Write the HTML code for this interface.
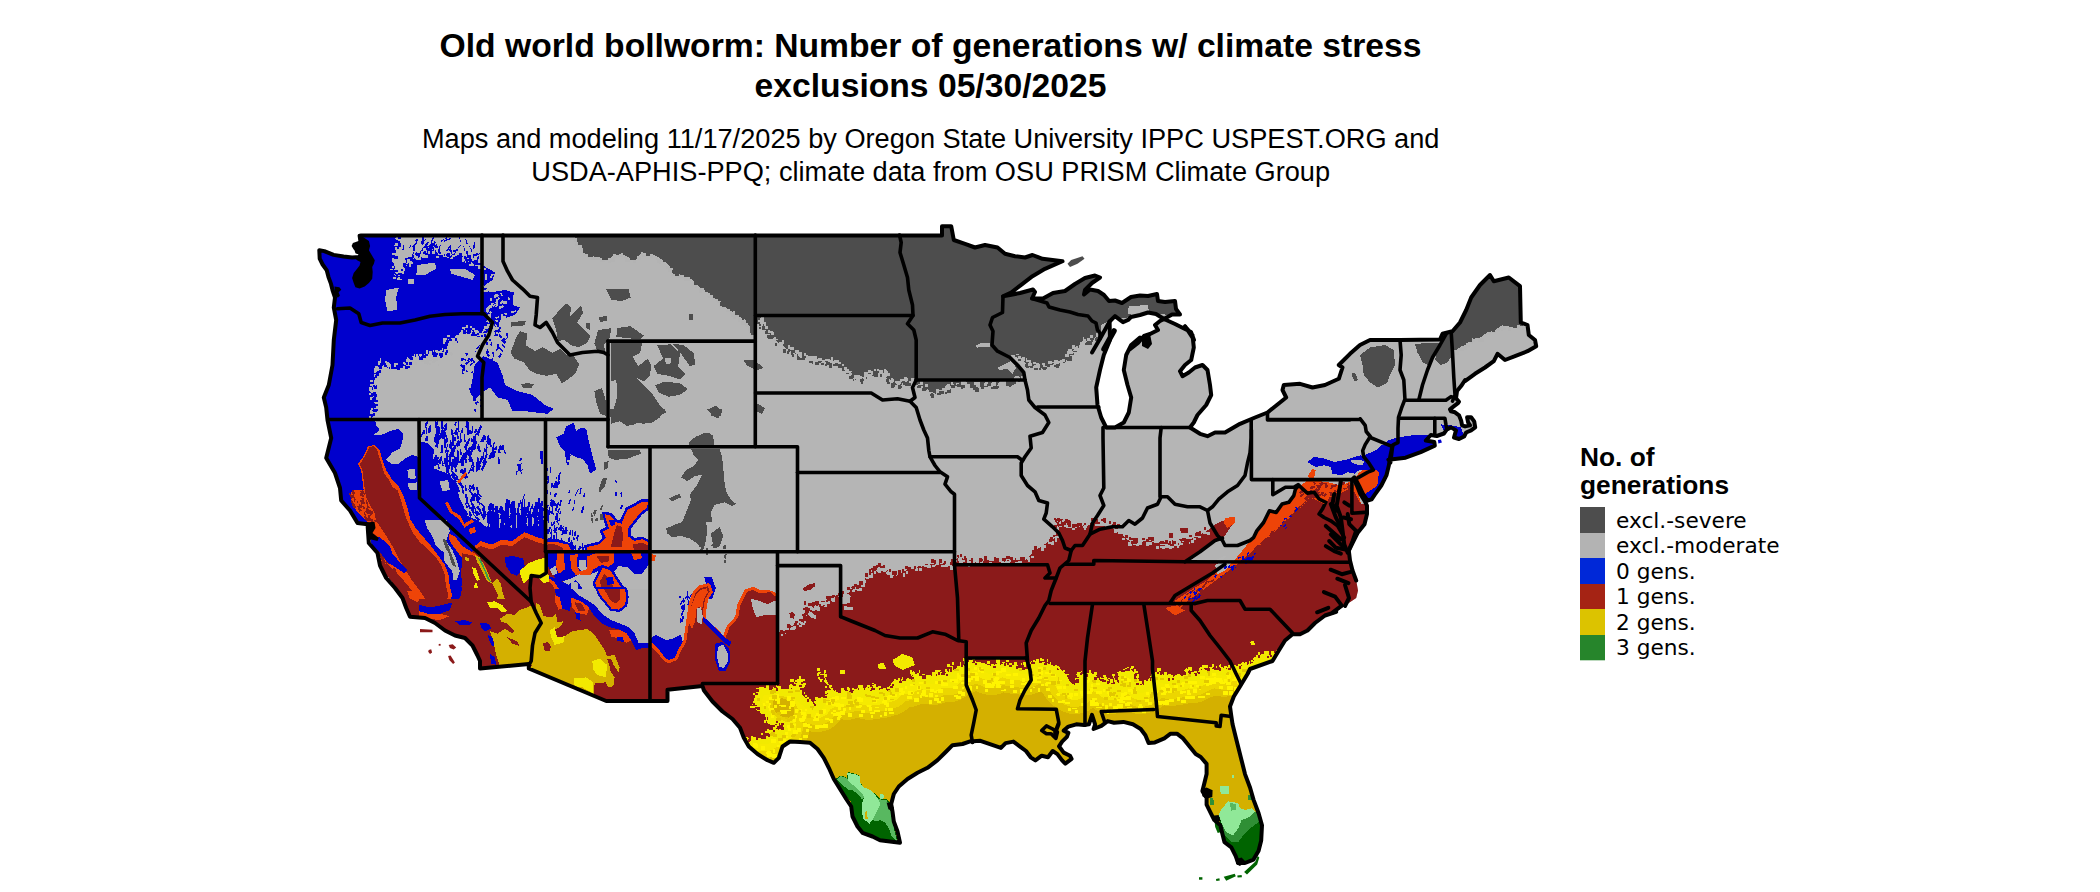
<!DOCTYPE html>
<html><head><meta charset="utf-8"><title>Old world bollworm</title>
<style>html,body{margin:0;padding:0;background:#fff;width:2100px;height:892px;overflow:hidden}</style>
</head><body>
<svg width="2100" height="892" viewBox="0 0 2100 892" style="position:absolute;left:0;top:0">
<defs><clipPath id="us"><path d="M361.2 235.5 L359.6 235.7 L360.5 241.8 L355.4 246.0 L357.1 251.9 L360.5 252.8 L359.6 257.0 L352.1 257.4 L343.6 256.5 L333.6 254.9 L324.3 251.1 L319.3 250.2 L319.7 258.6 L322.6 264.5 L326.8 270.4 L328.5 277.1 L331.0 283.9 L332.5 290.0 L335.0 297.5 L333.8 307.5 L336.2 320.0 L333.8 340.0 L332.5 365.0 L328.8 385.0 L323.8 397.5 L326.2 407.5 L327.5 420.0 L331.2 438.0 L326.2 458.0 L335.0 473.0 L340.0 488.0 L341.2 500.5 L350.0 510.5 L357.5 523.0 L367.5 524.2 L368.8 543.0 L377.5 553.0 L380.0 565.5 L386.2 578.0 L395.0 588.0 L402.5 598.0 L406.2 608.0 L410.0 616.8 L425.0 618.0 L435.0 623.0 L445.0 630.5 L455.0 635.5 L465.0 638.0 L472.5 645.5 L477.5 655.5 L480.0 661.0 L480.0 668.5 L528.8 664.0 L528.8 668.5 L606.2 701.0 L667.5 701.0 L667.5 689.8 L702.5 686.0 L703.8 690.2 L712.5 701.5 L722.5 711.5 L732.5 719.0 L740.0 727.8 L743.8 737.8 L748.8 746.5 L757.5 754.0 L767.5 760.2 L773.8 762.8 L778.8 757.8 L782.5 746.5 L790.0 741.5 L800.0 742.0 L810.0 742.8 L817.5 749.0 L823.8 757.8 L828.8 767.8 L833.8 779.0 L840.0 789.0 L846.2 799.0 L851.2 806.5 L852.5 816.5 L857.5 826.5 L862.5 832.8 L872.5 836.5 L880.0 840.2 L890.0 841.5 L900.0 842.8 L897.5 831.5 L893.8 821.5 L892.5 811.5 L891.2 804.0 L893.8 794.0 L898.8 786.5 L907.5 779.0 L917.5 772.8 L927.5 767.8 L937.5 760.2 L946.2 751.5 L952.5 745.2 L962.5 744.0 L969.4 741.6 L980.4 740.8 L991.4 744.7 L1000.9 747.9 L1005.6 743.1 L1013.4 741.6 L1019.7 746.3 L1026.0 751.0 L1030.7 757.3 L1035.4 760.4 L1041.7 755.7 L1048.0 757.3 L1052.7 751.0 L1057.4 754.1 L1062.1 760.4 L1065.3 763.6 L1071.6 758.9 L1070.0 755.7 L1063.7 752.6 L1059.0 746.3 L1062.1 741.6 L1066.9 736.9 L1068.4 732.9 L1063.7 730.6 L1068.4 726.6 L1076.3 724.3 L1084.1 725.1 L1088.9 724.3 L1092.0 714.9 L1095.1 724.3 L1093.6 729.0 L1101.4 725.9 L1107.7 721.1 L1114.0 722.7 L1123.4 721.9 L1132.9 724.3 L1140.7 729.0 L1145.4 735.3 L1148.6 743.1 L1154.9 742.4 L1164.3 738.4 L1170.6 733.7 L1176.9 733.7 L1183.1 738.4 L1189.4 746.3 L1195.7 754.1 L1200.7 757.0 L1206.6 763.9 L1206.6 774.1 L1204.1 784.3 L1202.4 791.1 L1206.6 797.9 L1206.6 804.7 L1210.9 813.3 L1214.3 820.1 L1220.3 825.2 L1222.8 835.4 L1224.5 842.2 L1231.3 847.3 L1235.6 855.9 L1238.2 863.0 L1245.0 863.0 L1253.5 859.6 L1258.6 850.7 L1261.2 840.5 L1262.0 825.2 L1258.6 813.3 L1253.5 799.6 L1250.1 787.7 L1245.0 774.1 L1241.6 760.4 L1236.2 739.0 L1232.5 724.0 L1231.2 715.2 L1230.0 706.5 L1233.8 696.5 L1240.0 686.5 L1247.5 674.0 L1250.0 669.0 L1272.5 661.0 L1278.8 650.5 L1285.0 640.5 L1292.5 634.2 L1300.0 634.2 L1307.5 630.5 L1315.0 623.0 L1325.0 615.5 L1336.2 611.8 L1345.0 605.5 L1356.2 598.0 L1358.0 590.5 L1356.2 580.5 L1352.5 570.5 L1350.0 560.5 L1348.8 550.5 L1352.5 543.0 L1357.5 533.0 L1364.5 524.2 L1367.0 514.1 L1367.0 505.7 L1364.5 500.7 L1360.3 493.9 L1356.9 485.5 L1354.4 480.5 L1355.7 479.3 L1359.1 485.9 L1362.8 493.6 L1367.5 500.7 L1371.6 499.3 L1374.6 494.8 L1381.3 485.5 L1386.4 475.4 L1388.9 465.3 L1390.0 458.0 L1392.5 445.5 L1390.4 462.7 L1388.4 459.7 L1405.6 457.7 L1420.7 452.1 L1434.8 445.6 L1434.3 442.0 L1425.8 440.5 L1430.8 435.0 L1436.8 436.0 L1443.9 433.5 L1446.9 429.4 L1451.0 427.4 L1456.0 430.4 L1454.0 437.5 L1459.0 439.0 L1464.1 436.5 L1466.1 432.5 L1471.1 430.4 L1475.2 427.4 L1474.2 421.4 L1471.1 417.3 L1467.1 417.3 L1468.1 422.4 L1470.1 425.4 L1465.1 426.4 L1462.1 425.4 L1461.1 420.4 L1459.0 415.3 L1455.0 412.3 L1451.0 411.3 L1450.0 409.3 L1454.0 406.2 L1458.0 403.2 L1459.0 401.7 L1456.0 398.2 L1457.0 391.1 L1461.1 386.1 L1465.1 380.0 L1465.0 381.2 L1475.0 373.8 L1485.0 367.5 L1493.8 361.2 L1497.5 353.8 L1505.0 360.0 L1515.0 356.2 L1527.5 351.2 L1536.2 346.2 L1535.0 340.0 L1528.8 335.0 L1527.5 325.0 L1520.8 322.5 L1520.0 286.2 L1508.8 277.5 L1493.8 281.2 L1490.0 275.0 L1480.0 285.0 L1471.2 297.5 L1466.2 310.0 L1460.0 322.5 L1452.5 331.2 L1442.5 333.8 L1440.0 339.5 L1400.0 340.0 L1370.0 340.0 L1360.0 345.0 L1350.0 353.8 L1338.8 365.0 L1342.5 367.5 L1338.8 378.8 L1325.0 385.0 L1312.5 387.5 L1300.0 383.8 L1283.8 385.0 L1282.5 390.0 L1286.2 397.5 L1280.0 402.5 L1267.5 412.5 L1255.0 417.5 L1240.0 423.8 L1225.0 432.5 L1215.0 432.5 L1207.5 436.2 L1200.0 433.8 L1190.0 427.5 L1193.8 422.5 L1197.5 415.0 L1206.2 405.0 L1211.2 395.0 L1210.0 385.0 L1207.5 370.0 L1202.5 365.0 L1195.0 367.5 L1188.8 372.5 L1182.5 376.2 L1180.0 371.2 L1185.0 365.0 L1191.2 360.0 L1193.8 347.5 L1192.5 335.0 L1185.0 326.2 L1194.0 340.0 L1191.0 332.0 L1185.0 329.0 L1175.0 324.0 L1164.0 319.0 L1160.0 321.0 L1155.0 325.0 L1158.0 330.0 L1150.0 334.0 L1144.0 336.0 L1138.0 343.0 L1130.0 349.2 L1140.0 337.5 L1131.2 345.0 L1126.2 355.0 L1123.8 370.0 L1127.5 385.0 L1131.2 397.5 L1128.8 412.5 L1123.8 422.5 L1115.0 427.5 L1106.2 427.5 L1101.2 417.5 L1097.5 405.0 L1096.2 387.5 L1100.0 370.0 L1103.8 355.0 L1110.0 340.0 L1109.6 321.5 L1115.0 316.1 L1120.3 320.2 L1123.0 322.2 L1128.0 320.0 L1131.0 317.0 L1140.0 315.0 L1148.0 312.5 L1156.0 314.0 L1164.0 319.0 L1172.0 314.5 L1180.0 314.5 L1176.0 309.0 L1175.0 301.0 L1165.0 302.0 L1158.0 301.0 L1157.0 294.0 L1148.0 296.0 L1140.0 295.5 L1131.0 297.0 L1122.0 303.0 L1115.0 300.5 L1109.0 301.0 L1104.0 295.0 L1098.0 291.0 L1090.0 289.5 L1084.0 294.5 L1085.0 290.0 L1092.0 283.0 L1100.0 277.5 L1095.0 275.5 L1085.0 278.0 L1075.0 284.0 L1065.0 291.0 L1053.0 293.0 L1043.0 298.5 L1032.0 298.5 L1035.0 292.0 L1033.0 289.5 L1020.0 293.0 L1010.0 295.0 L1003.0 296.2 L1011.2 292.5 L1022.5 283.8 L1032.5 276.2 L1045.0 268.8 L1062.5 261.2 L1042.5 258.8 L1032.5 255.0 L1025.0 257.5 L1015.0 256.2 L1005.0 253.8 L997.5 247.5 L985.0 245.0 L975.0 247.5 L965.0 243.8 L953.8 240.0 L951.2 226.2 L942.0 226.2 L942.0 235.5Z"/></clipPath></defs>
<g clip-path="url(#us)" shape-rendering="crispEdges">
<rect x="300" y="215" width="1260" height="677" fill="#b5b5b5"/>
<path d="M572.5 233.8L582.5 247.5L590 256.2L607.5 258.8L620 252.5L632.5 260L642.5 252.5L655 255L667.5 263.8L675 273.8L690 277.5L700 287.5L712.5 295L725 307.5L737.5 315L747.5 322.5L753.8 337.5L758.8 318.8L762.5 327.5L775 340L790 351.2L810 360L827.5 362.5L827.5 233.8Z" fill="#4d4d4d"/>
<path d="M610.6 343.4L642 343.4L640.1 352.9L632.5 356.7L638.2 366.2L647.7 358.6L651.5 366.2L649.6 375.8L643.9 381.5L636.3 377.7L651.5 392.9L659.2 404.4L666.8 412L659.2 415.8L651.5 421.5L643.9 419.6L632.5 425.3L622.9 421.5L613.4 412L610.6 396.7Z" fill="#4d4d4d"/>
<path d="M611.1 381.5L616.3 379.6L617.2 396.7L613.4 410.1L611.1 404.4Z" fill="#b3b3b3"/>
<path d="M657.3 345.3L670.6 344.3L680.1 352.9L678.2 366.2L685.8 373.9L680.1 379.6L668.7 375.8L657.3 373.9L653.4 366.2L663 358.6Z" fill="#4d4d4d"/>
<path d="M672.5 343.4L683.9 345.3L693.5 352.9L695.4 364.3L689.7 366.2L682 354.8Z" fill="#4d4d4d"/>
<path d="M655.3 385.3L664.9 381.5L680.1 383.4L687.8 389.1L680.1 394.8L668.7 396.7L659.2 392.9Z" fill="#4d4d4d"/>
<path d="M664.9 358.6L670.6 357.7L670.6 363.4L665.8 364.3Z" fill="#b3b3b3"/>
<path d="M708.7 409.1L716.3 405.3L722.4 412L718.2 418.1L711.6 415.8Z" fill="#4d4d4d"/>
<path d="M743 359.6L754.5 360.5L764 368.1L756.4 370.1L746.8 365.3Z" fill="#4d4d4d"/>
<path d="M757.3 403.4L764.9 408.2L762.1 413.9L757.3 412Z" fill="#4d4d4d"/>
<path d="M687.8 443.4L697.3 436.8L704.9 432.9L712.5 434.9L714.4 444.4Z" fill="#4d4d4d"/>
<path d="M510.5 352.9L516.2 337.6L520 331L527.6 333.8L525.7 345.3L535.3 351L542.9 347.2L552.4 352.9L560.1 349.1L565.8 354.8L571.5 352.9L579.1 364.3L575.3 373.9L567.7 379.6L562 383.4L556.2 373.9L546.7 375.8L537.2 373.9L529.6 370.1L523.8 362.4L514.3 358.6Z" fill="#4d4d4d"/>
<path d="M521 384.3L527.6 383L534.3 384.3L531.5 387.6L522.9 387.6Z" fill="#4d4d4d"/>
<path d="M594.4 391L602 388.2L605.8 400.5L605.8 415.8L600.1 413.9L596.3 402.5Z" fill="#4d4d4d"/>
<path d="M552.4 318.6L560.1 309.1L565.8 303.3L571.5 307.2L569.6 316.7L575.3 311L581 305.2L582.9 312.9L577.2 322.4L582.9 328.1L590.5 335.7L586.7 343.4L579.1 347.2L571.5 345.3L563.9 339.6L558.1 341.5L556.2 330Z" fill="#4d4d4d"/>
<path d="M598.2 330L611.5 328.1L609.6 337.6L603.9 345.3L605.8 352.9L598.2 352.9L594.4 343.4Z" fill="#4d4d4d"/>
<path d="M617.2 328.1L630.6 326.2L643.9 335.7L640.1 339.2L624.9 338L616.3 336.7Z" fill="#4d4d4d"/>
<path d="M605.8 289L628.7 289L630.6 297.6L621 301.4L611.5 299.5Z" fill="#4d4d4d"/>
<path d="M599.1 316.7L606.7 316.3L607.3 321.4L599.7 321.6Z" fill="#4d4d4d"/>
<path d="M688.7 313.8L692.5 313.8L692.9 319.5L689.1 319.5Z" fill="#4d4d4d"/>
<path d="M585.8 322.4L590.5 323.4L589.6 330L585.8 328.1Z" fill="#4d4d4d"/>
<path d="M510.5 322.4L525.7 320.5L524.8 325.3L511.4 326.6Z" fill="#4d4d4d"/>
<path d="M315 233.8L398.8 233.8L397.5 247.5L393.8 257.5L395 267.5L392.5 275L402.5 277.5L405 268.8L410 261.2L417.5 256.2L425 255L430 247.5L431.2 238.8L433.8 247.5L440 257.5L450 256.2L458.8 250L460 257.5L470 262.5L482 265L495 272.5L492.5 280L485 285L490 292.5L505 290L513.8 292.5L512.5 305L520 307.5L515 315L500 320L497.5 330L492.5 322.5L485 332.5L475 335L470 327.5L460 332.5L455 340L450 337.5L445 342.5L443.8 355L435 352.5L425 355L417.5 357.5L410 355L407.5 365L400 367.5L395 365L387.5 367.5L382.5 360L377.5 370L373.8 382.5L372.5 395L375 405L372.5 417.5L372.5 440L315 440Z" fill="#0000cd"/>
<path d="M417.5 265L435 262.5L436.2 268.8L425 275L416.2 275Z" fill="#b3b3b3"/>
<path d="M450 268.8L465 268.8L475 275L472.5 280L460 276.2L451.2 273.8Z" fill="#b3b3b3"/>
<path d="M386.2 290L398.8 287.5L396.2 297.5L397.5 310L387.5 311.2L385 300Z" fill="#b3b3b3"/>
<path d="M407.5 278.8L413.8 278.8L413.8 283.8L407.5 283.8Z" fill="#b3b3b3"/>
<path d="M502.6 301.5L503.3 302.6L501.1 304.6L499.8 302.8ZM507.6 297.5L508.9 296.9L510.6 299.4L508.4 300.4ZM491.5 305.9L492.1 307.6L488.4 309.6L487.4 306.7ZM494.3 295.5L495.1 293.9L498 294.6L496.6 297.4ZM496 326.4L497.8 327.1L496.9 331.2L493.9 330.1ZM489 312.1L490 311.1L491.9 312.4L490.2 314.1ZM483.4 291.9L483.4 290.5L488.5 290.2L488.4 292.6ZM485.6 290.2L485.8 289L489.9 289.4L489.5 291.4ZM500.4 293.3L501.4 292.9L502.8 295.9L501.1 296.5ZM487.5 308.9L489 309.7L488.1 312.9L485.5 311.6ZM490.7 304.7L491.6 305.5L490.1 307.6L488.6 306.3ZM497.4 298.2L498.3 297.3L500.1 298.6L498.6 300ZM504.8 315.4L506 316.4L505.1 318.3L503.1 316.6ZM485.4 274.3L486.7 274.4L486.9 279.8L484.6 279.6ZM490.7 275.6L492.2 276.3L491.9 278.4L489.3 277.1ZM497.9 293.8L498.9 295.5L494.9 298.7L493.2 296ZM489.3 316.9L490.9 317.7L488.9 322.8L486.3 321.5ZM501.5 314.3L502.8 314.2L503.3 318.9L501.2 319ZM485.9 308.6L487.5 307.8L489.6 311L487 312.2ZM495 303.5L495.7 304.3L493.3 306.9L492.2 305.6ZM487.2 316.5L487.5 314.5L491.5 314.4L491 317.8ZM501.1 301.2L502.3 300.3L504.2 301.8L502.3 303.4ZM496.8 303.1L498 303.6L497.1 307.6L495 306.8ZM489.8 316.8L491.2 317.2L490.7 321.2L488.2 320.6ZM482.9 286.5L483.5 285.3L487.4 286.6L486.4 288.7ZM495.6 326.3L497.4 325.2L500.9 329.6L497.8 331.4ZM501.7 318.8L502.2 316.7L505.7 316.8L504.9 320.3ZM495.3 324.5L496.2 324.2L497.1 325.8L495.5 326.3ZM498.6 316.3L499 317.5L495.7 319L495.1 317.1ZM501.4 303.2L501.6 301.2L507 300.9L506.8 304.2ZM489.1 305.1L490.5 306.1L488.1 310.5L485.8 308.9ZM484 269.5L484.4 268.3L486.3 268.5L485.7 270.5ZM489.6 300.3L490.6 298.3L492.8 298.7L491.1 302ZM493.2 302.6L493.8 304.3L491.8 305.6L490.9 302.8ZM507 312.9L507.4 314.6L504.8 315.8L504.2 312.9ZM515.9 310.2L516.3 311.3L511.8 313.3L511.1 311.5ZM494.8 273.7L495.2 274.7L491.3 276.4L490.7 274.7ZM494.9 321L495.2 319.6L498.3 319.7L497.8 322.1ZM503.3 305.1L504 306.7L499.7 309.3L498.5 306.6ZM496.2 298.8L498.1 299L498.3 303.7L495.1 303.4Z" fill="#b3b3b3"/>
<path d="M505.9 333L507.4 332.9L508.2 336L505.7 336.2ZM496.4 330.1L497.3 331.4L495.6 333.2L494.1 331ZM486.1 342.3L487.5 342.4L487.8 345.5L485.5 345.4ZM496.4 330L497 329.6L499.4 332.7L498.4 333.3ZM498.1 348.4L498.6 349.1L496.4 351.2L495.4 350ZM493.7 361.5L494.5 361.1L496.2 364.1L494.7 364.7ZM498.4 335.1L499.4 334.2L502.3 337L500.5 338.4ZM496.4 324.4L497.1 324L498.9 326.6L497.8 327.2ZM503.3 338.2L504.8 338.4L504.9 341.5L502.4 341.1ZM492.2 352.3L493.3 351.9L494.6 354.8L492.9 355.3ZM501.5 344.6L502 344.1L505.3 346.7L504.5 347.6ZM485.2 350.8L486.2 350.2L488.2 352.5L486.6 353.6ZM498.4 329.1L499.7 328.8L500.6 331.5L498.5 331.9ZM501.1 340.2L502 339L506.5 341.8L504.9 343.9ZM488.7 339.4L489.8 338.6L491.5 340.4L489.6 341.6ZM492.9 355.4L493.7 355.3L494 357.2L492.7 357.2ZM498.7 327L499.8 326.4L501.5 328.9L499.7 329.8ZM498.5 348.1L499.3 347.2L503.6 350.6L502.3 352ZM497.1 333.6L497.7 334.4L494.9 337L493.9 335.7ZM487.8 357.6L488.9 358L487.9 361.5L486.1 360.8ZM491.6 341.1L492.2 341.1L492.4 345.6L491.2 345.6ZM485.9 351.5L486.7 351.3L488.3 355.4L487.1 355.8ZM497.5 344.3L498.7 344.5L498.5 349.7L496.5 349.5ZM500.7 353.2L501.8 353.9L500 357.9L498 356.8ZM487 349L487.9 348.9L488.9 353L487.4 353.3ZM487.3 354.2L488.8 353.6L490.3 356.2L487.9 357.1ZM507.4 336.4L508 336.8L506.2 340L505.1 339.3ZM492.2 358.2L493.3 358.7L492.7 360.9L490.9 360ZM494.3 333.8L495.2 332.8L498.4 335L496.9 336.7ZM491.3 342L492.2 342.4L491.1 345.5L489.8 345Z" fill="#0000cd"/>
<path d="M436.7 244.4L437.2 245.3L434.7 247L433.9 245.6ZM459.2 236.7L459.8 236.6L461 242.4L460 242.6ZM466.3 250.8L467.6 250.6L469 257.8L466.8 258.1ZM428 241.6L429.1 242.5L424.9 248.7L423 247.3ZM469.3 254.8L470.4 254.7L471.4 259.5L469.5 259.7ZM450.2 249.7L451.5 249.5L452.4 252L450.2 252.4ZM429.8 245.1L430.1 245.8L424.9 248.2L424.5 247.2ZM477.4 252.8L477.8 253.6L473.6 256.1L472.9 254.8ZM429.6 243.7L430.3 243.7L429.8 251.6L428.8 251.5ZM459.1 254.3L459.8 254.6L458.5 258.1L457.4 257.6ZM477.8 256.3L479 256.6L477.3 264.2L475.4 263.6ZM403.4 244.8L404.3 244.9L403.6 250.4L402.2 250.1ZM426.2 238.6L426.7 239.3L421.1 243.4L420.3 242.1ZM411 243.6L411.5 243.8L410.2 248.4L409.2 248ZM413.7 245.7L414.9 245.7L415.4 251L413.3 251ZM420.8 250.4L421.5 250.6L419.7 257.1L418.5 256.7ZM446.7 236.3L447.5 236.7L446.6 239.5L445.2 238.9ZM479.8 253.2L480.1 254.2L475.7 256.2L475.1 254.7ZM413.3 252.3L414 252.5L412 259.3L410.9 258.9ZM450.6 238L450.9 238.9L444 242L443.4 240.6ZM433.9 235.7L434.7 236L432.1 242.3L430.7 241.7ZM439.8 244.4L440.7 244.6L439.8 251L438.2 250.7ZM463.1 245.7L463.6 245.5L465.4 251.1L464.5 251.3ZM405 258.3L405.8 258.1L407.5 262.5L406.3 262.9ZM422.4 248.4L423.5 248.8L422.9 251.4L421.2 250.7ZM450.3 244.8L451 245.2L447.5 251.3L446.4 250.6ZM418 238.2L418.8 238.9L416.7 241.8L415.3 240.5ZM426.3 246.6L427.4 246.4L428.5 251.1L426.8 251.4ZM416.3 241.9L417.1 242.6L413.6 248L412.1 246.9ZM420.7 241.9L421.5 241.5L423.4 244.9L422.1 245.5ZM460.6 245.3L461 245.8L458.1 248.7L457.4 247.8ZM434.3 241.3L435.7 241.7L434.6 246.6L432.3 245.9ZM416.1 252.2L417.3 252.7L416.5 255.6L414.5 254.8ZM458.2 252.5L459.1 252.5L459.4 255.5L457.9 255.5ZM474.2 242.3L475.3 242.6L474.3 249.1L472.5 248.7ZM449.3 246.7L450.1 247.3L448 251L446.6 250ZM465.4 239.1L466.3 238.9L467.8 243.9L466.2 244.3ZM411.2 256.3L411.7 257.2L406.7 259.9L405.9 258.3ZM422.5 237.1L423.7 237.2L423.6 244.4L421.6 244.3ZM429.2 244.9L430.2 244.9L430.3 248.9L428.6 248.8ZM412.7 253.5L413.4 253.5L413.8 258.3L412.6 258.4ZM450.2 246.3L451.3 246.5L450.8 251.7L448.9 251.4ZM472.5 253.7L473.5 253.5L474.8 257.4L473.3 257.8ZM444.2 239.1L444.6 239.9L441.1 241.8L440.6 240.7ZM469.2 246.5L469.8 246.2L472.6 251.4L471.6 251.9Z" fill="#0000cd"/>
<path d="M469.5 388.3L471 387.9L471.9 389.9L469.4 390.4ZM482 392.7L483.2 393.6L481.8 396.2L479.9 394.7ZM476.2 389.8L477.3 388.8L480.3 391.3L478.4 393ZM476 349.7L476.6 349.9L476 352.1L474.9 351.7ZM470.8 358.6L471.9 357.8L475.5 361.8L473.6 363.2ZM469.1 358.1L470.1 358.7L468.7 362L467 361ZM466.3 369.5L467.1 369.5L467.5 371.5L466.1 371.5ZM468 358.8L468.5 358.1L472.7 360.8L471.8 362ZM479.6 344.5L480.4 345L477.1 349.8L475.9 348.9ZM479.4 364.3L480.5 364.6L480 367.7L478.1 367.1ZM482.2 389.7L482.7 390.3L480.3 392.4L479.5 391.3ZM479.1 363.4L480 363.2L481.7 368.6L480.3 369ZM465.2 353.7L466.3 352.6L468.3 353.7L466.5 355.6ZM463.4 365.1L464.8 365.3L464.5 371.6L462.1 371.3ZM469.5 391.4L470.5 390.9L471.7 392.8L469.9 393.5ZM476.7 379.6L478.1 380.1L476.6 385.5L474.3 384.7ZM479.5 394.8L480.2 394L483.9 397.1L482.8 398.2ZM462 370.6L462.7 370.4L463.9 374.1L462.6 374.4ZM474.8 408.6L476 409L475.5 411.7L473.5 411ZM482 396.4L483 396.8L481.6 401.1L479.9 400.4ZM459.9 365.5L460.8 364.1L464.1 365.6L462.6 367.9ZM473.3 394.6L474.9 394.5L475.8 400.8L473.2 401ZM474.9 380.2L475.6 379.1L479.8 381.2L478.6 383.1ZM480.9 385.6L481.6 385.5L482.4 388.1L481.1 388.3ZM475.2 402.1L476.3 401.8L477.6 404.4L475.7 405ZM460.9 357.9L462.4 357.7L463.4 360.8L460.9 361.2ZM472.4 362.5L473.2 363.4L470.5 366.4L469.1 364.9ZM477 367.1L477.7 366.6L479.7 369L478.6 369.8ZM476.3 401L476.9 400.6L478.8 402.6L478 403.3ZM479 363.2L479.5 363.9L474.3 367.7L473.5 366.4ZM480.4 405.5L481.8 405.3L483.3 411.2L480.9 411.6ZM469.2 360.2L470.1 361.2L466.5 365.2L465 363.5ZM471.6 371.2L472.7 371.1L473.2 373.2L471.4 373.4ZM463 359.2L463.5 358.3L466.3 359.7L465.4 361.1ZM478.7 381.8L479.9 380.8L484.3 384.9L482.5 386.6Z" fill="#0000cd"/>
<path d="M462.3 322L463 323.2L459.3 325.6L458.3 323.7ZM467.2 323.7L468.9 324.5L468.5 326.9L465.7 325.6ZM467.9 321.6L469.2 322.3L468.7 324.5L466.4 323.3ZM447.8 328.9L448.6 330.4L443.7 333.4L442.5 330.7ZM446.6 323.9L447.8 324.2L447.5 327.2L445.5 326.7ZM460.8 326.6L462.2 327.6L459.5 332.3L457.2 330.7ZM476.5 322.9L477.1 321.8L480.1 323L478.9 324.9ZM486 313.4L486.5 314.2L482 317.5L481.1 316.1ZM464.8 318.2L464.8 319.5L458.5 320.2L458.4 318ZM456 319.8L457 320L456.6 324.5L454.9 324.2ZM473.8 335L473.8 333.4L477 332.9L476.9 335.6ZM481.2 319.2L481.7 317.6L485.6 318.2L484.8 320.9ZM478.5 333.4L478.6 335.2L472.2 336L472.1 333ZM461.8 318.3L462.5 319.5L459.1 321.9L458 319.9ZM453.9 323.2L455.5 323.2L455.9 326.6L453.3 326.6ZM450.5 331.6L450.7 333L444.6 334.6L444.2 332.2ZM464.1 315.2L464.9 313.8L470 316.2L468.6 318.6ZM449.1 334L449.4 335L444.3 337.3L443.6 335.6ZM449.2 316.9L450.3 318.4L446.6 321.9L444.8 319.4ZM469.6 332.2L469.9 333.5L466.9 334.7L466.4 332.5Z" fill="#0000cd"/>
<path d="M426.3 357.4L427.9 357.7L427.6 362.3L424.8 361.8ZM417.2 357.3L417.4 356.1L419.5 356.1L419.1 358.1ZM434.9 358.2L436.2 359.1L433.7 363.2L431.6 361.6ZM436 361.2L436.2 362.3L431.7 363.1L431.5 361.4ZM427.9 360.2L429.2 360.6L429.3 362.2L427.1 361.7ZM427.3 359.2L428.9 358.4L430.7 360.5L428.1 361.9ZM467.1 330.9L468.5 330.1L470.1 332L467.8 333.3ZM433.6 357.9L434.5 358.3L433.9 360.4L432.3 359.7ZM426.7 362.4L427.6 361.3L431.3 363.8L429.7 365.6ZM454.9 342.8L455.8 344.1L453.3 346.4L451.8 344.1ZM470.4 330.7L471.5 330.4L473.1 334.2L471.3 334.8ZM451.7 343.6L452.1 342.3L456.4 343L455.8 345.2ZM470.1 332.2L470.3 330.7L472.9 330.5L472.5 333ZM421.2 361.9L421.3 360.8L424.7 360.6L424.6 362.5ZM424.2 358.8L425.4 360.2L423.2 362.8L421.2 360.4ZM448.6 352.9L450 351.5L453.3 353.7L451 356.1ZM427.8 356.7L428 357.8L425.4 358.6L425.1 356.8ZM429.3 360.9L429.4 360L432.2 359.9L432.1 361.5ZM435.1 360.8L435.1 358.9L437.6 358.4L437.5 361.6ZM428.7 355.4L430.3 354.3L431.9 355.6L429.3 357.4ZM415 362.2L416.7 361.9L417.7 364.3L414.9 364.8ZM434.4 357.8L435.8 358.1L436 359.7L433.6 359.2ZM437.5 363.6L438.2 363.2L439.6 365.1L438.4 365.8ZM423.7 363.5L423.9 361.6L428.6 361.5L428.2 364.8ZM458 340.5L458.4 342.2L455.8 343.3L455.1 340.5Z" fill="#b3b3b3"/>
<path d="M475 365L483.8 356.2L497.5 362.5L502.5 375L505 385L517.5 391.2L532.5 395L545 405L553.8 408.8L547.5 413.8L525 411.2L512.5 411.2L507.5 400L497.5 397.5L490 387.5L483.8 391.2L475 400L470 392.5Z" fill="#0000cd"/>
<path d="M822.5 222.5L822.5 357.5L837.5 362.5L850 375L857.5 381.2L867.5 373.8L882.5 372.5L895 385L910 381.2L916.2 382.5L925 387.5L935 393.8L950 387.5L955 382.5L965 385L980 387.5L1000 385L1012.5 381.2L1022.5 378.8L1025 375L1020 367.5L1012.5 360L1015 356.2L1025 362.5L1037.5 367.5L1050 365L1065 362.5L1072.5 351.2L1082.5 342.5L1092.5 338.8L1100 335L1101.2 325L1112.5 319.5L1125 318L1135 315.5L1127.5 313.8L1128.8 306.2L1147.5 305L1150 313.8L1160 314.2L1180 315.5L1182.5 297.5L1100 272.5L1065 252.5L950 222.5Z" fill="#4d4d4d"/>
<path d="M975 346.2L981.2 342.5L990 343L990 347L977.5 347.5Z" fill="#b3b3b3"/>
<path d="M997.5 368L1005 363.8L1011.2 361.2L1016.2 367.5L1012.5 373.8L1007.5 368.8L1000 370Z" fill="#b3b3b3"/>
<path d="M1452.5 355L1455 350L1465 345L1472.5 338.8L1480 337.5L1487.5 332.5L1495 330L1502.5 325L1507.5 326.2L1515 327.5L1522.5 325L1522.5 272.5L1487.5 272.5L1440 335L1446.2 333.8L1451.2 332.5Z" fill="#4d4d4d"/>
<path d="M1446.2 333.8L1451.2 332.5L1452.5 355L1447.5 362.5L1440 365L1435 360L1437.5 350Z" fill="#4d4d4d"/>
<path d="M1415 343.8L1440 342.5L1438.8 347.5L1432.5 357.5L1427.5 365L1422.5 362.5L1417.5 352.5Z" fill="#4d4d4d"/>
<path d="M1360 355L1370 347.5L1385 345L1393.8 350L1395 365L1390 375L1387.5 382.5L1377.5 387.5L1370 382.5L1363.8 375L1362.5 365Z" fill="#4d4d4d"/>
<path d="M1351.2 373.8L1355 372.5L1358 380L1354.5 381.2Z" fill="#4d4d4d"/>
<path d="M300 419.4L374.9 419.4L376.1 425L379.8 430L373.6 435L381.1 435L389.8 431.2L398.6 428.7L403.6 433.7L402.3 441.2L399.8 448.7L392.3 452.4L386.1 459.9L391.1 463.6L398.6 463.6L404.8 458.7L412.3 454.9L419.1 457.4L420.4 441.2L432.2 444.9L438.5 451.2L437.2 458.7L441 463.6L447.2 472.4L443.5 479.9L439.7 487.4L436 492.3L437.2 499.8L442.2 504.8L449.7 509.8L456 513.6L462.2 521.7L300 521.7Z" fill="#0000cd"/>
<path d="M407.3 469.9L412.3 468.6L414.2 477.4L408.5 478Z" fill="#b3b3b3"/>
<path d="M407.3 483.6L417.3 482.4L417.3 489.8L409.8 489.8Z" fill="#b3b3b3"/>
<path d="M349.9 519.8L546.4 519.8L546.4 544.7L537 542.2L524.6 537.2L512.1 546L502.1 544.7L492.1 549.7L480.9 546L474.7 549.7L465.9 555.9L462.2 562.2L460.9 573.4L462.2 583.4L459.7 593.4L454.7 600.8L444.7 609.6L439.7 618.3L424.8 615.8L419.8 608.3L412.3 595.9L399.8 577.1L387.3 558.4L374.9 539.7L362.4 521Z" fill="#0000cd"/>
<path d="M419.4 441L427.9 443.4L434.4 449.9L432.8 457.3L434.4 468.6L447.4 473.5L457.1 483.3L458.8 496.3L463.6 506L466.9 515.8L478.3 520.6L486.4 527.1L491.3 527.1L497.8 528.8L507.5 525.5L514 528.8L523.8 527.1L533.5 525.5L543.3 528.8L543.3 545L479.9 545L419.4 499.5Z" fill="#0000cd"/>
<path d="M419.4 421.5L543.3 421.5L543.3 528.8L533.5 525.5L523.8 527.1L514 528.8L507.5 525.5L497.8 528.8L491.3 527.1L486.4 527.1L478.3 520.6L466.9 515.8L463.6 506L458.8 496.3L457.1 483.3L447.4 473.5L434.4 468.6L432.8 457.3L434.4 449.9L427.9 443.4L419.4 441Z" fill="#b3b3b3"/>
<path d="M436 455.6L441.7 454L442.5 468.6L437.6 470.3Z" fill="#b3b3b3"/>
<path d="M439.3 481.6L448.2 480L449.8 489.8L442.5 491.4Z" fill="#b3b3b3"/>
<path d="M410 468.6L414.9 469.4L415.7 478.4L410 479.2Z" fill="#b3b3b3"/>
<path d="M441.3 445.1L442.8 445.2L442.9 453.5L440.4 453.4ZM427.5 420.3L428.5 420.7L426.9 425.8L425.2 425.1ZM493.9 441.7L494.9 442L493.2 450.2L491.6 449.8ZM496 446.1L497.5 446.6L496.8 450.6L494.3 449.8ZM486.3 446.5L487.1 446.5L487.4 456.7L486 456.7ZM463.4 452.8L464.9 453.4L461.3 463.4L458.8 462.3ZM455 456.8L456.9 457L456.5 467.3L453.3 467ZM428.6 425.7L430.6 425.6L431.6 432.4L428.4 432.6ZM475.2 434.1L476.4 434.3L475.9 440.4L473.9 440.1ZM473.2 446.1L474.7 446.7L470.8 456.7L468.4 455.6ZM480.3 425.2L482.1 425.9L478.7 435.8L475.7 434.6ZM469.3 453.8L471 453.7L472.1 461.6L469.2 461.7ZM445.8 423.1L447.6 423.9L446.7 428L443.6 426.8ZM489.3 438L490.4 437.9L491.8 447.2L489.9 447.4ZM483.8 434.9L485.6 435.7L483.3 442.8L480.3 441.5ZM423.5 429.7L425 429.8L425.2 434.5L422.7 434.3ZM449.3 466.4L450.4 466.9L447.9 473.5L446 472.7ZM466.3 450L467.7 450.3L466.5 458.5L464.1 458ZM501.8 444.7L503.5 444.9L503.5 450.2L500.8 450ZM464.8 445.7L466.1 445.5L468.1 453.2L466 453.6ZM476 441L477.2 441.3L475.2 450L473.3 449.5ZM460.1 448.7L461.3 448.8L461.7 454.7L459.6 454.6ZM452.6 447.1L453.8 447.1L454.2 456.6L452.1 456.6ZM483.7 435.1L485.4 435L486.3 440.3L483.4 440.4ZM437.9 440.9L438.8 441.1L437.4 447L436 446.6ZM449.5 461.2L451.3 461.3L451.4 466.2L448.4 465.9ZM450.8 451.9L452 452.4L450.4 457.4L448.3 456.5ZM438.4 459.5L439.3 459.9L437.6 465.3L436 464.6ZM491.1 451.8L492.2 452.2L491.1 456.6L489.2 455.9ZM445.9 458.3L447.1 458.3L447.6 465L445.6 465.1ZM457.8 440.8L458.7 441.2L457.5 444.6L456.1 443.9ZM441.2 455.5L442.6 456.1L440.4 463.2L437.9 462.3ZM445.6 435.2L446.5 435.2L447.2 443.2L445.8 443.3ZM444.4 458.3L446.2 458L448.4 466.6L445.4 467.1ZM497.6 448.7L499.2 448.4L500.7 453L498 453.6ZM447.4 449.8L448.7 450L447.4 460.6L445.3 460.3ZM473.1 435.7L474.9 435.6L475.7 442.8L472.7 442.9ZM487.7 434.9L489.1 434.8L490.3 444.5L487.9 444.7ZM437.4 456.7L439 457.5L435.4 466.6L432.8 465.4ZM444.7 432L446 432.2L445.3 439.3L443.1 439ZM425 423.2L425.9 423.1L427.5 434L426.1 434.1ZM464.1 433.7L465.3 433.7L465.6 442.2L463.6 442.2ZM471.1 438L472.3 437.9L473.1 442.3L471.1 442.5ZM468.9 455.4L469.8 455.4L469.8 460.3L468.4 460.2ZM454.6 447.5L455.7 447.9L452.9 457.2L451 456.5ZM474.6 439.2L475.9 439.3L476 448.2L473.7 448.1ZM457.5 452.9L458.6 453L458.1 460.6L456.3 460.4ZM458.4 440.1L460.1 440.9L458.2 447L455.3 445.7ZM498 459.3L499.3 459.3L499.9 463.7L497.6 463.8ZM492.3 450.8L493.9 451.5L491 459.7L488.4 458.5ZM483.6 448.6L485.1 448.4L486 451.8L483.6 452.2ZM432.9 458.7L433.8 458.5L434.9 462.7L433.4 462.9ZM480.8 459.1L482.2 459.8L478.4 468.7L476.2 467.6ZM463.9 452.6L465.5 452.4L467.5 462.9L464.8 463.3ZM426.3 435.6L428 435.9L427.6 441.3L424.7 440.7ZM436.8 431.3L438.4 431.7L437.5 438.2L434.8 437.6ZM452.5 439.9L453.8 439.9L454 444.1L451.9 444ZM463.8 468.1L465.5 468.3L465.7 473L462.9 472.8ZM481.1 456.1L482.5 456.5L481.1 463.6L478.8 463ZM475.8 462.3L476.7 462.2L478 471.3L476.5 471.5ZM499.7 445.4L501.4 445.6L501.4 450.5L498.7 450.3ZM444.4 429.5L445.5 429.7L444.8 435L442.9 434.6ZM446.3 453.2L448.1 453.4L448.1 461.4L445.1 461.2ZM443.1 430.1L444.5 429.8L446.1 436L443.9 436.5ZM435.4 437.9L437.1 437.9L437.6 442.5L434.8 442.5ZM473.6 441.6L475.2 442.2L472.9 449.7L470.2 448.6ZM464 453.6L465.2 454.1L462.1 462.7L460.1 461.9ZM442 428.5L443.5 429L440.9 439.5L438.3 438.8ZM436.5 430.2L438.1 430L439.5 440.1L436.8 440.3ZM456.7 453.6L457.6 453.5L459.3 463.3L457.8 463.5ZM446.1 438.1L447.6 438.4L447.5 442L444.9 441.5ZM450.2 439.9L451.3 440L450.6 448L448.8 447.8ZM467.4 426L469 426L469.6 430.4L467 430.4ZM454.4 456.3L455.5 456.7L453.2 465L451.4 464.4ZM476.7 456.9L478.4 456.8L479.3 467.7L476.4 467.8ZM478.2 445.9L479.6 445.7L480.9 451.8L478.6 452.1ZM483.5 451.7L484.5 451.9L483.3 460.3L481.6 460ZM475.9 428.8L477.3 429.5L476 433.7L473.6 432.7ZM450.1 453.7L451.5 454L450.3 462.4L447.9 461.9ZM460 433.3L460.9 433.3L461.9 442.2L460.5 442.3ZM486.6 446.4L487.8 446.8L486.5 452.2L484.6 451.6ZM453.2 463L454.6 462.8L456 468L453.8 468.4ZM487.1 436L488.3 436L488.6 443.7L486.5 443.7ZM488.5 437L489.3 437.4L487.5 442.7L486.1 442.1ZM430 425.3L431.6 425.8L430.5 430.7L427.9 429.8ZM438.3 438.3L439.9 438.8L437.7 447.8L434.9 446.9ZM472.1 425.8L473.1 425.8L473 433.4L471.3 433.3ZM469.4 430.5L471.1 430.4L471.8 434.1L469 434.2ZM469 446.7L470.9 447.2L469.5 455.9L466.4 455.1ZM447 460.3L448.5 460.5L447.8 469.6L445.4 469.3ZM478.1 444.1L479.4 444.3L479.1 449.3L476.9 449ZM466.7 420.6L468.2 420.8L467.8 427.7L465.2 427.4ZM471.6 465.3L472.5 465.7L468.9 474.6L467.5 473.9ZM450.9 428.7L452.3 428.5L454.4 439L452 439.3ZM450.1 460.5L451.1 460.7L448.6 470.6L447.1 470.1ZM473.2 465.1L474.8 465.6L473.6 471.6L470.9 470.8ZM485.9 444.4L486.7 444.3L487.5 448.3L486.1 448.5ZM438.4 426.4L440 426.6L439.5 434.2L436.8 433.9ZM457.1 449.8L458.4 449.8L458.8 459.2L456.6 459.2ZM456.5 428L458 428.7L455.9 434.7L453.4 433.6ZM453.2 446.7L454.2 446.9L453.8 450.5L452.1 450.1ZM438.5 458.7L439.8 458.6L440.8 463.5L438.6 463.8ZM439.1 428.9L440 429L440.1 432.7L438.5 432.6ZM430.7 428.8L431.5 428.9L431.3 432.6L429.9 432.4ZM460.5 439.2L461.3 439.5L459.7 445.9L458.4 445.5ZM456 421.5L457 422L455.4 425.9L453.8 425.1ZM462.2 428.2L463.3 428.4L462.7 432.9L460.8 432.4ZM444.5 458.4L446.4 458.6L446.3 464.4L443.2 464.1ZM443.3 432.3L444.7 432.9L443 438.8L440.6 437.9ZM504 449.7L504.8 449.5L506 453.6L504.6 453.9ZM434.4 419.1L435.9 418.8L438.2 429L435.7 429.5ZM462.4 460L464.1 460.8L463.1 464.5L460.2 463.2ZM448.5 449.6L449.3 450L447.1 455.3L445.7 454.7ZM454.7 436.3L456.5 436.8L455.9 441.6L452.8 440.8ZM486.4 453.5L487.7 454L484.3 464.1L482 463.2ZM451.6 439.3L453.3 439.2L454.2 446.4L451.4 446.5ZM445.2 426.2L446.6 426.6L444.5 435.4L442.1 434.6ZM453.7 444.7L455.3 444.5L456.2 448.2L453.5 448.4ZM461.9 457.2L462.7 457.5L461.6 462.7L460.2 462.3ZM494.6 450.6L496.2 451.3L494.1 458L491.3 456.8ZM498.1 456.6L499.3 456.6L499.6 460.7L497.5 460.7ZM454.8 467.6L456.2 467.4L457.3 471.7L454.9 472ZM440.9 420.8L442.5 420.7L443.8 428.6L441.2 428.8ZM423.7 430L424.6 430.4L421.4 437.6L419.9 436.8ZM457.5 457.1L459.2 457.5L458.1 465.1L455.3 464.5ZM436.4 429.1L438.1 428.8L439.4 433L436.5 433.5ZM437.5 464.1L438.8 463.9L440.1 469L437.8 469.4ZM493.2 447.7L494.8 448.1L493 458.1L490.2 457.5ZM451.2 447.2L452.2 447.3L451.5 457.2L449.9 457.1ZM471.6 459.2L473.1 459.1L474 466.2L471.6 466.3ZM449.8 441.9L451.2 441.7L453.1 450.7L450.7 451ZM458 451.3L459 451.5L458 457.7L456.3 457.3ZM457.7 421.2L458.7 421.1L459.6 431.8L458 431.8ZM485.7 460.6L487.1 461.3L482.6 471L480.4 469.8ZM469 437.8L470.7 438.6L466.6 448.6L463.8 447.3ZM462.5 455.3L464.5 455.5L464.3 466.1L461.1 465.8ZM445.7 464.2L446.6 464.1L447.7 473.1L446.2 473.2ZM447.4 443.5L448.2 443.7L446.3 452.7L445 452.4ZM444.5 439.1L446.1 439.2L446.4 448.4L443.6 448.3ZM445.5 425.4L446.8 425.4L447.2 429.5L445.1 429.5ZM435.2 454.6L437.1 455.1L434.6 465.9L431.5 465ZM435 433.9L436.4 434L436 441.7L433.7 441.5ZM451.6 459.4L453 459.4L453.5 469.7L451.3 469.8ZM441.1 458.7L442 458.5L443.8 465.9L442.3 466.2ZM466.2 426L467.2 425.8L469.2 435L467.5 435.3ZM461.2 468.8L463 469.4L462.4 473.2L459.3 472.1ZM436.9 421L438.1 421.1L438.1 425L436.2 424.8ZM467.9 422.1L469 422.1L469.3 431.8L467.5 431.8ZM456 431.2L457.3 431L459.2 439.1L457.1 439.5ZM479.8 465.2L480.8 465.6L479.6 470L477.9 469.4Z" fill="#0000cd"/>
<path d="M455.3 475.5L456.2 475L458.2 477.9L456.7 478.7ZM476.6 506.4L477.8 505.6L481 509.2L479.1 510.6ZM450.9 474.1L452.4 472.9L457.9 479.4L455.4 481.2ZM476.2 507.1L477.2 506.4L481.8 511.9L480.3 513ZM474.9 508.8L475.8 508.6L477.3 515.5L475.8 515.7ZM472 494.7L473 493.9L475.6 496.5L473.8 497.8ZM481.6 508.8L482.6 508.3L486.5 516.4L484.7 517.2ZM468.5 510.8L469.9 510.5L471.4 516L469.1 516.5ZM467.7 489.3L468.6 488.6L474.1 494.9L472.6 496.1ZM447.4 471.2L448.5 470.8L451.1 476.8L449.3 477.5ZM465 485.2L466 485.2L466.9 490.8L465.2 491ZM456.7 485.6L457.9 485.3L460 491.6L458.1 492.1ZM475.5 499.5L476.5 498.8L479.3 502L477.6 503.2ZM463 469.7L464.8 469.2L468.1 477.9L465.2 478.8ZM472.4 514.1L473.2 513.4L480 519.8L478.7 521.1ZM476.3 487.2L477.9 487L479.4 495.2L476.9 495.6ZM457.2 478.7L458 478.2L460.8 483L459.4 483.7ZM458.9 484L460.4 482.7L464.7 486.7L462.2 488.8ZM452.6 472.3L453.3 471.6L458.7 476.9L457.4 478ZM450.7 469.7L451.7 469.3L456.1 477.8L454.5 478.5ZM476.7 489L478 488.8L478.9 493.4L476.7 493.6ZM460.8 470L461.8 469.5L466.3 477.1L464.7 478ZM477.8 494.1L478.6 493.3L482.1 496.4L480.7 497.7ZM471.8 507.6L473.1 507.2L474.5 510.6L472.3 511.2ZM479.7 512.3L481 511.5L485.8 518.3L483.5 519.7ZM470.2 507.2L471.7 506.5L475.2 513.2L472.8 514.2ZM470.7 496.8L472.5 496.3L474.3 500.4L471.2 501.3ZM476.2 511.6L477.9 510.9L480.2 514.6L477.4 515.8ZM472.2 484.6L473.9 484.3L475.5 490.3L472.7 490.7ZM465.1 510.3L466 509.9L468.2 514.9L466.7 515.4ZM473.7 494.1L475 492.9L481.4 498.5L479.2 500.6ZM457.9 481.7L459.6 480.9L461.8 483.8L458.9 485.2ZM452.3 476.2L453.4 475.7L456.6 481.5L454.8 482.3ZM479.9 503.4L480.7 502.6L485.7 507L484.3 508.4ZM465 503.7L465.8 503.3L468 507.4L466.7 508ZM469.7 499.8L470.8 499.3L474.3 507.7L472.5 508.3ZM475.8 497.4L476.7 497L480.7 504L479.2 504.7ZM450.6 474.7L452 473.6L455 476.5L452.8 478.3ZM468.5 485.9L469.3 485.6L471.5 490.8L470.1 491.3ZM471.7 486.2L472.4 485.7L474.3 488.2L473.2 489ZM482.5 506.7L484.2 506.3L486.9 515.2L484 515.8ZM465.3 494.4L466.9 494.2L468.7 503.4L465.9 503.8ZM472 505L473.7 504.3L476 508.8L473.2 509.9ZM469.6 512.1L470.7 511.8L472.3 516L470.5 516.6ZM461.8 488.1L463 487.9L464.5 493.4L462.7 493.8ZM466.3 500.4L467.4 500L471 508.5L469.1 509.3ZM469.1 485.3L469.9 484.6L473.1 487.7L471.7 488.9ZM482.6 511.8L483.5 511.6L484.9 516L483.4 516.4ZM473 494.5L474.1 494.4L475.2 500.8L473.4 501ZM451.8 475.5L452.7 474.7L455.6 477.2L454.2 478.5Z" fill="#0000cd"/>
<path d="M522.7 516.1L524.7 516.5L522.9 528.2L519.5 527.5ZM538.4 498L540.4 498.2L540.3 509.1L536.9 508.9ZM537.6 500.8L538.8 500.9L538.4 510.7L536.5 510.6ZM499.9 506.9L501.7 507.4L500.7 513.4L497.7 512.6ZM531.9 504.1L532.9 504.2L532.6 508.8L530.9 508.5ZM534.9 501.7L537 501.6L538.2 514.8L534.6 514.9ZM503.5 524.5L505.2 524.6L505.1 531.2L502.2 530.9ZM540.1 516.9L542 517.5L540.6 524.8L537.4 523.9ZM507.3 503.4L508.2 503.4L509 510.8L507.4 510.9ZM524.6 506.9L526.5 507L527.1 516.2L523.9 516.2ZM506.2 508.3L507.1 508.4L505 522.4L503.5 522.1ZM490.2 516.2L491.1 516.4L488.6 528.4L487.1 528.1ZM507.4 514.8L508.3 514.7L509.4 520.9L507.9 521.1ZM541.1 500.9L543.2 501.3L541.2 515L537.8 514.4ZM506.4 509.2L508.2 509.3L508.3 514.9L505.2 514.6ZM530.6 516.7L531.5 516.9L528.5 530.4L527 530.1ZM492.5 507.6L494.6 507.9L494.2 515.8L490.8 515.3ZM538.5 513.8L539.8 513.9L540.1 520.1L538 520.1ZM491.8 503.5L493.9 503.8L493.6 510L490 509.4ZM490.3 525L491.7 525.1L491.5 532L489.2 531.7ZM520.3 521.7L521.7 521.8L521.8 526.9L519.5 526.7ZM537.9 500.7L539.9 500.8L540 506.7L536.8 506.4ZM527.9 524.6L529.8 524.9L529.6 530.5L526.5 530ZM512.5 502.2L513.7 502.5L512 511.3L510 510.8ZM543.9 520.3L545.3 520.7L543.1 529.8L540.8 529.1ZM527.6 512.3L529 512.3L529.5 518.2L527.2 518.2ZM509.3 523.7L511 524.2L508.9 533.4L506.2 532.7ZM505.7 498.6L507.6 498.6L508.3 511.6L505.2 511.7ZM508.2 517.6L510 518L508.3 529L505.4 528.4ZM530.2 507.6L531.4 507.8L530.2 517L528.2 516.7ZM529.5 515.3L531.6 515.3L532.3 526.2L528.8 526.2ZM518.5 503L520 503.2L518.5 515.7L516 515.3ZM523.1 517.6L524.8 517.7L525.1 529.5L522.2 529.4ZM534.1 506.2L536.1 506.6L534.1 517.8L530.9 517ZM541.5 524.5L543 524.7L543 530.9L540.4 530.6ZM533.8 521.3L535.6 521.4L535.3 533.1L532.4 532.9ZM528.7 501.7L530.3 502L528.6 513L525.9 512.4ZM511.6 513.2L513.3 513.5L511.5 525L508.7 524.4ZM488.9 503.6L490.6 503.7L490.7 510.4L487.9 510.2ZM524.8 515.9L526.3 515.8L527.5 522.4L525.1 522.7ZM490.5 503.1L491.6 503.1L491.9 509.5L490 509.5ZM489.3 509.7L491 509.8L491.2 520.1L488.4 520ZM500 522.8L501.4 522.6L502.7 529.7L500.4 530ZM510.6 503.3L511.9 503.6L511.2 508.4L509 507.9ZM521.8 500.1L523.1 500.2L522.5 510.5L520.3 510.2ZM540.3 518.6L542.2 518.7L542.3 529.6L539.1 529.4ZM508.5 499.5L510.1 499.7L508.9 513.6L506.2 513.3ZM540.6 516.3L542.6 516.4L543.2 520.9L539.8 520.8ZM494.2 512.1L495.2 512.3L494.1 522.9L492.4 522.7ZM536.9 508.9L538.1 508.9L538 516.3L536.1 516.2ZM542.2 507.4L544.2 508L542 518.1L538.7 517.2ZM502 524.4L503.4 524.5L503.2 532.2L500.9 532ZM541.7 512.7L543.2 512.7L543.7 518.4L541.2 518.4ZM521.4 508L523.3 508L523.9 520.7L520.8 520.7ZM487.6 510.5L489.7 510.5L490.5 522.8L487 522.8ZM500.3 506.1L502.4 506L503.6 513.4L500 513.6ZM521.7 509.2L523.3 509.4L522.1 521.2L519.4 520.8ZM493.8 518.7L495.3 518.7L495.8 526.5L493.2 526.5ZM504.2 510.6L505.5 510.7L505.1 522.6L502.9 522.4ZM502.3 509.6L504.2 510.1L502.3 519.9L499.1 519Z" fill="#0000cd"/>
<path d="M521.5 472L522.3 472.1L522.3 474.1L521 473.9ZM521 462.9L521.9 463.2L520.3 468.4L518.9 467.8ZM516.9 470.4L517.8 470.7L516.7 474.9L515.2 474.4ZM520.4 458L521.6 458.3L521.4 461.5L519.3 461ZM522 468.9L522.8 469.2L522 471.5L520.7 470.9ZM521.7 471.2L522.4 471.3L522.2 474.2L521.1 474Z" fill="#0000cd"/>
<path d="M506.2 516.3L507.3 516.2L508 519.7L506.1 519.9ZM506.4 506.5L507.4 506.7L506.8 512.9L505.2 512.7ZM505.4 513.1L506.2 513L506.8 516.1L505.5 516.2ZM523.6 498.1L524.4 498.1L525.6 507.5L524.2 507.7ZM510.4 507L511.6 507.1L511.6 513.4L509.6 513.3ZM524.8 492.9L525.5 493.1L523 500.2L522 499.9ZM522.5 502.9L523.2 502.8L523.6 509.3L522.5 509.4ZM524.8 503.9L525.6 504.1L524.4 508.6L523.2 508.2ZM511.7 512L512.3 512.3L510.1 517.5L509 517ZM506.9 506.5L507.6 506.9L503.9 514.1L502.8 513.5ZM520.3 499.7L521.2 499.6L521.8 504.1L520.2 504.2ZM511.4 502.1L512.5 502.2L512.3 507.1L510.5 506.9Z" fill="#0000cd"/>
<path d="M490.4 510.9L493.4 510.9L494.3 532L489.5 532Z" fill="#0000cd"/>
<path d="M495.3 506L498.2 506L499.2 532L494.3 532Z" fill="#0000cd"/>
<path d="M501 514.1L503.9 514.1L504.9 532L500 532Z" fill="#0000cd"/>
<path d="M505.9 504.4L508.8 504.4L509.8 532L504.9 532Z" fill="#0000cd"/>
<path d="M512.4 501.1L515.3 501.1L516.3 532L511.4 532Z" fill="#0000cd"/>
<path d="M517.3 512.5L520.2 512.5L521.2 532L516.3 532Z" fill="#0000cd"/>
<path d="M522.9 507.6L525.9 507.6L526.8 532L522 532Z" fill="#0000cd"/>
<path d="M528.6 514.1L531.6 514.1L532.5 532L527.7 532Z" fill="#0000cd"/>
<path d="M534.3 509.3L537.2 509.3L538.2 532L533.3 532Z" fill="#0000cd"/>
<path d="M539.2 512.5L542.1 512.5L543.1 532L538.2 532Z" fill="#0000cd"/>
<path d="M517.3 463.8L520.5 464.6L521.3 471.9L518.1 471.1Z" fill="#0000cd"/>
<path d="M540 450.8L542.9 450.8L542.9 463.8L540.8 463.8Z" fill="#0000cd"/>
<path d="M457.1 481.6L465.3 471.9L467.2 473.5L459.1 483.3Z" fill="#ee4408"/>
<path d="M444.9 502.8L448.2 501.9L452.3 510.9L460.4 515.8L464.4 523.9L471.8 519L474.2 521.4L464.4 527.9L458.8 519L449.8 512.5Z" fill="#ee4408"/>
<path d="M468.5 528.8L475 527.1L475.8 532L470.1 534.4Z" fill="#ee4408"/>
<path d="M368 446.2L374.9 444.9L379.8 449.9L382.3 459.9L386.1 469.9L392.3 479.9L398.6 486.1L403.6 496.1L407.3 507.3L411 521.7L367.4 521.7L364.9 519.8L358.6 513.6L352.4 504.8L349.9 494.8L352.4 489.8L363.6 489.8L362.4 479.9L361.1 469.9L358 463.6L363.6 456.2Z" fill="#ee4408"/>
<path d="M367.4 520.4L411 520.4L416 528.5L423.5 537.2L431 546L438.5 555.9L444.7 564.7L448.5 574.6L449.7 585.9L452.2 595.9L447.2 605.8L439.7 610.8L429.8 615.8L412.3 619.6L407.3 610.8L404.8 600.8L397.3 588.4L387.3 575.9L379.8 564.7L372.4 546L369.9 538.5Z" fill="#ee4408"/>
<path d="M369.2 447.4L373.6 446.2L377.4 450.5L379.2 457.4L381.7 464.9L384.2 473.6L389.2 479.9L392.9 487.4L397.9 490.5L399.8 497.3L402.3 504.8L404.8 513.6L407.3 521.7L376.1 521.7L374.9 513.6L369.9 504.8L366.1 497.3L364.9 489.8L363.6 479.9L362.4 469.9L359.9 464.3L364.9 456.2Z" fill="#8b1a1a"/>
<path d="M376.1 520.4L384.8 533.5L392.3 546L398.6 558.4L406 570.9L412.3 580.9L419.8 590.9L424.8 598.4L429.8 605.8L437.2 608.3L444.7 604.6L448.5 595.9L446 585.9L444.7 574.6L441 564.7L434.7 555.9L427.3 548.4L419.8 542.2L412.3 532.2L407.3 520.4Z" fill="#8b1a1a"/>
<path d="M393.1 572.5L394.1 571.8L397.6 576.4L395.8 577.5ZM385.8 561.3L386.4 560.6L389.9 563.1L388.9 564.2ZM404 604.6L404.9 603.8L409.1 607.9L407.6 609.2ZM373.4 541.4L374.3 540.7L376.5 543L375 544.1ZM409.3 612.3L409.9 611.7L412.2 613.4L411.1 614.5ZM377.8 537.4L379.3 536.7L382.1 541.2L379.5 542.4ZM408.3 614.7L409.7 613.3L414 616.9L411.7 619.1ZM384.1 554.1L385 553.6L386.3 555.5L384.9 556.3ZM391.7 571.3L392.3 570.5L397.4 574.1L396.4 575.3ZM377.5 549.8L378.5 549L381.4 551.7L379.7 553.1ZM391.8 582L393 581.2L394.7 582.9L392.8 584.2ZM382.7 562.3L383.6 561.4L385.5 562.5L384.1 564.1ZM382.1 558.7L382.7 558.1L385.4 560.4L384.4 561.4ZM403.6 595.3L404.8 594.6L407.9 599.5L406 600.6ZM409.7 615.8L410.7 615L413.2 617.3L411.5 618.7ZM384.4 570.6L385.3 569.9L388.7 573.9L387.2 575ZM407.5 604.4L408.2 603.9L411.1 607.1L410 608.1ZM408.5 611.8L410.1 611.2L412.6 615.6L410 616.7ZM375.2 547.7L376.4 546.7L380.8 551.1L378.8 552.8ZM395.3 575.3L396.1 574.7L399.2 578.5L397.8 579.5ZM403.8 590.1L405.1 589L407 590.4L404.8 592.2ZM398.7 580.7L399.4 580.3L401.5 583.5L400.3 584.1ZM393.2 570.1L395.1 569.4L397.8 575L394.7 576.1ZM385.7 561.6L386.7 561L388.1 562.6L386.5 563.6ZM383.6 560.9L384.4 560.7L386.1 566L384.7 566.3ZM382.4 556.7L383.5 555.7L385.4 557.1L383.5 558.7ZM399.4 588L401 587.5L403.2 592.7L400.7 593.5ZM414.8 603.5L415.9 602.8L419 606.7L417.2 607.9ZM375.8 538.4L376.3 537.7L380.6 540.9L379.7 542ZM385.4 561.6L386.5 561.1L387.9 563.3L386 564.1ZM383.2 566.2L384.5 565.5L387.2 569.2L385.1 570.4ZM388.4 574.8L390 573.8L392.5 576.8L389.9 578.3ZM376.3 542.7L377.5 541.9L380.3 545.1L378.2 546.5ZM375.6 543.6L377.5 542.8L379.6 546.3L376.5 547.5ZM406.7 608.9L407.7 607.7L412.3 610.7L410.6 612.8ZM405.1 593.2L406.3 592.2L409.1 594.9L407.1 596.5ZM380.1 561.1L380.9 560.1L384.7 562.8L383.3 564.4ZM377.5 542L378.9 540.7L380.9 541.9L378.6 544.1ZM378.7 557L379.9 556.5L381.6 559.8L379.7 560.5ZM406.3 607.5L407.5 606.3L410.4 608.5L408.3 610.5ZM403.4 589.5L404.7 588.6L406.9 591L404.8 592.5ZM405 588.7L406.3 588.1L407.7 590.2L405.5 591.1ZM383 553.7L384.7 553.1L387.3 558.5L384.4 559.5ZM388.3 575.1L389.9 574L392.7 576.9L390.1 578.7ZM378 553.5L379.4 552.2L384.1 556.5L381.7 558.6ZM392.9 568.8L393.7 567.9L396.1 569.7L394.7 571.1ZM397.8 590L398.6 589.1L401.1 591L399.7 592.4ZM379.7 551.7L381.1 550.5L384.1 552.8L381.8 554.9ZM376.7 548.4L378.1 547.8L380.6 552.3L378.3 553.3ZM413.2 602.5L414.3 601.4L417.5 603.8L415.6 605.7ZM373.9 539.1L375.6 538.1L379.2 542.7L376.5 544.4ZM373.5 545.4L374.7 544.8L377.8 550.2L375.9 551.2ZM384.6 572.7L385.8 571.3L389.2 573.5L387.2 575.8ZM410.3 593.9L411.8 593.4L414 597.8L411.5 598.7ZM396.4 577.3L397.9 576.2L400.8 579.1L398.3 580.9ZM397.2 585.8L398.5 585.3L399.9 587.6L397.7 588.4ZM370.9 539.8L371.9 538.7L376.3 541.6L374.7 543.5ZM400.5 584.2L401.4 583.9L402.9 586.9L401.3 587.5ZM402.2 596.5L403.5 595.6L407.2 600.5L405.1 601.9ZM375.9 545.9L377.3 545L379 546.5L376.6 548ZM384.9 567.5L385.8 566.5L389.8 569.6L388.3 571.2ZM406.9 597.9L408.2 596.7L410.9 598.8L408.7 600.8ZM391.8 573.7L392.7 572.9L396.5 576.8L395 578.1ZM394.6 572.4L395.4 572L396.6 573.7L395.3 574.4ZM400.6 579.9L401.6 579.1L404 581.4L402.4 582.7ZM412 601.9L412.7 601.1L417.2 604.7L416 606.1ZM406.9 610.4L407.8 609.9L409.7 612.6L408.3 613.4ZM386.6 575.5L388.3 574.5L390.1 576L387.3 577.8ZM391.6 573.9L392.6 572.7L397.4 576.5L395.6 578.4ZM377.1 543.5L378.4 542.8L381.7 547.5L379.4 548.7ZM385.7 569.7L387.4 569L390.1 573.8L387.2 575ZM379.4 539.1L381.1 538.5L383.5 543.4L380.6 544.4ZM412.4 608.9L414.2 608L415.9 610L413 611.5ZM396.1 581.1L397.4 580.6L398.6 582.4L396.4 583.2ZM400.9 588.3L402.5 587.5L405 591.3L402.3 592.6ZM394.6 578.1L395.8 577.7L397.9 582.6L395.9 583.3ZM382.9 555.5L383.4 554.8L388.4 558.3L387.5 559.4ZM400.8 578.9L401.6 578.6L403.3 582.4L402 582.9ZM407.2 597.4L408.1 596.2L412.9 599.4L411.3 601.4ZM394.3 581.2L395.1 580.7L397.6 584.5L396.2 585.3ZM399.8 589.9L400.7 588.8L404.8 591.7L403.2 593.6ZM401.1 595.1L402.5 594.5L404.5 597.9L402.3 598.9ZM399.7 592.9L400.9 592.6L401.8 594.7L400 595.2ZM385.4 562.5L386.3 562.1L389 567.1L387.4 567.8ZM412.6 609.1L414.1 608.1L417.9 612.7L415.4 614.4ZM411.3 611L412.7 610.2L415.9 614.9L413.4 616.2ZM379.7 555L380.9 554.4L382.6 556.6L380.7 557.7ZM393.9 579.9L394.9 578.9L398.8 582.2L397.1 583.9ZM380.8 557.9L382.2 557.3L384.6 561.9L382.2 562.9ZM377.7 546.3L378.7 545.1L382.7 547.8L381.1 549.7Z" fill="#8b1a1a"/>
<path d="M351.5 503.5L353.2 502.5L356.5 507L353.7 508.7ZM368.6 510.7L369.9 509.4L373.1 511.8L370.8 514ZM351.4 491.2L352.4 490.5L355.2 493.6L353.6 494.8ZM360.9 495L361.7 494.1L364.5 495.9L363.2 497.4ZM362.7 506.2L364 505.7L365.7 509L363.7 509.8ZM365.8 517.4L366.6 517L368.1 520L366.9 520.5ZM374.1 520.1L374.9 519.4L376.5 520.8L375.1 521.9ZM351.9 490.6L353.8 490.2L355 493.5L351.9 494.1ZM363.7 517L365.2 515.9L369.1 519.9L366.7 521.7ZM365.7 508.5L367 508L369.7 513.6L367.6 514.5ZM350.3 500.9L351.4 500.1L355.1 504.5L353.2 505.8ZM359.8 500L361.3 499.3L363.8 503.4L361.4 504.6ZM361.8 499.2L363.6 498.9L365 503.6L362.1 504.2ZM350.9 500.6L351.8 500.2L353.6 503.7L352 504.3ZM359.9 493L361.7 492.4L363.2 495.4L360.3 496.2ZM352.7 495.7L353.7 495.4L355.9 500.1L354.3 500.8ZM366.7 510.9L368.1 510.3L369.9 513L367.6 514.1ZM361.2 498.7L362.5 497.5L364.5 498.9L362.2 500.8ZM357.3 506.3L358.7 505.6L361.7 510.6L359.2 511.7ZM356.6 501.4L357.6 501.1L358.6 503.1L356.9 503.6ZM352 495.3L352.9 495.1L353.9 497.5L352.3 497.9ZM367.7 515.3L369.5 515L371.3 520.8L368.3 521.4ZM370.3 519.6L371.8 518.7L373.6 520.3L370.9 521.9ZM360.1 505.1L361.2 504.6L362.5 506.5L360.5 507.3ZM359.8 491.4L360.8 490.5L363.6 493.1L361.9 494.5ZM364.3 511L364.9 510.4L367.2 512.3L366.2 513.3ZM367.6 511L369.1 509.9L372.9 514.1L370.4 516ZM370 518.4L370.7 518L374 523.1L372.7 523.8ZM348.7 493.6L349.7 492.9L352.7 496.2L351 497.4ZM350.4 495.7L351.4 495.3L353 498.2L351.4 498.9ZM367 506.6L368.8 506L370 507.8L366.9 508.7ZM358.5 505.4L359.7 504L363.3 506.4L361.2 508.7ZM363.5 511.8L364.3 511.5L366.6 516.9L365.3 517.4ZM370.1 511.4L372 510.9L373.5 514L370.4 514.9ZM365.9 511.6L366.8 510.9L369.1 512.9L367.7 514.1ZM353.4 498.9L354.5 498.5L355.8 501.3L354 501.9ZM366 509L367.5 507.9L371.2 511.7L368.7 513.6ZM361.9 490.8L362.8 490.3L365.4 494.3L363.9 495.1ZM370 518L371.1 517.8L371.8 519.7L370.1 520ZM365.8 500.6L366.8 500.4L368.5 505.3L366.9 505.8Z" fill="#8b1a1a"/>
<path d="M369.9 538.5L379.8 537.2L389.8 546L392.3 553.4L399.8 562.2L407.3 569.7L404.8 573.4L397.3 568.4L387.3 562.2L379.8 552.2L372.4 546Z" fill="#0000cd"/>
<path d="M382.3 562.2L389.8 565.9L399.8 575.9L412.3 590.9L419.8 600.8L424.8 608.3L429.8 615.8L412.3 619.6L407.3 610.8L404.8 600.8L397.3 588.4L387.3 575.9L379.8 564.7Z" fill="#8b1a1a"/>
<path d="M407.3 590.9L414.8 590.9L421 598.4L417.3 602.1L409.8 598.4Z" fill="#ee4408"/>
<path d="M474.7 546L480.9 541L492.1 544.7L502.1 539.7L512.1 541L524.6 532.2L537 537.2L546.4 539.7L563.2 539.7L563.2 555.9L474.7 555.9Z" fill="#ee4408"/>
<path d="M407.3 608.3L424.8 608.3L429.8 605.8L437.2 608.3L444.7 604.6L454.7 600.8L459.7 593.4L462.2 583.4L460.9 573.4L462.2 562.2L465.9 555.9L474.7 549.7L480.9 546L492.1 549.7L502.1 544.7L512.1 546L524.6 537.2L537 542.2L546.4 544.7L563.2 544.7L563.2 632.7L409.8 632.7Z" fill="#8b1a1a"/>
<path d="M448.5 533.5L454.7 536L462.2 546L474.7 553.4L484.6 564.7L489.6 577.1L484.6 580.9L474.7 573.4L467.2 568.4L462.2 558.4L454.7 548.4L449.7 541Z" fill="#ee4408"/>
<path d="M462.2 553.4L474.7 555.9L484.6 567.2L490.9 577.1L494.6 583.4L462.2 583.4L460.9 573.4L462.2 562.2Z" fill="#8b1a1a"/>
<path d="M422.3 608.3L432.2 607.1L442.2 608.3L447.2 605.8L453.5 600.8L457.2 590.9L462.2 585.9L460.9 595.9L456 603.3L447.2 610.8L442.2 617.1L432.2 618.3L424.8 614.6Z" fill="#0000cd"/>
<path d="M454.7 620.8L464.7 619.6L474.7 622.1L487.1 624.6L489.6 628.3L479.7 627L467.2 625.8L457.2 624.6Z" fill="#0000cd"/>
<path d="M504.6 557.2L512.1 555.9L523.3 558.4L524.6 565.9L517.1 575.9L510.8 573.4L505.9 565.9Z" fill="#0000cd"/>
<path d="M424.8 520.4L447.2 520.4L449.7 531L446 541L452.2 549.7L456 558.4L459.7 570.9L457.2 579.6L453.5 579.6L452.2 570.9L444.7 562.2L443.5 552.2L436 546L432.2 536L427.3 528.5Z" fill="#b3b3b3"/>
<path d="M442.2 538.5L446 539.7L449.7 549.7L454.7 562.2L456 567.2L452.2 564.7L448.5 553.4L444.7 546Z" fill="#4d4d4d"/>
<path d="M474.7 554.7L479.7 557.2L487.1 570.9L492.1 583.4L487.1 580.9L480.9 568.4L477.2 562.2Z" fill="#d4b000"/>
<path d="M478.4 558.4L480.9 559.7L487.1 573.4L490.9 582.1L487.1 578.4L483.4 568.4Z" fill="#3c9a4a"/>
<path d="M472.2 567.2L475.9 568.4L479.7 579.6L477.2 580.9L473.4 573.4Z" fill="#f2ea00"/>
<path d="M474.7 583.4L477.2 583.4L477.8 588.4L474 588.4Z" fill="#f2ea00"/>
<path d="M464.7 557.2L468.4 557.8L469.1 560.9L464.7 560.3Z" fill="#d4b000"/>
<path d="M519.6 570.9L528.3 563.4L537 559.7L542.7 558.4L542.7 573.4L537 575.9L532.1 573.4L527.1 580.9L523.3 583.4L520.8 575.9Z" fill="#f2ea00"/>
<path d="M492.1 583.4L497.1 578.4L500.9 583.4L502.1 590.9L504.6 598.4L502.1 605.8L507.1 610.8L512.1 615.8L519.6 610.8L524.6 608.3L528.3 603.3L530.8 600.8L537 608.3L543.3 620.8L544.5 632.7L499.6 632.7L502.1 624.6L498.4 615.8L499.6 608.3L494.6 602.1L498.4 595.9L494.6 588.4Z" fill="#d4b000"/>
<path d="M487.1 602.1L494.6 600.8L498.4 607.1L492.1 608.3L488.4 607.1Z" fill="#f2ea00"/>
<path d="M609.9 409.4L664.8 409.4L659.8 417.5L652.3 422.5L643.6 423.7L634.8 422.5L627.3 426.2L619.8 421.2L611.1 423.7Z" fill="#4d4d4d"/>
<path d="M707.2 409.4L722.2 409.4L720.9 416.2L714.7 417.5Z" fill="#4d4d4d"/>
<path d="M688.5 442.4L694.7 437.4L702.2 433.7L709.7 432.5L713.4 438.7L714.7 445.6L688.5 445.6Z" fill="#4d4d4d"/>
<path d="M608 449.9L639.8 449.9L641.1 453.7L627.3 458.7L614.9 459.9L608.6 457.4Z" fill="#4d4d4d"/>
<path d="M556.2 437.4L563.7 433.7L566.2 426.2L573.7 422.5L576.2 431.2L581.2 427.5L586.2 428.7L588.7 441.2L591.2 451.2L594.9 464.9L596.1 469.9L589.9 473.6L587.4 464.9L582.4 458.7L576.2 457.4L569.9 453.7L566.2 463.6L565 451.2L560 446.2Z" fill="#0000cd"/>
<path d="M603.6 462.4L608.6 461.2L607.4 468.6L604.3 469.9Z" fill="#4d4d4d"/>
<path d="M602.4 478.6L607.4 477.4L604.9 486.1L599.9 492.3L598.6 489.8Z" fill="#4d4d4d"/>
<path d="M691 448.7L719.7 448.7L722.2 457.4L723.4 469.9L724.6 482.4L725.9 491.1L730.9 499.8L735.9 503.6L732.1 506.1L724.6 502.3L714.7 504.8L710.9 512.3L712.2 521.7L682.2 521.7L687.2 509.8L691 499.8L689.7 494.8L697.2 484.9L702.2 474.9L694.7 476.1L687.2 481.1L681 477.4L686 469.9L693.5 466.1L698.4 459.9L693.5 454.9Z" fill="#4d4d4d"/>
<path d="M668.5 498.6L679.7 493.6L681 497.3L672.2 501.1Z" fill="#4d4d4d"/>
<path d="M551.5 500.2L552.9 499.9L554.8 505.2L552.5 505.8ZM550.1 467.5L550.7 467.4L551.5 472.4L550.5 472.5ZM553.6 512.7L554.5 512.9L554 515.6L552.6 515.2ZM557.8 476L559.1 475.8L560.2 479.6L558 479.9ZM558.2 478.8L559 478.6L560.1 483.8L558.8 484ZM555.4 482.4L556.3 482.2L557.5 485.7L556.1 486.1ZM547.8 479.2L548.7 479.2L549.2 483.3L547.7 483.4ZM556.9 514.4L557.5 514.4L557.9 517.7L556.8 517.8ZM550.6 499L551.5 499L551.6 501.4L550.2 501.3ZM560.5 500.1L561.7 500.3L561.1 506L559.2 505.7ZM547.3 475.6L548.5 475.7L548.6 479.9L546.6 479.8ZM555.2 481.5L556.6 481.4L557.6 487.7L555.4 487.9ZM555.3 492.6L556.4 492.4L557.2 495.2L555.4 495.5ZM557.8 481.2L559.1 481.3L559.4 484.7L557.2 484.6ZM556.2 483.2L557.5 483.3L557.7 487.4L555.5 487.3ZM554.8 502.5L556 502.6L556.1 505.9L554.2 505.8ZM546.5 489.1L547.2 489L548.5 493.4L547.2 493.7ZM559.4 517.7L560.4 518L560 521.5L558.3 521.1ZM554.7 481.3L555.7 481.1L557 485.7L555.3 486ZM552.5 506.8L553.4 506.9L553 512.6L551.6 512.5ZM546.9 480.9L548 480.8L548.5 483.9L546.6 484ZM555.2 492.6L555.9 492.8L555.5 495.5L554.2 495.2ZM560.1 510.5L561.4 510.7L561.4 514.5L559.1 514.1ZM554.4 494.7L555.6 494.5L556.4 496.7L554.3 497ZM548.3 516.6L549 516.7L548.9 522.6L547.7 522.5ZM549.7 491.2L550.3 491L551.6 494.9L550.5 495.2ZM559.8 471.8L560.9 472.1L560 476.9L558.1 476.4ZM547.4 468.4L548 468.7L547.2 471.8L546.1 471.4ZM558.8 507.8L559.8 508L559.3 511.4L557.6 511ZM550.8 521.8L552.1 521.7L553.1 526.2L551 526.5ZM557.9 502.4L559.2 502.4L559.5 504.7L557.3 504.6ZM552.3 509L553.4 509.2L552.5 514.2L550.7 513.7ZM552 500.1L553.2 500.3L553.2 503.3L551.1 503ZM551.4 483.4L552.6 483.3L553.4 487.4L551.4 487.6ZM548 515.9L549.2 516L549.1 521.3L547 521.1ZM553.9 482.6L555.3 482.7L555.1 488.3L552.8 488ZM556.7 481.5L557.8 481.6L557.5 487L555.7 486.8ZM550.8 502.1L551.6 502L552.8 506.5L551.5 506.7ZM547 514.9L547.7 515L547.5 518.9L546.3 518.7ZM556.4 476.8L557.2 476.9L557 479.2L555.8 479Z" fill="#0000cd"/>
<path d="M550.5 537L551.4 537.4L549.9 541.6L548.4 540.9ZM562.1 539.6L563.4 539.8L562.4 546.1L560.4 545.6ZM574.6 530.6L575.9 530.6L576.3 535.7L574.2 535.6ZM555.3 543.2L556.7 543.3L557.1 545.7L554.8 545.6ZM563.3 528.1L564.2 528.1L564.6 533.8L563.1 533.9ZM572.4 530.2L573.2 530.3L572.9 536.4L571.6 536.3ZM552.7 546.1L553.4 546L554 549.8L552.9 549.9ZM561.5 543.6L562.2 543.5L563.1 547.3L561.9 547.5ZM548.2 537.8L549.7 537.9L549.8 544.1L547.3 543.9ZM555.8 542.7L557.4 542.8L557.7 545.2L555.1 545ZM564.5 547.1L565.4 546.9L566.5 550.1L565 550.4ZM560.7 547.4L562.1 547.3L563 550.3L560.6 550.6ZM550.1 547.5L551.4 547.2L552.5 549.9L550.5 550.4ZM570.1 529.8L571.3 530L570.9 535.3L568.7 534.9ZM551.1 542.2L552.3 542.1L553.2 547.6L551.2 547.8ZM577.8 534.7L578.6 534.8L578.4 540.7L577.1 540.6ZM570.9 541.8L572.2 542.3L571.2 545.5L569.2 544.6ZM565.4 526.6L566.9 526.5L567.7 531.4L565.3 531.5ZM553.1 534.6L554.6 534.7L554.9 540.3L552.5 540.3ZM560.4 525.1L561.6 525L562.4 528.5L560.5 528.7ZM548.2 541.8L549.2 541.9L549.1 544.1L547.5 543.8ZM560.7 538.1L561.4 537.9L562.1 540L560.9 540.2ZM548.1 537.9L549.4 538.2L549 541.6L546.9 541.1ZM554 525.1L555 525L555.7 530.1L554 530.2ZM549.4 541.4L550.2 541.3L550.9 546L549.6 546.1ZM552.8 546.5L554.1 546.8L553.7 551.2L551.5 550.7ZM582.1 543L582.9 543.1L582.6 548.1L581.3 547.9ZM569.1 536.6L570.4 536.7L570.4 541.5L568.2 541.2ZM557.8 544.1L559.1 543.9L560.3 547.6L558 548ZM551 529.1L551.7 529.2L551.6 533.9L550.3 533.8ZM568.7 536.6L570.1 536.8L570.2 541.9L567.9 541.7ZM567.4 541.6L568.1 541.7L567.8 544.4L566.6 544.1ZM562.6 529.9L563.7 530.1L563 535.1L561.2 534.7ZM575.6 544.7L576.5 544.8L576.1 551.2L574.6 551ZM559.7 540.7L560.7 540.6L561.5 545.3L559.8 545.5ZM584.3 545.1L585.3 545.6L583.6 550.5L581.8 549.8ZM577 535.2L578 535.4L577.3 539.4L575.7 538.9ZM560.1 526L561.2 526.4L559.9 530.5L558.1 529.7ZM550.6 538L551.4 537.9L552 542.1L550.6 542.2ZM562.1 544.6L563.7 544.7L563.7 550.1L561.2 549.9ZM572.6 537.5L574.1 537.3L575 539.8L572.5 540.2ZM579.9 545.6L581.3 546.1L579.9 551.4L577.5 550.5ZM566.5 541.5L567.7 541.8L567.2 545.9L565.1 545.4ZM570.8 540.6L572.1 540.3L573.6 546.2L571.5 546.6ZM551 546.7L552 547.1L550.8 551.5L549.1 550.8ZM563 529.5L564.6 529.5L565.2 531.8L562.6 531.9ZM565.3 529L566.9 529.3L566.5 534.1L564 533.6ZM555.1 545.6L556.5 545.6L556.9 551.5L554.5 551.5ZM559.3 527.1L560.7 527.6L560 530.6L557.7 529.6ZM581.6 542.4L582.3 542.3L583.1 546.8L581.9 547Z" fill="#0000cd"/>
<path d="M570.1 498.5L571 498.8L569.6 504.3L568 503.8ZM574 499.7L574.7 499.8L574.7 503.7L573.6 503.6ZM580.6 488L581.6 488.2L581 493.7L579.4 493.5ZM573.6 507.3L574.5 507.9L572.8 511.1L571.3 510.2ZM583 505.4L584.2 505.7L582.9 513L580.9 512.5ZM583.9 493.3L585.2 493.4L585.3 497.4L583.2 497.3ZM569.9 489.7L570.6 490L569.4 493.2L568.2 492.6ZM578.4 488.5L579 488.8L575.7 495.9L574.8 495.4Z" fill="#0000cd"/>
<path d="M621.1 494.2L621.8 494.1L622.3 496.6L621.1 496.7ZM615.5 491.8L617 492L617.1 495L614.5 494.6ZM614.9 494.2L616 494L616.7 495.9L614.8 496.2ZM621.3 492L622.2 492.5L621.4 494.7L619.8 493.9ZM621.3 505L622.7 505.3L622.3 509.1L620 508.6ZM615.4 480.4L616.9 480.8L616.8 482.8L614.3 482Z" fill="#0000cd"/>
<path d="M567 454.9L568.2 454.7L569.3 459.6L567.3 459.9ZM569.4 455.2L570.7 455.5L569.7 460.5L567.5 459.9ZM567 462.2L567.7 462.2L567.7 465.3L566.7 465.3ZM567.8 461.6L568.9 461.7L569.1 464.9L567.2 464.8ZM569.2 454.7L569.9 454.9L568.4 460.6L567.3 460.3Z" fill="#0000cd"/>
<path d="M584.5 547.1L584.5 551L584.5 551.3L584.5 551.5L584.6 551.8L584.7 552L584.8 552.2L584.9 552.4L585.1 552.6L585.3 552.8L585.5 553L585.7 553.2L585.9 553.3L586.1 553.4L586.3 553.5L586.6 553.6L586.8 553.6L587.1 553.6L648.3 553.6L648.6 553.6L648.8 553.6L649.1 553.5L649.3 553.4L649.5 553.3L649.7 553.2L649.9 553L650.1 552.8L650.3 552.6L650.5 552.4L650.6 552.2L650.7 552L650.8 551.8L650.9 551.5L650.9 551.3L650.9 551L650.9 542.4L650.9 542.1L650.8 541.9L650.8 541.6L650.7 541.4L650.6 541.1L650.4 540.9L650.3 540.7L650.1 540.5L649.9 540.4L649.7 540.2L649.5 540.1L643.3 537L643 536.9L642.8 536.8L642.6 536.7L642.3 536.7L642.1 536.7L641.9 536.7L641.6 536.7L634.8 538L630.5 534.8L630.5 529.2L636.2 522L642.3 514.5L648.4 510L648.6 509.8L648.7 509.6L648.9 509.4L649 509.2L649.2 509L649.3 508.8L649.3 508.5L650.8 502.2L650.9 501.9L650.9 501.7L650.9 501.4L650.9 501.2L650.8 500.9L650.7 500.7L650.6 500.4L650.5 500.2L650.3 500L650.2 499.8L650 499.6L649.8 499.5L649.5 499.3L649.3 499.2L649.1 499.1L648.8 499.1L648.6 499L648.3 499L642.1 499L641.8 499L641.5 499.1L641.3 499.1L641 499.2L640.8 499.4L633 504L626.8 507.1L626.5 507.2L626.3 507.3L626.1 507.5L626 507.6L625.8 507.8L625.7 508L625.6 508.3L622.5 514.6L622.4 514.7L620 520.5L616.9 519.7L612.8 514.1L612.6 514L612.4 513.8L612.2 513.6L612 513.5L611.8 513.4L611.6 513.3L611.3 513.2L605 511.6L604.8 511.5L604.5 511.5L604.3 511.5L604 511.5L603.8 511.6L603.6 511.6L603.3 511.7L603.1 511.9L602.9 512L602.7 512.1L602.5 512.3L602.3 512.5L602.2 512.7L602.1 512.9L602 513.2L601.9 513.4L601.8 513.6L601.8 513.9L601.8 514.1L601.8 514.4L601.9 514.6L601.9 514.9L603.4 519.6L603.4 519.6L605.9 527L601.7 529.1L601.4 529.2L601.2 529.3L601 529.5L600.8 529.7L600.7 529.9L600.5 530.1L600.4 530.3L600.3 530.6L600.3 530.8L600.2 531.1L600.2 531.3L600.2 531.6L600.2 531.8L600.3 532.1L600.4 532.3L600.5 532.5L602.8 537.2L598.4 541.7L586.5 544.6L586.2 544.6L586 544.7L585.8 544.9L585.6 545L585.4 545.1L585.2 545.3L585.1 545.5L584.9 545.7L584.8 545.9L584.7 546.1L584.6 546.4L584.5 546.6L584.5 546.9Z" fill="#0000cd"/>
<path d="M587.1 547.1L599.7 544L605.9 537.7L602.8 531.4L609.1 528.3L605.9 518.8L604.4 514.1L610.7 515.7L615.4 522L621.6 523.6L624.8 515.7L627.9 509.4L634.2 506.3L642.1 501.6L648.3 501.6L646.8 507.9L640.5 512.6L634.2 520.4L627.9 528.3L627.9 536.1L634.2 540.8L642.1 539.3L648.3 542.4L648.3 551L587.1 551Z" fill="#ee4408"/>
<path d="M610.7 547.1L613.8 534.5L616.9 525.1L621.6 526.7L623.2 536.1L621.6 547.1Z" fill="#8b1a1a"/>
<path d="M632.6 544.7L642.1 542.4L647.6 545.5L647.6 550.2L634.2 550.2Z" fill="#8b1a1a"/>
<path d="M609.1 520.4L614.6 519.6L615.4 525.1L610.7 525.9Z" fill="#0000cd"/>
<path d="M554.8 520.2L555.8 520.7L553.7 525.6L552.1 524.8ZM556.5 504L557.7 504.3L556.9 511.1L554.8 510.7ZM546.9 509.3L548.3 509.2L549.5 515.4L547.1 515.6ZM556.1 505.1L557.3 504.9L558.1 507.7L556.2 508ZM548.7 507.5L549.8 507.4L550.9 512.2L549.1 512.4ZM557.4 518.3L558.5 518.6L557.7 522.6L555.9 522.1ZM560.5 526.8L561.4 526.9L561.5 531L560 530.9ZM547 528.9L548.5 529L548.5 533.7L546.1 533.4ZM547.6 504.8L548.6 505.3L545.4 512.5L543.7 511.7ZM553 500.9L554.4 501.2L553.8 505.2L551.5 504.6ZM548 511.9L549.2 512.5L548.1 515.5L546 514.4ZM549.6 502.5L551 502.3L552 505.7L549.6 506ZM555.2 516.7L556.6 516.6L557.2 519.8L554.9 519.9ZM557.2 502.7L558.1 502.8L557.9 506.8L556.5 506.6ZM550.9 532.5L552 532.5L552.5 539.7L550.8 539.7ZM558 502.2L558.7 502.6L557.1 506.2L555.8 505.4ZM550.6 501.2L551.8 501L552.6 504.8L550.6 505ZM556.3 512.5L557.8 512.7L557.6 517.9L555 517.5ZM555.7 531.6L556.5 531.6L557.1 539.1L555.8 539.1ZM551 526.6L551.7 526.9L548.4 533.9L547.2 533.3ZM552.5 502.5L554.1 502.2L555.2 505.9L552.6 506.3ZM558.7 508.4L559.9 508.8L558.6 512.8L556.7 512ZM548.6 526.7L549.4 526.6L550.4 532.1L549 532.2ZM550.8 535.4L551.4 535.4L551.8 539.4L550.7 539.4ZM553.4 499.7L554.4 499.6L555 505.2L553.3 505.3ZM549.2 511.7L550.6 512.4L548.5 518.1L546.1 517ZM557.8 522.6L558.5 522.5L558.9 525.1L557.8 525.2ZM563.2 525.8L563.8 526.1L561.1 531.5L560.1 531ZM553.9 528.3L555.5 528.4L555.9 531.3L553.2 531.2ZM556.5 526.9L557.8 527.5L555.4 533.4L553.3 532.4Z" fill="#0000cd"/>
<path d="M595.9 518.6L597 518.9L596.8 521L595 520.4ZM595 509.4L596.7 510.1L595.4 514.6L592.6 513.5ZM596.4 518.5L597.9 518.4L598.6 521.1L596.1 521.2ZM602.1 505L603 505.4L601.4 510.1L599.9 509.5ZM594.5 513.3L595.3 513.7L594.7 515.9L593.3 515.3ZM600.3 513.7L602.5 513.5L603.9 519.5L600.2 520ZM590.8 512.6L592.1 512.5L592.9 517.2L590.7 517.4ZM591.3 517.8L592.4 517.7L593.6 523.2L591.7 523.4Z" fill="#4d4d4d"/>
<path d="M546.3 539.3L558.8 539.3L571.4 544L576.1 547.1L571.4 551.8L546.3 551.8Z" fill="#0000cd"/>
<path d="M546.3 542.4L555.7 541.6L568.3 544.7L571.4 550.2L546.3 551Z" fill="#ee4408"/>
<path d="M546.3 544.7L554.1 544L562 547.1L563.6 551L546.3 551Z" fill="#8b1a1a"/>
<path d="M546.3 551.8L656.2 551.8L657 558.1L649.9 562.8L642.1 573.8L634.2 573.8L627.9 567.5L618.5 565.9L613.8 572.2L602.8 569.1L591.8 573.8L580.8 573.8L571.4 578.5L562 581.6L555.7 578.5L549.4 569.1L546.3 562.8Z" fill="#0000cd"/>
<path d="M579.3 560.5L585.5 559.7L587.1 570.7L582.4 572.2L578.5 567.5Z" fill="#b3b3b3"/>
<path d="M549.4 569.1L555.7 565.9L557.3 573.8L552.6 575.4Z" fill="#b3b3b3"/>
<path d="M557.3 553.4L563.6 553.4L565.1 569.1L558.8 573.8L555.7 565.9Z" fill="#ee4408"/>
<path d="M569.8 555L577.7 554.2L576.9 565.9L580.8 573.8L576.1 575.4L571.4 569.1Z" fill="#ee4408"/>
<path d="M587.1 556.5L595 553.4L613.8 553.4L613.8 562.8L607.5 567.5L599.7 565.9L593.4 569.1L590.2 575.4L580.8 575.4L577.7 572.2L587.1 569.1Z" fill="#ee4408"/>
<path d="M596.5 556.5L609.1 555.7L609.1 561.2L601.2 562.8Z" fill="#8b1a1a"/>
<path d="M631.1 552.6L640.5 552.6L642.1 558.1L634.2 560.5Z" fill="#ee4408"/>
<path d="M649.9 554.2L656.2 555L653.1 560.5L649.9 559.7Z" fill="#ee4408"/>
<path d="M592.8 584.1L597.5 595.1L597.6 595.4L597.7 595.5L597.9 595.7L605.7 605.1L605.8 605.3L606 605.5L613.9 611.8L614.1 611.9L614.3 612L614.5 612.1L614.8 612.2L615 612.3L615.3 612.3L615.5 612.3L615.8 612.3L616 612.2L622.2 610.6L622.4 610.6L622.6 610.5L622.8 610.4L623 610.2L623.2 610.1L623.4 609.9L623.5 609.7L623.7 609.5L623.8 609.3L623.9 609.1L623.9 608.9L624 608.6L625.6 597.7L625.6 597.5L625.6 597.2L625.6 597L624 587.5L623.9 587.3L623.8 587L623.7 586.8L623.6 586.6L617.4 577.2L612.8 569.5L612.6 569.3L612.5 569.1L612.3 568.9L612.2 568.8L612 568.7L611.8 568.6L611.6 568.5L603.7 565.3L603.5 565.2L603.2 565.1L603 565.1L602.8 565.1L602.5 565.1L602.3 565.2L602.1 565.2L601.8 565.3L601.6 565.4L601.4 565.5L601.2 565.7L601.1 565.9L600.9 566L600.8 566.2L600.6 566.4L597.5 572.7L592.9 582.1L592.8 582.3L592.7 582.6L592.6 582.8L592.6 583L592.6 583.2L592.6 583.5L592.7 583.7L592.7 583.9Z" fill="#0000cd"/>
<path d="M595 583.2L599.7 573.8L602.8 567.5L610.7 570.7L615.4 578.5L621.6 587.9L623.2 597.4L621.6 608.3L615.4 609.9L607.5 603.6L599.7 594.2Z" fill="#ee4408"/>
<path d="M599.7 581.6L604.4 573.8L609.1 578.5L613.8 587.9L616.9 600.5L613.8 606.8L607.5 598.9L602.8 591.1Z" fill="#8b1a1a"/>
<path d="M605.9 577.7L613 576.9L613.8 584L607.5 584.8Z" fill="#0000cd"/>
<path d="M546.3 575.4L555.7 578.5L568.3 584.8L576.1 580.1L582.4 587.9L580.8 594.2L590.2 600.5L598.1 609.9L609.1 617.8L624.8 625.6L637.4 633.5L640.5 640.5L546.3 640.5Z" fill="#0000cd"/>
<path d="M570.6 582.4L577.4 581.6L578 588.7L571.4 589.8Z" fill="#b3b3b3"/>
<path d="M546.3 576.9L554.1 581.6L560.4 591.1L566.7 600.5L574.5 597.4L585.5 603.6L593.4 613.1L602.8 622.5L618.5 630.3L631.1 640.5L546.3 640.5Z" fill="#ee4408"/>
<path d="M546.3 578.5L552.6 584.8L557.3 595.8L563.6 606.8L573 602.1L584 609.9L591.8 619.3L599.7 628.8L609.1 640.5L546.3 640.5Z" fill="#8b1a1a"/>
<path d="M560.4 602.1L571.4 600.5L576.1 609.9L568.3 613.1L562 609.9Z" fill="#0000cd"/>
<path d="M576.1 614.6L584 616.2L587.1 625.6L579.3 624Z" fill="#0000cd"/>
<path d="M539.2 609.9L546.3 608.3L549.4 619.3L558.8 617.8L562 625.6L571.4 630.3L580.8 628.8L591.8 636.6L593.4 640.5L539.2 640.5Z" fill="#d4b000"/>
<path d="M549.4 619.3L558.8 617.8L562 625.6L571.4 630.3L568.3 633.5L557.3 631.9L551 625.6Z" fill="#f2ea00"/>
<path d="M539.2 559.7L544.7 558.1L547.9 570.7L549.4 581.6L543.1 583.2L539.2 578.5Z" fill="#f2ea00"/>
<path d="M666 528.5L674.7 524.7L687.2 520.4L705.9 520.4L707.2 531L705.9 541L703.4 549.7L697.2 543.5L689.7 538.5L681 536L672.2 537.2L667.3 533.5Z" fill="#4d4d4d"/>
<path d="M710.9 533.5L719.7 527.2L723.4 536L719.7 546L714.7 548.4L712.2 541Z" fill="#4d4d4d"/>
<path d="M419.4 599.4L683.2 599.4L683.2 711.7L419.4 711.7Z" fill="#8b1a1a"/>
<path d="M554.8 589.4L573.3 589.4L578.2 594.9L586.9 599.9L594.3 604.8L602.9 614.7L610.3 619.6L619 623.3L628.8 627L633.8 631.9L638.7 643L648.6 643L648.6 648L642.4 648L636.2 650.4L631.3 640.6L626.4 633.2L619 629.5L609.1 627L601.7 623.3L594.3 615.9L589.3 608.5L580.7 602.3L572.1 601.1L569.6 611L562.2 608.5L556 596.2Z" fill="#0000cd"/>
<path d="M573.3 589.4L648.6 589.4L648.6 643L638.7 643L633.8 631.9L628.8 627L619 623.3L610.3 619.6L602.9 614.7L594.3 604.8L586.9 599.9L578.2 594.9Z" fill="#b3b3b3"/>
<path d="M596 590.3L598.4 595.8L598.5 596L598.6 596.1L598.7 596.3L603.7 602.5L603.7 602.5L609.8 609.9L610 610.1L610.1 610.2L610.3 610.4L610.5 610.5L610.7 610.6L610.9 610.6L611.2 610.7L618.7 611.9L618.9 611.9L619.1 611.9L619.3 611.9L619.5 611.9L619.7 611.8L619.9 611.7L620 611.6L620.2 611.5L620.4 611.4L626.5 606.5L626.6 606.4L626.8 606.2L626.9 606L627 605.8L627.1 605.6L627.2 605.4L627.3 605.2L628.6 597.8L628.6 597.5L628.6 597.3L628.6 597L627.3 589L627.2 588.8L627.2 588.6L627.1 588.4L627 588.2L626.8 588L626.7 587.9L626.5 587.7L626.3 587.6L626.2 587.5L626 587.4L625.8 587.3L625.5 587.2L625.3 587.2L625.1 587.2L598 587.2L597.8 587.2L597.6 587.2L597.4 587.3L597.2 587.4L597 587.5L596.8 587.6L596.6 587.7L596.4 587.9L596.3 588L596.2 588.2L596 588.4L596 588.6L595.9 588.8L595.8 589L595.8 589.2L595.8 589.4L595.8 589.7L595.8 589.9L595.9 590.1Z" fill="#0000cd"/>
<path d="M598 589.4L625.1 589.4L626.4 597.4L625.1 604.8L619 609.7L611.5 608.5L605.4 601.1L600.4 594.9Z" fill="#ee4408"/>
<path d="M604.1 589.4L620.2 589.4L620.2 599.9L615.3 603.6L610.3 599.9Z" fill="#8b1a1a"/>
<path d="M570.8 597.4L580.7 601.1L589.3 607.3L586.9 614.7L577 613.4L572.1 607.3Z" fill="#ee4408"/>
<path d="M574.5 602.3L581.9 603.6L585.6 611L578.2 611Z" fill="#8b1a1a"/>
<path d="M575.2 612.2L579.5 613.4L580.7 620.8L576.4 619Z" fill="#0000cd"/>
<path d="M609.1 629.5L619 629.5L626.4 633.2L631.3 640.6L626.4 643L619 638.1L611.5 636.9Z" fill="#ee4408"/>
<path d="M616.5 636.9L622.7 637.5L623.9 641.8L617.7 641.2Z" fill="#0000cd"/>
<path d="M554.8 594.9L559.7 597.4L562.2 608.5L558.5 609.7L555.4 602.3Z" fill="#ee4408"/>
<path d="M419.4 605L430 607.5L442.5 605L452.4 602.5L449.9 610L440 613.7L427.5 613.7L419.4 611.2Z" fill="#0000cd"/>
<path d="M454.9 621.2L464.9 620L472.4 622.5L469.9 625L459.9 625Z" fill="#0000cd"/>
<path d="M479.9 622.5L488.6 623.7L491.1 628.7L484.9 631.2L481.1 627.4Z" fill="#0000cd"/>
<path d="M487.4 634.9L492.4 637.4L494.9 647.4L491.1 644.9Z" fill="#0000cd"/>
<path d="M489.9 653.6L494.9 657.4L496.1 664.9L491.1 663.6Z" fill="#0000cd"/>
<path d="M419.4 611.2L427.5 613.7L440 613.7L449.9 616.2L440 620L427.5 618.7L419.4 617.5Z" fill="#ee4408"/>
<path d="M489.9 631.2L497.4 633.7L504.8 628.7L499.8 618.7L507.3 613.7L514.8 615L519.8 610L527.3 607.5L532.3 605L537.3 616.2L542.9 623.7L537.3 629.9L533.5 641.2L529.8 647.4L531 654.9L535.4 659.9L532.3 664.9L499.8 666.1L497.4 658.6L494.9 649.9L493.6 641.2Z" fill="#d4b000"/>
<path d="M499.8 621.2L507.3 623.7L514.8 631.2L512.3 633.7L504.8 628.7Z" fill="#8b1a1a"/>
<path d="M507.3 637.4L517.3 641.2L519.8 646.2L512.3 643.7Z" fill="#8b1a1a"/>
<path d="M487.4 602.5L494.9 601.2L502.3 605L507.3 611.2L502.3 612.5L497.4 607.5L489.9 607.5Z" fill="#f2ea00"/>
<path d="M535.4 602.5L539.8 605L543.5 616.2L552.2 617.5L556 613.7L557.2 622.5L563.5 621.2L561 626.2L552.2 631.2L552.2 634.9L557.2 637.4L564.7 636.2L572.2 631.2L582.2 629.9L587.2 628.7L594.7 634.9L599.7 642.4L604.6 649.9L607.1 656.1L614.6 654.9L619.6 667.4L618.4 672.4L612.1 662.4L609.6 669.9L614.6 677.4L613.4 686.1L608.4 687.3L605.9 682.3L594.7 683.6L593.4 694.8L528.5 669.9L535.4 659.9L531 654.9L529.8 647.4L533.5 641.2L537.3 629.9L542.9 623.7L537.3 616.2Z" fill="#d4b000"/>
<path d="M542.9 643.7L547.3 641.8L551 646.2L549.8 651.2L544.8 651.2Z" fill="#8b1a1a"/>
<path d="M549.8 629.9L554.7 627.4L557.2 637.4L564.7 636.2L563.5 642.4L554.7 644.9L551 637.4Z" fill="#f2ea00"/>
<path d="M592.2 661.1L599.7 658.6L607.1 664.9L605.9 677.4L597.2 674.9L593.4 669.9Z" fill="#f2ea00"/>
<path d="M573.5 678.6L585.9 677.4L593.4 682.3L593.4 693.6L582.2 687.3L574.7 686.1Z" fill="#f2ea00"/>
<path d="M607.1 658.6L612.1 659.9L614.6 669.9L610.9 669.9Z" fill="#8b1a1a"/>
<path d="M651 551.8L777.5 551.8L777.5 684L651 684Z" fill="#b3b3b3"/>
<path d="M650.4 638.3L655.8 634.7L666.5 640.1L673.7 638.3L680.9 634.7L683.6 645.5L680.9 654.5L677.3 661.7L668.3 665.3L661.2 661.7L655.8 654.5L650.4 649.1Z" fill="#0000cd"/>
<path d="M679.6 595.6L680.9 595.7L681.1 598.3L678.9 598.1ZM681.9 599.9L682.6 600.2L681 605.2L679.8 604.7ZM687.6 596.1L688.7 596.3L688.3 600.1L686.5 599.8ZM690.6 594.3L692.1 594.1L693.2 597.7L690.7 598.1ZM681.7 605.6L683.2 605.7L683.5 608.7L680.9 608.4ZM682.4 616L683.9 616.3L683.2 622L680.7 621.5ZM683.8 599.9L685.3 600.5L685 602.7L682.5 601.6ZM688.9 629.4L689.8 629.6L688.5 635L687.2 634.6ZM688.4 599.6L689.2 599.8L688.9 602L687.6 601.6ZM683.6 604.4L684.9 604.5L684.7 610.2L682.6 610ZM691.3 626.1L692.1 626.2L692.2 630.9L690.8 630.9ZM685.6 620.2L686.5 620.1L687.4 626.1L686 626.2ZM686.2 621.2L687.2 621.1L688.2 627L686.5 627.2ZM682.8 610.2L683.8 610.6L682.1 615.8L680.4 615.1ZM685.6 596L687.2 595.9L688 598.3L685.4 598.6ZM682.2 605.1L683.6 605.6L682.8 609.7L680.5 608.9ZM685.4 626.1L686.4 626.1L686.6 630.8L684.9 630.8ZM686.8 590.9L687.6 590.9L688.3 596L687 596.1ZM688.9 601.6L690.4 602.2L689.6 605.7L687.1 604.8ZM682.5 597.1L683.3 597L684.4 602.7L683.1 602.9ZM680.1 617.5L680.9 617.5L681.4 623.1L680 623.1ZM683.1 598L684.5 598.2L684.3 602.6L682.1 602.2ZM689.8 608.3L691.1 608.6L690.8 612.6L688.6 612.2ZM687.8 610.8L688.6 610.7L689.2 616.1L688 616.2ZM688.6 634.1L689.7 634.5L689.3 637.2L687.3 636.6ZM689.8 595.4L690.6 595.5L690.4 599.1L689.1 599Z" fill="#0000cd"/>
<path d="M704.2 577.3L711.4 576.4L715.9 588.1L712.3 598.8L707.8 598.8L706.9 586.3Z" fill="#0000cd"/>
<path d="M777.5 709.5L777.5 594.1L776 592.9L775.8 592.8L775.5 592.6L775.3 592.5L768.2 589.8L767.9 589.7L767.6 589.6L767.3 589.6L767 589.6L766.7 589.6L760.4 590.4L754 587.2L753.8 587.1L753.5 587L753.2 586.9L752.9 586.9L752.6 586.9L752.3 586.9L752 587L751.8 587.1L746.4 588.9L746.1 589L745.8 589.1L745.6 589.2L745.3 589.4L745.1 589.6L744.9 589.9L744.8 590.1L744.6 590.3L741 597.4L741 597.5L737.4 604.7L737.3 604.9L737.2 605.2L737.1 605.5L735.4 615.7L732.4 620.3L727.3 625.5L727.1 625.7L726.9 626L726.7 626.3L726.6 626.5L723.9 633.6L723.9 633.6L723.1 635.7L721 632.9L720.9 632.7L720.7 632.6L715.3 627.3L715 627L708.2 621.9L705.5 617.8L706.3 610L708 599.9L712.1 593.3L712.3 593L712.4 592.8L712.5 592.5L712.6 592.2L712.6 591.9L712.6 591.6L712.6 591.3L712.5 591L712.4 590.8L710.6 585.4L710.5 585.1L710.4 584.8L710.2 584.6L710.1 584.3L709.8 584.1L709.6 583.9L709.4 583.7L709.1 583.6L708.8 583.5L708.6 583.4L708.3 583.3L708 583.3L707.7 583.3L707.4 583.3L707.1 583.4L699.9 585.2L699.6 585.3L699.4 585.4L699.1 585.5L698.9 585.6L698.7 585.8L698.5 586L693.2 591.4L693 591.6L692.8 591.8L692.7 592L692.6 592.3L692.5 592.5L688.9 603.2L688.8 603.5L688.7 603.8L686.9 616.4L685.1 629L683.4 640.9L678.3 649.4L678.2 649.6L678.1 649.8L675 657.6L668.7 660.1L665 657.7L660 650.9L659.9 650.7L659.7 650.6L652.5 643.4L652.3 643.2L652.1 643L651.8 642.9L651.5 642.7L651.3 642.6L651 642.6L651 709.5Z" fill="#ee4408"/>
<path d="M650.4 645.5L657.6 652.7L662.9 659.9L668.3 663.5L677.3 659.9L680.9 650.9L686.3 641.9L688.1 629.4L689.9 616.8L691.7 604.2L695.3 593.5L700.6 588.1L707.8 586.3L709.6 591.7L705.1 598.8L703.3 609.6L702.4 618.6L706 624L713.2 629.4L718.6 634.7L724 641.9L726.7 634.7L729.4 627.6L734.7 622.2L738.3 616.8L740.1 606L743.7 598.8L747.3 591.7L752.7 589.9L759.9 593.5L767.1 592.6L774.2 595.3L778.7 598.8L778.7 706.5L650.4 706.5Z" fill="#8b1a1a"/>
<path d="M703.3 616.8L707.8 620.4L715 627.6L720.4 632.9L725.8 638.3L731.2 641.9L729.4 646.4L724 642.8L716.8 635.6L709.6 628.5L703.3 621.3Z" fill="#0000cd"/>
<path d="M715 643.7L722.2 641.9L729.4 649.1L730.3 661.7L725.8 670.6L718.6 670.6L715 659.9Z" fill="#0000cd"/>
<path d="M688.1 620.4L692 604.2L696.2 594.4L701 589.9L706.9 588.1L707.8 592L703.9 598.8L702.1 609.6L698.8 606.9L696.2 609.6L695.3 620.4L692 629.4Z" fill="#ee4408"/>
<path d="M750.9 598.8L759.9 601L767.1 604.2L774.6 600.6L778.7 602.4L778.7 615.4L763.5 615.4L756.3 617.2L752.7 607.8Z" fill="#b3b3b3"/>
<path d="M696.7 608.7L701 606.9L702.8 616.8L701.5 624L697.1 622.2Z" fill="#b3b3b3"/>
<path d="M717.7 647.3L723.1 644.6L727.6 652.7L727.9 661.7L724 667.9L719.5 667.1L717.2 658.1Z" fill="#b3b3b3"/>
<path d="M759.9 593.5L770.6 592L774.2 596.2L768.8 598.8L761.7 597.9Z" fill="#8b1a1a"/>
<path d="M650.4 554L655.8 554.9L654.9 561.2L650.4 561.2Z" fill="#ee4408"/>
<path d="M700.8 547.1L702.5 547.1L702.9 551.4L700.1 551.2ZM724.2 544.7L725.8 545L725.6 549.3L722.9 548.8ZM712.1 543.9L712.9 544.2L712.4 546.2L711.1 545.7ZM724.8 559.9L726.4 560.6L725.8 563.5L723.1 562.3ZM702 546L702.8 546.4L701.7 548.9L700.5 548.2ZM698.8 544.7L699.9 544.5L700.6 547.2L698.8 547.5ZM725.1 553.8L726.6 554.1L726.1 558.7L723.5 558.1ZM706.4 548.3L707.6 548.3L708 554.7L706.1 554.7ZM713.6 544.3L715.2 544.5L715.1 548.5L712.5 548.1ZM723.2 545.8L724.6 545.6L725.3 547.7L723 548Z" fill="#4d4d4d"/>
<path d="M1170 610.5L1180 598L1192.5 590.5L1207.5 580.5L1222.5 568L1237.5 555.5L1250 545.5L1265 530.5L1280 518L1295 503L1305 490.5L1312.5 480.5L1322.5 483L1315 495.5L1300 510.5L1285 525.5L1270 538L1255 553L1240 565.5L1225 578L1210 590.5L1195 600.5L1180 613Z" fill="#ee4408"/>
<path d="M1240 546.1L1253.5 538.5L1257.7 530.9L1264.4 522.5L1270.3 511.6L1276.2 513.3L1282.9 504.9L1289.6 503.2L1294.7 495.6L1296.4 488.9L1300.6 485.5L1307.3 480.5L1314 480.5L1327.5 482.1L1340.9 485.5L1349.3 482.1L1356.1 485.5L1361.1 504L1357.8 507.4L1324.1 509.1L1295.5 510.7L1273.6 527.6L1250.1 547.8L1240 557.9Z" fill="#ee4408"/>
<path d="M776.8 635.1L786.9 633.5L790.3 626.7L798.1 623.4L804.8 620L807.1 614.4L804.8 608.8L803.7 604.3L808.2 603.2L812.7 606.6L818.3 605.4L822.8 607.7L823.9 603.2L829.5 598.7L834 596.5L838.5 594.2L842.4 594.2L846.3 589.7L850.8 590.9L844.2 590.6L860.4 587L866.4 576.9L872.5 570.8L882.6 566.8L890.6 572.8L896.7 575.9L904.8 570.8L910.8 568.8L924.9 565.8L939.1 562.3L952.2 564.8L957.2 557.7L961.3 556.7L965.3 561.7L979.4 561.7L981.5 558.3L984.5 561.7L991.5 560.7L1007.7 559.7L1025 560.5L1032.5 553L1042.5 545.5L1055 538L1060 533L1056.2 521.8L1062.5 519.2L1068.8 525.5L1075 528L1090 523L1100 521.8L1112.5 524.2L1120 530.5L1125 538L1132.5 543L1150 540.5L1160 545.5L1175 544.2L1187.5 540.5L1197.5 535.5L1207.5 530.5L1217.5 523L1230 518L1235 520.5L1230 528L1225 535.5L1222.5 538L1215 543L1200 553L1187.5 562.2L1215 562.2L1235 560.5L1250 548L1265 533L1280 520.5L1295 505.5L1303.9 500.7L1314 499L1324.1 504L1334.2 497.3L1342.6 492.2L1349.3 488.9L1354.4 492.2L1357.8 499L1361.1 504L1371.2 504L1420 520L1420 900L690 900L690 684L777.5 684Z" fill="#8b1a1a"/>
<path d="M842.7 594.8L848.6 593.7L850.8 596.5L848.6 602.1L842.9 604.3Z" fill="#b3b3b3"/>
<path d="M843.5 606.3L852.5 606.8L852.8 610.1L844.1 609.9Z" fill="#b3b3b3"/>
<path d="M803.2 588.1L808.2 584.7L815.5 583L814.9 586.4L810.4 589.7L803.7 591.4Z" fill="#8b1a1a"/>
<path d="M789.4 613.3L792.5 611.9L795 614.4L793.6 618.7L790.3 617.8Z" fill="#8b1a1a"/>
<path d="M809.3 611L816 615.5L816.6 619.5L811.6 617.8L808.2 614.4Z" fill="#b3b3b3"/>
<path d="M1175 600.5L1190 590.5L1205 581.8L1220 569.2L1235 558L1250 545.5L1265 531.8L1280 519.2L1295 504.2L1305 491.8L1312.5 484.2L1307.5 500.5L1292.5 515.5L1277.5 529.2L1262.5 543L1247.5 555.5L1232.5 568L1217.5 579.2L1202.5 590.5L1187.5 600.5L1177.5 610.5Z" fill="#ee4408"/>
<path d="M1309.8 501.5L1310.7 502.7L1309.2 504.4L1307.7 502.4ZM1269.9 538.6L1270.7 540.1L1268.4 542L1267.1 539.5ZM1253.9 551.5L1255 552.8L1251.5 556.5L1249.7 554.4ZM1281.1 529.8L1281.6 530.6L1279.9 532.3L1278.9 531ZM1312.2 497L1312.9 497.4L1310.6 501.8L1309.4 501.1ZM1279.8 526.7L1280.5 527.8L1278.3 529.5L1277.3 527.7ZM1287.1 520.6L1287.8 521.3L1286.8 522.9L1285.6 521.8ZM1248.4 557.7L1249.2 559.1L1246.1 561.5L1244.8 559ZM1283.5 525.2L1284.2 526L1282.4 527.8L1281.4 526.4ZM1253.2 550.2L1254.6 551L1253.7 553.7L1251.4 552.4ZM1319.3 485.4L1320.1 486L1318.1 488.7L1316.8 487.6ZM1285.4 520.9L1286.7 522L1284.3 525.6L1282.1 523.7ZM1303.7 503.3L1304.8 504.3L1303.7 506.2L1301.9 504.4ZM1262.8 544.4L1263.6 545.5L1261.1 548L1259.7 546.1ZM1301.8 509.3L1302.9 510.5L1299.8 513.9L1298 511.8ZM1309.9 501L1310.5 502.2L1306 504.8L1305 502.8ZM1292.8 516.4L1294 517L1292.5 521.2L1290.5 520.3ZM1280.9 528.3L1281.6 528.8L1280.8 530.8L1279.5 530ZM1279.2 529.8L1280 530.4L1277.4 534.9L1276 533.9ZM1255.7 550.4L1256.7 551.4L1254.8 554.1L1253.1 552.4ZM1270.4 539.1L1271.1 539.8L1267.7 543.6L1266.5 542.5ZM1256.1 549.6L1256.5 550.4L1252.8 553.1L1252.1 551.9ZM1308.3 499.6L1309.3 500.2L1307.3 503.9L1305.7 502.8ZM1255.6 548.9L1256 549.6L1253.4 551.5L1252.7 550.3ZM1251.6 553.1L1252.8 554.4L1249.3 558.3L1247.4 556.2ZM1319.1 489.3L1319.5 490L1316 492.3L1315.3 491.2ZM1259.5 547.5L1260.6 548L1258.6 553.1L1256.7 552.2ZM1257.4 546.4L1258.6 547.7L1256.9 550.2L1254.8 548.2ZM1266 539.3L1266.5 540L1262.7 542.7L1262 541.6ZM1291.6 516.6L1292.8 517.9L1289.8 521.5L1287.8 519.4ZM1312.9 491.5L1313.5 492.2L1311.4 494.5L1310.3 493.2ZM1282.8 526.1L1283.6 526.9L1282.3 528.7L1280.9 527.2ZM1298.7 509.9L1300 511L1297.5 514.8L1295.4 513.1ZM1293.7 518.2L1294.3 518.9L1292.7 521L1291.6 520ZM1258.8 544.6L1260.3 545.5L1259.3 548.7L1256.7 547.4ZM1258.7 549.6L1259.3 550.6L1256.9 552.6L1255.8 550.9ZM1302.1 509.2L1302.7 510.3L1300.4 512.1L1299.4 510.3ZM1283.6 526.3L1284.3 527L1280.6 530.6L1279.6 529.3ZM1314.1 491.7L1314.7 492.7L1311.1 495.3L1310.1 493.8ZM1271.6 537.1L1272 537.8L1269.5 539.5L1268.8 538.3ZM1313.2 498.7L1313.9 499.3L1311 503.3L1309.9 502.4ZM1285.1 522.5L1286.4 523.2L1285 526.6L1283 525.5ZM1268 536.4L1269.2 537.6L1265.8 541.8L1263.9 539.8ZM1311.8 498L1312.9 498.9L1311.9 501.1L1310 499.6ZM1308.7 496.5L1309.5 497.4L1306.4 500.7L1305 499.2ZM1256.5 552.9L1257.1 553.4L1254.1 556.8L1253.3 556ZM1302.8 507.4L1303.8 508.4L1301.8 511.3L1300 509.7ZM1269 537.9L1269.7 539L1267.4 541L1266.2 539.2ZM1318 491.3L1318.8 492.6L1315 495.8L1313.5 493.6ZM1260.6 546.6L1261.8 547.5L1259.2 551.9L1257.2 550.4ZM1284.7 520.8L1285.7 521.3L1283.5 526.1L1281.8 525.1ZM1272.8 533.3L1273.3 534.3L1269.7 536.5L1268.9 534.9ZM1310.5 498.7L1311.3 499.5L1308 503.3L1306.7 502ZM1287 518.9L1288.1 519.6L1285.7 523.8L1283.9 522.6ZM1299.4 512.9L1300 513.9L1298.1 515.6L1297.1 514ZM1299.9 506.9L1300.3 507.8L1298.7 508.9L1298 507.5ZM1248.9 555.7L1249.9 556.7L1249.1 558.3L1247.3 556.7ZM1313.4 494L1314 495.2L1311.9 496.8L1310.9 494.7ZM1310.8 489.8L1312.2 490.7L1310.4 494.9L1308 493.5ZM1309.6 493.2L1310.6 494.4L1309.3 496.2L1307.6 494.1ZM1288 518.6L1288.8 519L1288.2 520.7L1286.9 520ZM1271.3 537.8L1272.4 538.5L1271.5 540.6L1269.8 539.4ZM1274.1 530L1274.9 530.7L1272.6 533.7L1271.3 532.4ZM1242.2 560.8L1243.4 562L1239.8 566L1237.9 563.9ZM1271.9 530.7L1273.4 531.5L1271.9 535.7L1269.3 534.3ZM1255.5 549.2L1256 549.8L1253 552.6L1252.2 551.6ZM1292.8 513.8L1293.5 514.4L1290.8 518L1289.6 517ZM1316.7 488.2L1317.7 489.3L1314 493.3L1312.3 491.4ZM1301.9 505.2L1302.9 506.3L1301.6 508.3L1299.8 506.5ZM1262.1 542.7L1263.2 543.6L1262.1 545.6L1260.4 544.1ZM1315.1 491L1316.5 492L1313.9 496.7L1311.5 495.1ZM1315.1 490.1L1315.6 490.8L1312.9 493.2L1312 492ZM1286.5 524.9L1287 525.9L1283.3 528.2L1282.5 526.5ZM1301.6 509.5L1302.3 510.1L1298.7 513.9L1297.7 512.8ZM1311.7 491L1312.4 491.4L1311.6 493.5L1310.3 492.8ZM1318.8 485.5L1319.5 485.8L1318.5 488.5L1317.3 487.9ZM1286.3 521.9L1286.7 522.7L1283.5 524.8L1282.8 523.5ZM1299.9 511.9L1300.3 512.6L1296.3 515.7L1295.6 514.6ZM1253.7 553.1L1254.4 553.5L1252.9 556.7L1251.6 555.9ZM1307.3 495.5L1308 496.3L1305 499.6L1303.8 498.4ZM1244.8 559.4L1245.5 560.8L1241.2 563.5L1240 561.2ZM1281.7 527L1283 527.7L1282.7 529.6L1280.4 528.4ZM1258.9 544.6L1259.6 545.7L1257.2 547.9L1255.9 546.2ZM1299.8 508L1301 508.6L1300.3 510.6L1298.5 509.6ZM1279.1 530L1280.3 530.7L1278.6 534.6L1276.6 533.5ZM1319.3 491.8L1319.9 493L1316.4 495.3L1315.3 493.3ZM1300.5 505.5L1301 506.2L1298.2 508.6L1297.4 507.6ZM1251.6 558.2L1252.1 559.2L1248.2 561.8L1247.3 560.2ZM1297 507.4L1297.8 508L1295 512.1L1293.7 511.1ZM1312.4 492.7L1313.2 493.4L1311.2 496.2L1309.9 495.1ZM1301.3 509.4L1301.9 510.1L1298.1 513.5L1297.1 512.2ZM1292 518L1293 518.7L1292.2 520.7L1290.5 519.6ZM1302.4 510.3L1303.1 511.7L1300.1 513.7L1299 511.4ZM1261.2 544.6L1261.8 545.4L1257.4 549L1256.5 547.7ZM1243.9 558.5L1244.6 558.9L1243.5 561.1L1242.3 560.3ZM1297.3 511.5L1298.5 512.2L1296.8 516.1L1294.7 514.9ZM1244.4 558L1245.4 558.6L1243.8 561.7L1242.2 560.6ZM1266.9 541.8L1267.6 542.3L1266 545L1264.8 544.2ZM1254.2 553.1L1254.7 553.7L1252.8 555.7L1251.9 554.6ZM1307.1 504.7L1307.6 505.4L1306.2 506.8L1305.4 505.7ZM1282.5 524.9L1283 525.5L1281 527.3L1280.3 526.3ZM1301.4 508.2L1302.1 509.6L1300.2 511.2L1299 508.8ZM1250.6 558.9L1251.4 560.3L1247.1 563.2L1245.8 560.9ZM1256.9 549.4L1258 550.5L1256.9 552.3L1255.1 550.6ZM1298.2 508.7L1299.4 510L1297.2 512.7L1295.2 510.5ZM1316.6 493.4L1317.9 494.2L1315.7 498.5L1313.6 497.3ZM1309.2 500.9L1309.8 501.9L1306.9 504L1305.9 502.3ZM1294.3 512.7L1295 513.7L1292.2 515.9L1291.1 514.3ZM1293.4 513.9L1294 515L1290.5 517.2L1289.6 515.4ZM1300 507.5L1301.3 508.6L1300.4 510.6L1298.1 508.8ZM1271.5 538.4L1272.2 539.6L1268.8 542.2L1267.7 540.2ZM1259 545.2L1259.9 546.7L1256 549.6L1254.6 547.2ZM1309 500L1309.6 501L1307.5 502.9L1306.4 501.2ZM1279.1 530.1L1280 531L1279.1 532.6L1277.5 531.1ZM1283.6 525.2L1284.1 525.8L1282.1 527.8L1281.2 526.7ZM1288.1 522.6L1288.9 524L1286.8 526L1285.4 523.6ZM1312.1 495L1312.8 495.9L1311.1 497.7L1310 496.2ZM1256.5 551.4L1257.8 552.1L1256 556.6L1253.8 555.4ZM1303.6 504.8L1304.4 505.5L1303.5 507.3L1302.1 506.1ZM1258.3 548L1259.2 549.6L1257.6 551.1L1256.1 548.6ZM1257.6 545.3L1258.5 546.1L1255.7 549.8L1254.2 548.3ZM1286.4 521L1287.2 522.4L1284.6 524.5L1283.2 522.1ZM1296.9 508.7L1298.3 509.4L1296.9 513.3L1294.6 512.1ZM1287.2 521.2L1287.7 522.2L1285.6 523.9L1284.6 522.1ZM1291.1 518.3L1292.2 519.4L1290.5 521.8L1288.7 520ZM1313.6 492.4L1315.1 493.1L1313.8 497.1L1311.4 495.9ZM1281.2 526.6L1282.6 527.5L1281.4 530.3L1279.1 528.8ZM1291.6 515.2L1292.6 515.9L1290.7 519.4L1289.1 518.2ZM1310.2 501.2L1310.7 502L1306.8 505.1L1305.9 503.9ZM1305.3 500.9L1306 501.4L1305.3 503.2L1304 502.4ZM1264 539.8L1264.9 540.5L1261.7 544.7L1260.3 543.5ZM1265.5 542.6L1266.2 543.4L1263.5 545.9L1262.5 544.6ZM1250.1 554.9L1251.7 555.8L1250.9 558.4L1248.3 556.9ZM1249.3 555.3L1250.3 555.9L1247.8 560.8L1246.2 559.9ZM1300.4 508.5L1301.3 509.2L1299 513.2L1297.4 512ZM1296.3 511.1L1297.4 512.3L1296.1 514.3L1294.2 512.2ZM1271.5 536.6L1272.1 537.3L1270.6 539L1269.6 537.8ZM1307.2 503.1L1308.6 504.2L1306.8 507.5L1304.5 505.7ZM1284.8 525.8L1286.2 526.5L1285.4 529.4L1283 528.2ZM1318.8 487.8L1320.1 488.9L1318 492.2L1315.8 490.3Z" fill="#8b1a1a"/>
<path d="M1314.8 485.7L1315.3 487.2L1310.7 489.5L1309.7 487ZM1301.7 490.3L1302.5 491L1300.4 494L1299 492.9ZM1337.3 492.8L1338.3 493.9L1335 497.5L1333.3 495.6ZM1339.4 488.4L1340.8 489.8L1339 492.3L1336.8 490ZM1321.3 493.7L1321.7 495.1L1317 497.1L1316.3 494.6ZM1332 497.3L1332.8 498L1331.2 500.4L1329.9 499.2ZM1335.9 489.5L1336.5 490.3L1334.5 492.2L1333.5 490.8ZM1334.8 485.1L1335.1 486L1332.2 487.5L1331.7 485.9ZM1331.2 497.1L1331.7 498.7L1329.3 500L1328.5 497.3ZM1313.4 485.9L1313.8 487.7L1311.1 488.9L1310.4 485.9ZM1337.5 490.5L1337.8 491.8L1335.2 492.8L1334.7 490.7ZM1312.4 493.1L1313.3 494.3L1309.6 498L1308.1 496ZM1321.3 486.4L1321.5 487.8L1319.6 488.6L1319.1 486.3ZM1322.8 481.7L1323.9 483.3L1321.2 486L1319.3 483.3ZM1338.3 493.5L1339.3 494.7L1337.9 496.5L1336.3 494.5ZM1323.8 491.6L1324.1 493.4L1321.5 494.6L1320.9 491.6ZM1327.9 485.1L1328.3 486.9L1325.6 488.1L1324.9 485.2ZM1336.1 494.5L1337.3 495.8L1334.9 498.8L1332.9 496.8ZM1315.4 482.3L1315.9 484.1L1314.1 485.3L1313.2 482.2ZM1326.5 482.6L1327.1 484.2L1325.2 485.4L1324.2 482.8ZM1325.8 493.3L1327 494.7L1324.8 497.3L1322.8 495ZM1309.9 493.8L1310.3 494.8L1307.6 496.2L1307 494.5ZM1323.5 492.9L1324.2 493.6L1322.3 496L1321.1 494.8ZM1333.4 485.8L1334 486.5L1331.1 489.5L1330.1 488.4ZM1312 495.8L1312.6 496.5L1308.8 500.3L1307.8 499.1ZM1332 492L1332.5 493.7L1330.4 495L1329.4 492.3ZM1303.1 490.5L1303.8 491.6L1300.2 494.5L1299 492.6ZM1302.2 490.1L1303.3 491.5L1301.4 493.6L1299.6 491.2ZM1308.2 491.5L1308.8 492.4L1306.7 494.2L1305.7 492.6ZM1353.8 491.6L1354.1 493L1352.4 494L1351.8 491.7ZM1349.5 484.7L1350.1 485.6L1347.4 487.6L1346.5 486.1ZM1346.2 490.5L1347.2 492.1L1342.9 495.7L1341.1 493ZM1331.7 496.7L1332.5 497.6L1328.8 501.6L1327.5 500.3ZM1333.3 493.8L1333.6 494.6L1330 496.3L1329.5 494.9ZM1326.9 500.8L1328.2 502.2L1327.2 504.1L1325 501.8ZM1307.9 495.2L1308.3 496.2L1306.4 497.4L1305.7 495.8ZM1352.1 486.5L1352.8 487.9L1350 489.8L1348.9 487.5ZM1333.9 493.4L1334.2 494.5L1329.9 495.8L1329.5 494.1ZM1311.5 490.3L1312 491.4L1309.4 492.9L1308.6 491.1ZM1344.2 481.5L1345.2 483.2L1340.8 486.7L1339.1 483.9ZM1320.3 484.5L1320.7 486L1316.9 487.7L1316.2 485.1ZM1315.1 497.1L1315.3 498L1313.3 498.8L1312.9 497.2ZM1303.4 493.1L1304.4 494.3L1301.2 497.6L1299.6 495.6ZM1309.8 494.9L1310.6 495.9L1306.9 499.6L1305.4 497.8ZM1348.6 483.3L1349.3 484.3L1348 485.5L1347 484ZM1312.3 498.6L1312.9 499.7L1311.5 501L1310.5 499.1ZM1353 485.2L1353.6 485.9L1350.2 489.2L1349.2 488ZM1336.7 484.3L1337.1 486L1331.8 487.8L1331.1 484.9ZM1348.3 487.1L1348.6 488L1343.8 489.9L1343.3 488.5ZM1350.2 486.3L1350.6 487.6L1347.9 488.9L1347.3 486.7Z" fill="#8b1a1a"/>
<path d="M1198 588.8L1199 589.4L1197.7 592.3L1196 591.3ZM1184.5 603.6L1185 604.6L1183.3 605.9L1182.4 604.2ZM1201.9 588.8L1202.6 590L1199.6 592.2L1198.5 590.2ZM1204.8 583.1L1205.5 583.5L1202.9 588.2L1201.8 587.5ZM1181.4 602.7L1182.4 604.1L1179.3 607.2L1177.5 604.9ZM1193.5 589.9L1193.9 590.7L1189.8 593.6L1189 592.3ZM1205.7 582.6L1206.8 583.5L1203.8 588.1L1202 586.7ZM1215.7 573.8L1216.5 574.7L1215.3 576.2L1214 574.7ZM1193 597.1L1194.1 598.4L1191.1 601.7L1189.2 599.5ZM1189.2 592.8L1189.6 593.8L1187 595.4L1186.2 593.7ZM1182.5 599.1L1183.1 599.5L1180.7 603.2L1179.7 602.5ZM1211.6 579.9L1212 580.5L1208.5 583.2L1207.7 582.1ZM1208.2 580.5L1208.8 581.4L1206 583.7L1205 582.2ZM1200 587.3L1200.9 588.1L1198.8 590.9L1197.5 589.7ZM1187.7 593.2L1188.2 593.8L1186.4 595.5L1185.6 594.5ZM1221.7 575.5L1222.9 576.6L1220.1 580.8L1218 579ZM1213.2 578.9L1214.4 579.8L1212.9 582.7L1210.9 581.3ZM1199.5 587.8L1200 588.5L1196.5 591.1L1195.8 590ZM1190.1 595L1191.3 595.9L1189 599.7L1187 598.1ZM1202.9 588.8L1203.4 589.8L1201.6 590.9L1200.9 589.2Z" fill="#8b1a1a"/>
<path d="M1195 558L1215 541.8L1225 545.5L1237.5 546L1250 541L1242.5 550.5L1235 558L1225 555.5L1210 563Z" fill="#b3b3b3"/>
<path d="M1215 565.5L1227.5 555.5L1237.5 556.8L1225 570.5L1217.5 574.2Z" fill="#b3b3b3"/>
<path d="M1238.5 556.8L1239.8 557.7L1239.1 559.6L1237 558ZM1246.9 560.5L1248.1 561.8L1246.2 564.5L1244.1 562.3ZM1247.5 557.7L1248.1 558.5L1245.2 561.2L1244 559.7ZM1240.1 556.7L1240.5 557.5L1238 559.1L1237.3 557.8ZM1242.2 559.8L1242.8 561.2L1241.4 562.4L1240.4 560ZM1252.9 556L1253.5 557.1L1250.3 559.1L1249.4 557.3ZM1247.7 553.9L1248.1 555.1L1247.1 555.9L1246.3 554ZM1243.1 556L1244.5 557.1L1244 558.7L1241.7 556.9ZM1252.9 558.2L1253.5 559.7L1250.5 561.4L1249.5 558.9ZM1249.6 556.6L1250.6 557.8L1248 560.6L1246.3 558.6Z" fill="#0000cd"/>
<path d="M1236.1 566.6L1236.5 567.6L1235 568.5L1234.4 566.9ZM1221 576L1221.9 576.5L1221.5 577.8L1220.1 576.9ZM1226.3 566.2L1227 566.7L1225.4 569.5L1224.3 568.7ZM1226 572.4L1226.6 572.9L1225.7 574.4L1224.7 573.6ZM1216.1 574.9L1217 575.7L1215.6 577.8L1214.2 576.4ZM1233.4 565.9L1233.9 567.2L1230.8 569L1229.9 566.7ZM1233.8 567.5L1234.6 568.7L1232.1 570.9L1230.8 568.8ZM1230.4 564.5L1230.8 565.2L1228.3 567.2L1227.6 566.1ZM1226.2 566.1L1226.9 567.2L1224.8 568.9L1223.8 567.1ZM1230.1 566L1230.5 566.6L1228.6 568.6L1227.9 567.7ZM1232.8 566L1233.7 567.4L1232.2 569L1230.7 566.7ZM1234.6 564.6L1235 565.4L1232.2 567.3L1231.5 566Z" fill="#0000cd"/>
<path d="M1195.2 597.3L1195.6 598.3L1192.8 599.9L1192 598.2ZM1189.4 597.8L1190.2 598.4L1189 600.5L1187.6 599.5ZM1196.1 595.3L1197 596.1L1194.6 599.3L1193.1 597.9ZM1185.1 596.7L1185.8 597.5L1184.7 599.1L1183.4 597.8ZM1194.5 598.9L1195.3 599.5L1193.1 602.7L1191.8 601.7ZM1194.9 591L1195.6 591.6L1194.2 593.5L1193.1 592.5ZM1199.6 595.7L1200.3 596.5L1197.7 599.3L1196.4 597.9ZM1190.2 598.1L1190.9 598.9L1190.1 600.1L1188.9 598.9ZM1185.8 596.1L1186.7 596.8L1185.8 598.5L1184.3 597.4ZM1195.1 587.9L1195.7 589L1194.4 590L1193.5 588.3ZM1190.5 591.2L1191.7 592L1191 593.9L1189 592.5ZM1197 597.7L1197.7 598.4L1196.4 599.9L1195.3 598.6ZM1200.9 587.6L1201.8 588.9L1199.1 591.5L1197.5 589.4ZM1199.8 594.2L1201 595L1199.1 598.3L1197.2 596.9ZM1196.6 591.7L1197.2 592.9L1195.2 594.4L1194.2 592.3ZM1196.7 592.4L1197.4 593.5L1195.1 595.5L1193.9 593.8Z" fill="#0000cd"/>
<path d="M1165 608L1175 605.5L1185 610.5L1175 615.5Z" fill="#ee4408"/>
<path d="M1225 518L1235 516.8L1235 523L1227.5 528L1223.8 523Z" fill="#ee4408"/>
<path d="M1168.8 533L1172.5 533L1172.5 538L1168.8 538Z" fill="#8b1a1a"/>
<path d="M1180 528.5L1187.5 528L1187.5 533L1181.2 533.5Z" fill="#8b1a1a"/>
<path d="M840 598L848.8 595.5L850 603L842.5 604.2Z" fill="#b3b3b3"/>
<path d="M1307.3 462L1314 456.9L1324.1 458.6L1334.2 462L1344.3 460.3L1354.4 456.9L1361.1 455.2L1365.3 458.6L1367.9 463.6L1361.1 468.7L1354.4 473.7L1347.7 472.1L1340.9 475.4L1332.5 473.7L1330.8 467L1324.1 465.3L1315.7 467Z" fill="#0000cd"/>
<path d="M1307.3 477.1L1312.3 468.7L1315.7 470.4L1314 478.8Z" fill="#ee4408"/>
<path d="M1357.8 473.7L1364.5 468.7L1374.6 467L1378.8 472.1L1377.9 483.8L1371.2 492.2L1364.5 488.9L1357.8 483.8Z" fill="#ee4408"/>
<path d="M1354.4 479.1L1357.8 474.1L1367.9 480.5L1376.3 485.5L1374.6 497.3L1367.9 501.5L1362 493.9L1357.8 485.5Z" fill="#ee4408"/>
<path d="M1363.6 494.8L1372.9 488.9L1379.6 483.8L1375.4 495.3L1370.9 502.3L1366.2 502.7Z" fill="#0000cd"/>
<path d="M1372.9 465.3L1377.9 451.9L1384.7 445.1L1391.4 441.8L1401.5 440.1L1408.2 443.5L1396.4 448.5L1389.7 463.6L1388 473.7L1384.7 482.1L1377.9 493.9L1371.2 500.7L1366.2 500.7L1371.2 492.2L1377.9 483.8L1378.8 472.1L1374.6 467Z" fill="#0000cd"/>
<path d="M1297.2 508.9L1297.8 509.7L1295.3 512L1294.3 510.7ZM1286.4 517.4L1287 518.6L1284.5 520.1L1283.6 518.1ZM1285.5 524.3L1286.1 525.1L1283.7 527.5L1282.6 526.2ZM1282.3 524.3L1282.6 525.1L1280.2 526.2L1279.7 525ZM1286.7 517.7L1287.2 518.2L1285.9 519.7L1285.1 518.9ZM1286.8 526.5L1287.3 527.1L1285.3 529.3L1284.4 528.4ZM1297.8 508.1L1298.4 508.5L1297.6 509.8L1296.7 509.1ZM1290.7 515.3L1291.7 516.1L1291 517.7L1289.3 516.4ZM1283.4 521.2L1283.9 521.6L1282.8 523.5L1281.9 522.9ZM1296.7 506.5L1297.5 507.7L1296.2 509L1295 507.1Z" fill="#0000cd"/>
<path d="M1243.7 557.6L1244.4 559L1242.8 560.3L1241.7 558.1ZM1248.4 557.3L1248.9 558.6L1246.5 560.1L1245.7 557.8ZM1249 552.2L1249.6 553.2L1247.5 554.9L1246.5 553.3ZM1253.7 555.4L1254.5 555.9L1253.1 558.8L1251.7 558ZM1250.7 557.4L1251.9 558.4L1250.8 560.6L1248.8 559ZM1246.3 558.8L1247.7 559.8L1247 561.9L1244.6 560.2ZM1250.1 559L1251.1 559.8L1249.9 562L1248.2 560.6ZM1254.8 552.5L1255.7 553.5L1254.8 554.9L1253.3 553.2ZM1245.9 559L1246.5 559.9L1245 561.2L1244 559.7Z" fill="#0000cd"/>
<path d="M1388.4 440.5L1396.5 437.5L1410.6 435.5L1430.8 434.5L1436.8 436L1434.8 445.6L1420.7 452.1L1405.6 457.7L1388.4 459.7L1383.4 458.7L1380.4 450.6L1384.4 444.6Z" fill="#0000cd"/>
<path d="M1440.9 424.4L1451 425.4L1461.1 427.4L1464.1 436.5L1454 437.5L1451 432.5L1444.9 433.5Z" fill="#0000cd"/>
<path d="M1375.3 450.6L1382.4 444.6L1387.4 446.6L1390.4 462.7L1389.9 470.3L1340 470.3L1340 460.7L1350.1 459.7L1365.2 454.7Z" fill="#0000cd"/>
<path d="M1350.1 460.7L1355.1 459.7L1364.2 460.7L1363.2 464.7L1357.2 464.7L1352.1 462.7Z" fill="#b3b3b3"/>
<path d="M745 739L640 745L640 960L1460 960L1460 640L1290 645.7L1271.1 655.1L1264.9 653.6L1257 656.7L1252.3 663L1242.9 666.1L1233.4 666.1L1224 667.7L1214.6 666.1L1205.1 667.7L1198.9 670.9L1192.6 674L1186.3 667.7L1180 675.6L1170.6 677.1L1164.3 675.6L1158 670.9L1151.7 674L1147 681.9L1140.7 685L1137.6 677.1L1132.9 670.9L1128.1 666.9L1120.3 670.9L1114 674L1117.1 683.4L1110.9 685L1107.7 678.7L1098.3 677.1L1090.4 672.4L1084.1 674L1081 670.9L1076.3 677.1L1074.7 685L1070 681.9L1066.9 675.6L1060.6 669.3L1051.1 664.6L1041.7 661.4L1032.3 660.6L1026 666.1L1011.9 664.6L1000.9 661.4L991.4 666.1L983.6 663L975.7 661.4L966.3 659.1L964.1 664.8L957.9 666L950.5 666L948 673.4L938.1 671L933.1 675.9L925.7 674.7L918.3 673.4L913.3 671L913.3 675.9L907.1 678.4L901 679.6L893.5 680.9L888.6 687L879.9 689.5L875 689.5L873.7 683.3L868.8 683.3L868.8 690.8L863.8 689.5L857.6 688.3L851.4 689.5L846.5 690.8L839 689.5L834.1 690.8L829.1 684.6L824.8 677.1L823 671L818 672.2L819.2 677.1L823 679.6L826.7 684.6L831.6 690.8L826.7 694.5L819.2 698.2L816.8 703.1L809.3 700.7L801.9 694.5L801.9 688.3L803.1 682.1L798.2 678.4L794.5 680.9L793.2 685.8L787 689.5L771 687L756.1 686.4L756.1 693.2L752.4 704.4L758.6 713L764.8 714.3L767.2 723L772.2 725.4L779.6 723L780.9 726.7L777.1 731.6L767.2 729.1L766 736L756.1 736.6L748.7 737.8Z" fill="#f2ea00"/>
<path d="M747.5 746.6L746.8 746.8L746.1 746.9L745.5 747L648 752.6L648 952L1452 952L1452 648.3L1292 653.6L1274.7 662.3L1273.9 662.6L1273.2 662.8L1272.4 663L1271.6 663.1L1270.8 663.1L1270 663L1269.2 662.9L1265.5 662L1262 663.3L1258.7 667.8L1258.2 668.4L1257.6 669L1257 669.5L1256.3 669.9L1255.6 670.3L1254.8 670.6L1245.4 673.7L1244.6 673.9L1243.7 674.1L1242.9 674.1L1234.1 674.1L1225.3 675.6L1224.4 675.7L1223.6 675.7L1222.7 675.6L1214.6 674.2L1207.7 675.4L1202.6 678L1202.4 678.1L1196.1 681.2L1195.4 681.5L1194.7 681.7L1194 681.9L1193.2 682L1192.4 682L1191.7 681.9L1190.9 681.8L1190.2 681.6L1189.5 681.4L1188.8 681L1188.1 680.6L1187.5 680.2L1187 679.7L1186.3 680.6L1185.8 681.1L1185.2 681.7L1184.7 682.1L1184 682.5L1183.4 682.9L1182.7 683.1L1182 683.3L1181.3 683.5L1171.9 685L1171.1 685.1L1170.3 685.1L1169.5 685L1168.7 684.9L1162.4 683.4L1161.7 683.2L1160.9 682.8L1160.2 682.5L1159.5 682L1157.2 680.3L1153.9 686L1153.5 686.6L1153 687.2L1152.4 687.8L1151.8 688.3L1151.2 688.7L1150.5 689.1L1144.2 692.2L1143.5 692.5L1142.8 692.7L1142 692.9L1141.2 693L1140.5 693L1139.7 692.9L1138.9 692.8L1138.2 692.6L1137.4 692.3L1136.8 692L1136.1 691.5L1135.5 691.1L1134.9 690.5L1134.4 689.9L1134 689.3L1133.6 688.6L1133.3 687.9L1130.6 681.1L1127.1 676.5L1127 676.4L1124 678L1123.8 678.1L1123.8 678.1L1124.7 680.9L1124.9 681.6L1125 682.4L1125.1 683.2L1125.1 683.9L1125 684.7L1124.8 685.4L1124.6 686.2L1124.3 686.9L1123.9 687.6L1123.5 688.2L1123 688.8L1122.5 689.3L1121.9 689.8L1121.2 690.3L1120.5 690.6L1119.8 690.9L1119.1 691.1L1112.9 692.7L1112.1 692.9L1111.4 693L1110.6 693L1109.8 692.9L1109.1 692.8L1108.3 692.6L1107.6 692.3L1106.9 691.9L1106.3 691.5L1105.7 691L1105.1 690.5L1104.6 689.9L1104.2 689.3L1103.8 688.6L1102.4 685.9L1097 685L1096.2 684.8L1095.5 684.6L1094.9 684.3L1094.2 684L1089.2 681L1086.1 681.8L1085.3 681.9L1084.6 682L1083.8 682L1083.5 682L1082.5 686.6L1082.3 687.3L1082.1 688.1L1081.7 688.8L1081.3 689.5L1080.9 690.1L1080.4 690.7L1079.8 691.2L1079.1 691.7L1078.5 692.1L1077.8 692.4L1077 692.7L1076.3 692.8L1075.5 693L1074.7 693L1073.9 693L1073.2 692.9L1072.4 692.7L1071.7 692.4L1071 692.1L1070.3 691.7L1065.6 688.6L1064.9 688.1L1064.3 687.5L1063.7 686.9L1063.2 686.2L1062.8 685.4L1060.3 680.3L1055.9 675.9L1048 672L1040 669.3L1035 668.9L1031.3 672.1L1030.6 672.6L1029.9 673.1L1029.2 673.4L1028.4 673.7L1027.6 673.9L1026.8 674.1L1026 674.1L1025.2 674.1L1011.1 672.6L1010.4 672.4L1009.7 672.3L1001.7 670L994.9 673.3L994.3 673.6L993.6 673.8L992.8 674L992.1 674.1L991.4 674.1L990.6 674.1L989.9 674L989.1 673.8L988.4 673.5L981.3 670.7L974.1 669.2L973.8 669.2L971.2 668.5L970.8 669.1L970.4 669.8L969.8 670.4L969.2 670.9L968.6 671.4L967.9 671.8L967.2 672.2L966.4 672.5L965.6 672.7L959.4 673.9L958.7 674L957.9 674L956.2 674L955.6 676L955.3 676.7L954.9 677.4L954.5 678.1L954 678.7L953.5 679.2L952.9 679.8L952.2 680.2L951.5 680.6L950.8 680.9L950 681.1L949.3 681.3L948.5 681.4L947.7 681.4L946.9 681.3L946.1 681.2L940.5 679.8L938.7 681.6L938.1 682.1L937.5 682.6L936.9 682.9L936.2 683.3L935.5 683.5L934.8 683.7L934.1 683.8L933.3 683.9L932.6 683.9L931.8 683.8L924.4 682.6L924.3 682.6L918.9 681.6L918.3 682.1L917.7 682.6L917 683L916.3 683.3L910.1 685.8L909.4 686.1L908.6 686.2L902.5 687.4L902.4 687.5L897.8 688.3L894.8 692L894.3 692.6L893.7 693.2L893 693.7L892.3 694.1L891.6 694.4L890.8 694.7L882.1 697.2L881.4 697.4L880.6 697.5L879.9 697.5L875 697.5L874.2 697.5L873.5 697.3L873.4 697.3L873.4 697.4L872.7 697.8L872 698.1L871.3 698.4L870.6 698.6L869.8 698.7L869.1 698.8L868.3 698.8L867.5 698.7L866.8 698.5L862 697.3L857.6 696.4L853.2 697.3L848.6 698.5L847.7 698.7L846.9 698.8L846 698.8L845.1 698.7L839.4 697.7L836.2 698.5L835.4 698.7L834.6 698.8L834.3 698.8L831.5 700.9L830.9 701.3L830.2 701.7L825.2 704.2L824 706.6L823.6 707.3L823.2 707.9L822.7 708.5L822.2 709L821.6 709.5L820.9 709.9L820.3 710.3L819.6 710.6L818.9 710.8L818.1 711L817.4 711.1L816.6 711.1L815.8 711L815.1 710.9L814.4 710.7L806.9 708.3L806.1 708L805.4 707.7L804.8 707.3L804.2 706.8L796.8 700.6L796.2 700.1L795.7 699.5L795.2 698.9L794.8 698.2L794.5 697.5L794.2 696.8L794.1 696L793.9 695.3L793.9 694.7L791.1 696.4L790.4 696.7L789.7 697L788.9 697.3L788.1 697.4L787.3 697.5L786.6 697.5L785.8 697.4L770.2 695L763.9 694.7L763.9 694.9L763.7 695.7L761.3 703L763.3 705.8L766.4 706.5L767.2 706.7L768 706.9L768.7 707.3L769.3 707.7L770 708.2L770.6 708.7L771.1 709.3L771.5 710L771.9 710.7L772.3 711.4L772.5 712.2L773.7 716.5L777.1 715.4L777.9 715.2L778.6 715.1L779.4 715L780.2 715L781 715.1L781.7 715.3L782.4 715.5L783.1 715.8L783.8 716.2L784.5 716.6L785.1 717.1L785.6 717.7L786.1 718.3L786.5 718.9L786.9 719.6L787.1 720.3L788.4 724L788.7 724.8L788.8 725.6L788.9 726.4L788.9 727.2L788.8 728L788.6 728.8L788.4 729.5L788.1 730.3L787.7 730.9L787.2 731.6L783.4 736.5L782.9 737.1L782.4 737.6L781.8 738.1L781.1 738.5L780.4 738.9L779.7 739.2L779 739.4L778.2 739.5L777.4 739.6L776.7 739.6L775.9 739.5L775.1 739.4L773.4 738.9L773.2 739.5L772.8 740.2L772.4 740.8L771.9 741.4L771.3 742L770.7 742.4L770.1 742.9L769.4 743.2L768.7 743.5L768 743.7L767.2 743.9L766.5 744L757 744.6L750.6 745.6Z" fill="#f6ea00"/>
<path d="M749.6 753.3L748.4 753.6L747.1 753.8L745.9 754L655 759.2L655 945L1445 945L1445 655.5L1293.8 660.6L1277.8 668.5L1276.4 669.1L1275 669.6L1273.5 669.9L1272 670.1L1270.5 670.1L1269 670L1267.6 669.7L1266.3 669.4L1264.3 672L1263.3 673.1L1262.3 674.2L1261.1 675.2L1259.8 676L1258.4 676.7L1257 677.2L1247.6 680.3L1246.1 680.8L1244.5 681L1242.9 681.1L1234.7 681.1L1226.5 682.5L1224.8 682.7L1223.2 682.7L1221.5 682.5L1214.6 681.3L1209.9 682.1L1205.8 684.2L1205.5 684.4L1199.2 687.5L1197.9 688L1196.5 688.5L1195.1 688.8L1193.7 689L1192.3 689L1190.9 688.9L1189.4 688.7L1188.1 688.3L1188 688.3L1187.6 688.6L1186.3 689.2L1185 689.7L1183.7 690.1L1182.4 690.4L1173 691.9L1171.5 692.1L1170 692.1L1168.6 692L1167.1 691.7L1160.8 690.2L1159.7 689.9L1159.1 690.8L1158.2 691.9L1157.2 692.9L1156.1 693.8L1154.9 694.7L1153.6 695.4L1147.3 698.5L1146 699L1144.6 699.5L1143.2 699.8L1141.7 700L1140.3 700L1138.8 699.9L1137.4 699.6L1136 699.2L1134.6 698.7L1133.3 698L1132.1 697.3L1130.9 696.4L1129.9 695.4L1128.9 694.3L1128.3 693.4L1128.2 693.5L1127.1 694.5L1126 695.5L1124.8 696.3L1123.6 696.9L1122.2 697.5L1120.8 697.9L1114.6 699.5L1113.2 699.8L1111.8 700L1110.3 700L1108.9 699.9L1107.5 699.6L1106.1 699.2L1104.7 698.7L1103.4 698L1102.2 697.2L1101.1 696.3L1100 695.3L1099.1 694.2L1098.2 693.1L1097.8 692.2L1095.8 691.9L1094.4 691.6L1093.1 691.2L1091.8 690.6L1090.6 690L1089.1 689.1L1089 689.4L1088.5 690.8L1087.9 692.1L1087.2 693.4L1086.3 694.5L1085.3 695.6L1084.2 696.6L1083 697.5L1081.8 698.2L1080.5 698.9L1079.1 699.3L1077.7 699.7L1076.2 699.9L1074.7 700L1073.3 699.9L1071.8 699.7L1070.4 699.4L1069 698.9L1067.7 698.3L1066.4 697.5L1061.7 694.4L1060.5 693.5L1059.3 692.4L1058.2 691.2L1057.3 689.9L1056.5 688.5L1054.5 684.5L1051.7 681.7L1045.3 678.5L1038.6 676.2L1037.4 676.1L1035.9 677.4L1034.7 678.4L1033.3 679.2L1032 679.9L1030.5 680.4L1029 680.8L1027.5 681L1026 681.1L1024.4 681L1010.3 679.5L1009 679.3L1007.7 679L1002.3 677.4L998.1 679.5L996.8 680.1L995.4 680.5L994.1 680.9L992.7 681L991.3 681.1L989.9 681L988.5 680.8L987.2 680.5L985.9 680L979.3 677.4L973.7 676.3L972.5 677.2L971.2 678L969.9 678.7L968.4 679.2L967 679.5L961.1 680.7L961 680.9L960.2 682.1L959.3 683.3L958.2 684.4L957.1 685.3L955.9 686.2L954.6 686.9L953.2 687.5L951.8 687.9L950.4 688.2L948.9 688.4L947.4 688.4L945.9 688.3L944.5 688L942.6 687.5L942.6 687.5L941.4 688.4L940.2 689.1L939 689.7L937.6 690.2L936.3 690.6L934.9 690.8L933.5 690.9L932.1 690.9L930.7 690.7L923.3 689.5L923.1 689.5L920.5 689L920.3 689.2L918.9 689.8L912.7 692.3L911.4 692.8L910 693.1L903.9 694.3L903.6 694.4L901.6 694.7L900.3 696.4L899.3 697.5L898.1 698.6L896.9 699.5L895.6 700.3L894.2 700.9L892.7 701.4L884 703.9L882.7 704.2L881.3 704.4L879.9 704.5L875 704.5L874.9 704.5L874.9 704.5L873.5 705L872.2 705.4L870.7 705.7L869.3 705.8L867.9 705.8L866.4 705.6L865 705.3L860.5 704.1L857.6 703.6L854.8 704.1L850.3 705.3L848.8 705.6L847.2 705.8L845.5 705.8L843.9 705.6L839.7 704.8L837.9 705.3L837 705.5L835.7 706.5L834.6 707.3L833.3 708L830.4 709.4L830.3 709.7L829.6 710.9L828.8 712.1L827.9 713.2L826.9 714.2L825.8 715.1L824.6 715.9L823.3 716.6L822 717.2L820.7 717.6L819.3 717.9L817.9 718.1L816.4 718.1L815 718L813.6 717.8L812.2 717.4L804.7 715L803.4 714.5L802.1 713.8L800.8 713.1L799.7 712.2L792.3 706L791.2 705L790.4 704.1L789.1 704.3L787.6 704.5L786.2 704.5L784.7 704.3L774.3 702.7L774.5 702.9L775.6 703.9L776.6 705L777.4 706.2L778.2 707.5L778.4 708.1L779.2 708L780.7 708L782.1 708.2L783.5 708.5L784.9 709L786.3 709.6L787.5 710.3L788.7 711.1L789.8 712L790.8 713.1L791.7 714.2L792.5 715.4L793.2 716.7L793.8 718L795.1 721.7L795.5 723.2L795.8 724.6L795.9 726.1L795.9 727.6L795.7 729.1L795.4 730.6L794.9 732L794.3 733.4L793.6 734.7L792.8 735.9L789 740.8L788 741.9L787 742.9L785.8 743.8L784.6 744.6L783.3 745.2L782 745.8L780.6 746.2L779.2 746.5L777.7 746.6L776.6 746.6L776 747.2L774.9 748.1L773.7 748.9L772.4 749.6L771.1 750.1L769.7 750.5L768.3 750.8L766.9 751L757.8 751.5L752.2 752.4Z" fill="#ecd600"/>
<path d="M751.8 759.9L750 760.4L748.1 760.8L746.3 761L662 765.8L662 938L1438 938L1438 662.8L1295.5 667.5L1280.9 674.8L1278.9 675.7L1276.8 676.4L1274.6 676.8L1272.5 677.1L1270.3 677.1L1269.2 677L1268.5 677.9L1266.9 679.5L1265.2 680.9L1263.3 682.1L1261.3 683.1L1259.2 683.9L1249.8 687L1247.5 687.6L1245.2 688L1242.9 688.1L1235.3 688.1L1227.7 689.4L1225.2 689.7L1222.8 689.7L1220.3 689.4L1214.6 688.4L1212.1 688.8L1209 690.4L1208.6 690.6L1202.3 693.7L1200.4 694.6L1198.4 695.2L1196.3 695.7L1194.2 695.9L1192.1 696L1190 695.9L1189 695.7L1187.4 696.3L1185.5 696.9L1183.5 697.3L1174.1 698.8L1171.9 699.1L1169.8 699.1L1167.6 698.9L1165.5 698.5L1162.3 697.7L1161.9 698.1L1160.3 699.4L1158.6 700.6L1156.7 701.6L1150.4 704.7L1148.4 705.6L1146.4 706.2L1144.3 706.7L1142.2 706.9L1140.1 707L1137.9 706.8L1135.8 706.5L1133.8 705.9L1131.8 705.1L1129.9 704.1L1128 703L1127.6 702.7L1126.6 703.3L1124.6 704.1L1122.6 704.7L1116.4 706.3L1114.3 706.7L1112.2 707L1110.1 707L1108 706.8L1105.9 706.4L1103.8 705.8L1101.8 705.1L1100 704.1L1098.2 702.9L1096.5 701.6L1095 700.2L1093.6 698.6L1092.6 698.4L1092.2 698.2L1091.7 699L1090.2 700.6L1088.7 702L1086.9 703.3L1085.1 704.4L1083.1 705.3L1081.1 706L1079 706.6L1076.9 706.9L1074.8 707L1072.6 706.9L1070.5 706.6L1068.4 706.1L1066.4 705.4L1064.4 704.5L1062.6 703.4L1057.9 700.3L1056 698.9L1054.3 697.3L1052.7 695.6L1051.4 693.6L1050.3 691.6L1048.8 688.6L1047.6 687.4L1042.6 685L1039.1 683.8L1038.7 684.1L1036.8 685.3L1034.7 686.3L1032.6 687.1L1030.4 687.6L1028.2 688L1025.9 688.1L1023.7 688L1009.6 686.5L1007.6 686.2L1005.8 685.7L1003 684.9L1001.2 685.8L999.3 686.6L997.3 687.3L995.3 687.7L993.3 688L991.3 688.1L989.2 688L987.2 687.7L985.2 687.2L983.3 686.5L977.3 684.2L975.2 683.8L974.5 684.2L972.5 685.1L970.4 685.9L968.3 686.4L965.3 687L964.5 687.9L963 689.5L961.3 690.9L959.6 692.1L957.7 693.2L955.7 694L953.6 694.7L951.5 695.1L949.3 695.4L947.1 695.4L945 695.2L944 695L943.5 695.3L941.7 696.2L939.8 696.9L937.8 697.4L935.7 697.7L933.7 697.9L931.6 697.9L929.6 697.6L922.2 696.4L921.9 696.4L921.5 696.3L915.3 698.8L913.4 699.5L911.3 700L905.4 701.2L904.3 702.5L902.6 704L900.8 705.3L898.8 706.5L896.8 707.4L894.7 708.1L886 710.6L884 711.1L881.9 711.4L879.9 711.5L876.2 711.5L875.8 711.7L873.7 712.2L871.6 712.6L869.5 712.8L867.4 712.8L865.3 712.5L863.3 712.1L858.9 711L857.6 710.7L856.3 711L852.1 712.1L849.8 712.5L847.5 712.8L845.1 712.8L842.7 712.5L840 712L840 712.1L838.2 713.2L836.4 714.2L835.5 714.7L834.4 716.3L833 717.9L831.6 719.4L829.9 720.7L828.2 721.9L826.4 722.9L824.5 723.7L822.5 724.4L820.4 724.8L818.3 725L816.3 725.1L814.2 724.9L812.1 724.6L810.1 724.1L802.6 721.7L802.3 721.5L802.7 723.7L802.9 725.9L802.9 728L802.6 730.2L802.2 732.4L801.5 734.5L800.6 736.5L799.5 738.4L798.3 740.2L794.5 745.1L793.1 746.7L791.6 748.2L789.9 749.5L788.1 750.6L786.2 751.6L784.3 752.4L782.2 753L780.1 753.4L779.4 753.5L779 753.7L777.3 754.9L775.4 755.9L773.5 756.7L771.5 757.3L769.4 757.7L767.3 758L758.5 758.5L753.9 759.2Z" fill="#e0c400"/>
<path d="M753.9 766.6L751.6 767.2L749.1 767.7L746.7 768L669 772.4L669 931L1431 931L1431 670L1297.3 674.5L1284 681.1L1281.4 682.2L1278.6 683.1L1275.8 683.7L1272.9 684L1272.2 684.1L1271.6 684.7L1269.2 686.5L1266.8 688.1L1264.1 689.5L1261.4 690.5L1252 693.6L1249 694.4L1246 694.9L1242.9 695.1L1235.9 695.1L1228.9 696.3L1225.6 696.7L1222.4 696.7L1219.1 696.3L1214.6 695.5L1214.4 695.5L1212.2 696.7L1211.7 696.9L1205.4 700L1202.9 701.1L1200.2 702L1197.5 702.6L1194.8 702.9L1192 703L1189.9 702.8L1189.8 702.9L1187.2 703.7L1184.6 704.2L1175.2 705.7L1172.3 706L1169.5 706.1L1166.7 705.8L1164 705.3L1162.2 706.6L1159.8 707.9L1153.5 711L1150.9 712.1L1148.2 713L1145.5 713.6L1142.7 713.9L1139.9 714L1137 713.8L1134.3 713.3L1131.5 712.5L1128.9 711.5L1127.1 710.6L1127 710.7L1124.3 711.5L1118.1 713.1L1115.4 713.6L1112.6 713.9L1109.8 714L1107 713.7L1104.3 713.2L1101.6 712.5L1099 711.4L1096.5 710.2L1094.1 708.6L1092.8 707.6L1090.8 709.1L1088.4 710.6L1085.8 711.8L1083.2 712.7L1080.4 713.4L1077.6 713.9L1074.8 714L1072 713.9L1069.2 713.5L1066.4 712.8L1063.7 711.8L1061.2 710.7L1058.7 709.2L1054 706.1L1051.6 704.3L1049.3 702.2L1047.3 699.9L1045.5 697.4L1044 694.7L1043.2 693L1040 691.5L1037.5 692.7L1034.7 693.8L1031.8 694.5L1028.9 695L1025.9 695.1L1022.9 694.9L1008.8 693.4L1006.3 693.1L1003.8 692.4L1003.6 692.4L1001.8 693.2L999.2 694L996.6 694.6L993.9 695L991.2 695.1L988.5 695L985.9 694.6L983.2 693.9L980.7 693L976 691.2L975.2 691.6L972.5 692.6L969.6 693.3L969 693.4L967.8 694.6L965.6 696.5L963.2 698.1L960.7 699.5L958.1 700.6L955.4 701.5L952.6 702L949.7 702.3L946.8 702.4L945.2 702.2L944.4 702.6L941.9 703.5L939.2 704.2L936.6 704.7L933.9 704.9L931.2 704.8L928.5 704.5L922.3 703.5L917.9 705.3L915.4 706.2L912.7 706.9L909 707.6L907 709.4L904.7 711.1L902.1 712.7L899.4 713.9L896.6 714.9L887.9 717.4L885.3 718L882.6 718.4L879.9 718.5L877.3 718.5L875.3 719.1L872.6 719.6L869.8 719.8L867 719.7L864.2 719.4L861.5 718.9L857.6 717.9L853.9 718.8L850.9 719.5L847.8 719.8L844.6 719.7L841.6 719.4L840.3 720.1L840 720.5L838.2 722.7L836.3 724.6L834.1 726.4L831.8 727.9L829.4 729.2L826.9 730.3L824.3 731.1L821.6 731.7L818.8 732L816.1 732.1L813.3 731.9L810.6 731.4L809.5 731.1L809.5 731.3L808.9 734.2L808 736.9L806.9 739.6L805.5 742.1L803.8 744.5L800 749.4L798.2 751.5L796.2 753.4L794 755.2L791.6 756.7L789.1 758L786.5 759L783.9 759.8L782 760.2L780.9 760.9L778.4 762.2L775.9 763.3L773.2 764.1L770.5 764.6L767.8 764.9L759.3 765.5L755.5 766.1Z" fill="#d4b000"/>
<path d="M768.5 698.2L780.9 695.7L793.2 699.4L798.2 709.3L795.7 719.2L785.8 721.7L775.9 716.8L769.7 709.3Z" fill="#e8d000"/>
<path d="M773.4 700.7L782.1 698.2L792 701.9L794.5 709.3L793.2 716.8L785.8 718L777.1 714.3L773.4 708.1Z" fill="#d4b000"/>
<path d="M892.5 660L902.5 653.8L912.5 657.5L915 665L902.5 670L895 666.2Z" fill="#f2ea00"/>
<path d="M877.5 663.8L883.8 663L886.2 668.8L878.8 669.5Z" fill="#f2ea00"/>
<path d="M817.5 673L824.5 672L825 680L818.8 680.5Z" fill="#f2ea00"/>
<path d="M840 670L845 670L845.5 674L840.5 674Z" fill="#f2ea00"/>
<path d="M795 680L802.5 678.8L803.8 687.5L796.2 687.5Z" fill="#f2ea00"/>
<path d="M1250 641.8L1253.8 641L1255.5 645L1251.2 645.5Z" fill="#f2ea00"/>
<path d="M1256.2 655.5L1267.5 653L1268.8 661.8L1257.5 661.8Z" fill="#f2ea00"/>
<path d="M1110.9 672.4L1117.1 671.6L1118.7 677.1L1114 680.3L1110.1 677.1Z" fill="#8b1a1a"/>
<path d="M834.8 779.6L841 775.3L846.5 777.7L848.4 772.2L855.8 774L860.1 775.9L860.1 782.1L863.2 787L869.3 789.5L874.3 793.2L879.2 798.1L886.6 799.3L889.7 801.8L890.9 809.2L892.1 816.6L894.6 828.9L898.3 842.5L889.1 843.7L881.7 841.9L873 838.2L864.4 834.5L858.2 829.5L854.5 819.7L850.8 812.3L850.8 801.2L844.7 795L839.7 787.6Z" fill="#006400"/>
<path d="M878 799.3L886.6 799.9L890 808L891.9 819.1L894.4 830.1L897.1 841.9L891.5 836.3L889.1 828.9L885.4 822.7L880.4 820.3L874.3 821.5L873 819.1L875.5 814.1L878 809.2L880.4 804.3Z" fill="#58b860"/>
<path d="M836.6 779.3L841 775.9L846.5 778.4L852.1 783.9L855.8 787L860.7 791.9L864.4 796.9L861.9 799.3L858.2 794.4L853.3 790.7L848.4 789.5L843.4 785.8Z" fill="#58b860"/>
<path d="M847.1 772.8L855.8 774.3L859.7 776.3L859.7 782.1L863.2 787L869.3 789.5L874.3 793.2L878 799.3L880.4 804.3L878 809.2L875.5 814.1L873 819.1L869.3 824L866.9 821.5L863.2 819.1L861.9 811.7L861.9 803L864.4 796.9L860.7 791.9L855.8 787L852.1 784.5L848.4 780.8Z" fill="#90e898"/>
<path d="M879.4 794.6L882.3 793.8L884.1 796.2L882.9 799.1L880 798.7Z" fill="#90e898"/>
<path d="M864.6 811.7L867.3 811.4L867.6 819.1L865 818.8Z" fill="#d4b000"/>
<path d="M1218.6 815L1221.1 809.9L1227.9 801.3L1238.2 803L1239.9 808.2L1245 809.9L1251.8 808.2L1255.2 811.6L1259.4 813.3L1262.9 825.2L1262.9 842.2L1259.4 852.5L1253.5 861L1241.6 864.4L1235.6 857.6L1229.6 846.5L1224.5 842.2L1222.8 835.4L1220.3 825.2Z" fill="#006400"/>
<path d="M1221.1 821.8L1226.2 832L1233 835.4L1238.2 828.6L1241.6 820.1L1250.1 816.7L1255.2 811.6L1258.9 815L1258.9 821.8L1250.1 828.6L1243.3 835.4L1238.2 842.2L1231.3 842.2L1224.5 835.4Z" fill="#2f8f35"/>
<path d="M1221.1 809.9L1227.9 801.3L1238.2 803L1239.9 808.2L1245 809.9L1251.8 808.2L1255.2 811.6L1250.1 816.7L1241.6 820.1L1238.2 828.6L1233 835.4L1226.2 832L1221.1 821.8L1218.6 815Z" fill="#90e898"/>
<path d="M1229.6 803L1235.6 803.9L1236.4 809.9L1231.3 810.7Z" fill="#58b860"/>
<path d="M1220.3 786L1228.8 786.3L1228.8 794.5L1220.6 794.2Z" fill="#90e898"/>
<path d="M1232.2 774.9L1234.4 774.9L1234.4 777.8L1232.2 777.8Z" fill="#90e898"/>
<path d="M1247.5 794.5L1251.4 794.9L1252.1 800L1248 799.6Z" fill="#2f8f35"/>
<path d="M1209.7 797.9L1213.4 798.3L1213.8 805.1L1210.2 804.7Z" fill="#2f8f35"/>
<path d="M962 559.5L964 559.5L964 561.5L962 561.5ZM877.2 568L879.2 568L879.2 571.8L877.2 571.8ZM809.6 606.5L812.6 606.5L812.6 609.5L809.6 609.5ZM934.9 563L936.4 563L936.4 565.5L934.9 565.5ZM781 633.9L782.9 633.9L782.9 635.5L781 635.5ZM980.7 560.7L982.9 560.7L982.9 564.2L980.7 564.2ZM1056.6 520.8L1058.1 520.8L1058.1 522.4L1056.6 522.4ZM1112.9 526.8L1114.6 526.8L1114.6 528.6L1112.9 528.6ZM1104.6 523.3L1108.2 523.3L1108.2 525.8L1104.6 525.8ZM805.7 603.8L807.7 603.8L807.7 605.7L805.7 605.7ZM811.8 608.4L815.4 608.4L815.4 610.6L811.8 610.6ZM803.7 604.2L807.2 604.2L807.2 605.6L803.7 605.6ZM1043.9 545.2L1046.4 545.2L1046.4 548L1043.9 548ZM1004.7 558.2L1007 558.2L1007 561.9L1004.7 561.9ZM876.2 568.7L879.8 568.7L879.8 571.1L876.2 571.1ZM1057.5 534.4L1060.6 534.4L1060.6 536.7L1057.5 536.7ZM1056.7 534.5L1058.5 534.5L1058.5 537.2L1056.7 537.2ZM889.4 573.3L892.6 573.3L892.6 575.3L889.4 575.3ZM798.6 624.6L801.8 624.6L801.8 627.1L798.6 627.1ZM804.1 619.7L806.2 619.7L806.2 622.7L804.1 622.7ZM1057.4 519.8L1060.8 519.8L1060.8 522L1057.4 522ZM1072 526.2L1075 526.2L1075 529.8L1072 529.8ZM1063.7 524.5L1066.3 524.5L1066.3 526.5L1063.7 526.5ZM1027.8 558.6L1030.1 558.6L1030.1 562.3L1027.8 562.3ZM1156.7 544.2L1159.3 544.2L1159.3 545.9L1156.7 545.9ZM1202.7 531.5L1206.5 531.5L1206.5 533.9L1202.7 533.9ZM926.1 563.9L927.9 563.9L927.9 567.4L926.1 567.4ZM1164.8 545.4L1168.5 545.4L1168.5 547.7L1164.8 547.7ZM1168.5 545.5L1171.8 545.5L1171.8 548.7L1168.5 548.7ZM845.5 590.2L847.5 590.2L847.5 592.9L845.5 592.9ZM790.8 627.4L792.5 627.4L792.5 630.3L790.8 630.3ZM1056.2 535.4L1059.3 535.4L1059.3 537.7L1056.2 537.7ZM1104.6 523.9L1107.5 523.9L1107.5 527.7L1104.6 527.7ZM816.8 607.2L820.2 607.2L820.2 610.8L816.8 610.8ZM844.3 590.3L847.7 590.3L847.7 593.4L844.3 593.4ZM869.7 574.7L872.9 574.7L872.9 577.8L869.7 577.8ZM973.1 562.6L975.5 562.6L975.5 566.1L973.1 566.1ZM795.8 623.2L799 623.2L799 624.6L795.8 624.6ZM825.2 604.8L827.2 604.8L827.2 606.6L825.2 606.6ZM804.5 602.7L808.1 602.7L808.1 605.2L804.5 605.2ZM1114.8 528.9L1116.7 528.9L1116.7 530.5L1114.8 530.5ZM1100.1 523L1103.6 523L1103.6 526.1L1100.1 526.1ZM979.6 560.7L982.8 560.7L982.8 564L979.6 564ZM1196.3 534.9L1199.5 534.9L1199.5 536.5L1196.3 536.5ZM822.6 602.5L826 602.5L826 604.2L822.6 604.2ZM862.8 584.1L865 584.1L865 587.4L862.8 587.4ZM890.6 572.8L892.8 572.8L892.8 575L890.6 575ZM1176.7 544.8L1178.5 544.8L1178.5 548.4L1176.7 548.4ZM1148.2 541.5L1150.2 541.5L1150.2 544L1148.2 544ZM1058.6 525.8L1062.1 525.8L1062.1 527.3L1058.6 527.3ZM1166.8 544L1169.7 544L1169.7 547.1L1166.8 547.1ZM845.5 586.5L849 586.5L849 589.9L845.5 589.9ZM857.2 588.7L859.4 588.7L859.4 591.2L857.2 591.2ZM953.3 563L954.8 563L954.8 565.9L953.3 565.9ZM973 562.2L975.3 562.2L975.3 565L973 565ZM847.2 586.8L849.9 586.8L849.9 588.9L847.2 588.9ZM1099.8 521.7L1103.4 521.7L1103.4 523.5L1099.8 523.5ZM939.8 561.8L943.1 561.8L943.1 563.8L939.8 563.8ZM876.5 568.3L878.2 568.3L878.2 570.6L876.5 570.6ZM805.8 604L808.2 604L808.2 607.2L805.8 607.2ZM1002.4 560.8L1004 560.8L1004 562.7L1002.4 562.7ZM832.4 595.3L834.5 595.3L834.5 598.6L832.4 598.6ZM1114.4 528.9L1116.9 528.9L1116.9 532.5L1114.4 532.5ZM830.7 597.7L833.8 597.7L833.8 600.6L830.7 600.6ZM844.7 593.5L847.9 593.5L847.9 595L844.7 595ZM1172.2 545.9L1174.1 545.9L1174.1 547.8L1172.2 547.8ZM1117.7 529.2L1121.1 529.2L1121.1 532.7L1117.7 532.7ZM1090.8 521.5L1093.2 521.5L1093.2 524.2L1090.8 524.2ZM958.8 556L962.3 556L962.3 559L958.8 559ZM863.3 580L865.8 580L865.8 581.7L863.3 581.7ZM801.4 622.5L804.6 622.5L804.6 625.3L801.4 625.3ZM816.8 604.8L819.7 604.8L819.7 607.8L816.8 607.8ZM976.9 560.4L978.6 560.4L978.6 563.8L976.9 563.8ZM1138.6 543.2L1141.9 543.2L1141.9 545.2L1138.6 545.2ZM1174.3 542.8L1177.7 542.8L1177.7 546.3L1174.3 546.3ZM1065.5 522.7L1067.9 522.7L1067.9 526.2L1065.5 526.2ZM1065.6 523.3L1067.4 523.3L1067.4 525.8L1065.6 525.8ZM870 573.3L873.3 573.3L873.3 575.6L870 575.6ZM944.7 563.9L947.8 563.9L947.8 566.6L944.7 566.6ZM968.3 561.2L971.1 561.2L971.1 562.9L968.3 562.9ZM1027.2 557.3L1030 557.3L1030 560L1027.2 560ZM1206.5 532.4L1209.9 532.4L1209.9 534.5L1206.5 534.5ZM1056.5 533.6L1059.9 533.6L1059.9 536.7L1056.5 536.7ZM1098.9 523.8L1100.5 523.8L1100.5 525.5L1098.9 525.5ZM828.3 601.2L830.4 601.2L830.4 604L828.3 604ZM935.7 561.7L939.2 561.7L939.2 564.6L935.7 564.6ZM902.8 573L904.7 573L904.7 576.7L902.8 576.7ZM980.6 560.1L982.2 560.1L982.2 562.2L980.6 562.2ZM968 562.6L970.4 562.6L970.4 566.5L968 566.5ZM1019.1 560.8L1022.4 560.8L1022.4 562.6L1019.1 562.6ZM1165.4 544.7L1167.1 544.7L1167.1 546.5L1165.4 546.5ZM1108.3 522.4L1112 522.4L1112 525.9L1108.3 525.9ZM885.4 568.9L887.1 568.9L887.1 570.5L885.4 570.5ZM1084 526L1086.1 526L1086.1 529.5L1084 529.5ZM1084.4 523.9L1087.6 523.9L1087.6 526.3L1084.4 526.3ZM862.3 580.7L865.8 580.7L865.8 583.2L862.3 583.2ZM975.5 562.1L979.3 562.1L979.3 565.5L975.5 565.5ZM967.4 561.5L971 561.5L971 564.4L967.4 564.4ZM832.4 598.1L835 598.1L835 601.9L832.4 601.9ZM1122.2 537.9L1124.6 537.9L1124.6 539.9L1122.2 539.9ZM879.9 566.8L882.9 566.8L882.9 570.5L879.9 570.5ZM1031.3 556L1034 556L1034 557.9L1031.3 557.9ZM799.5 622.3L802 622.3L802 623.7L799.5 623.7ZM915 568.4L917.9 568.4L917.9 570.7L915 570.7ZM1188.7 542L1190.2 542L1190.2 544L1188.7 544ZM1040.7 543.9L1044 543.9L1044 547.5L1040.7 547.5ZM824.3 601.6L827.9 601.6L827.9 603.5L824.3 603.5ZM837.6 594.3L840.9 594.3L840.9 596.6L837.6 596.6ZM794 624.4L795.7 624.4L795.7 626.8L794 626.8ZM1111.4 526.4L1114.8 526.4L1114.8 528.1L1111.4 528.1ZM1094.8 522.9L1098.2 522.9L1098.2 526.2L1094.8 526.2ZM815.3 606.1L817.8 606.1L817.8 609.4L815.3 609.4ZM808.3 603.3L811.5 603.3L811.5 606.5L808.3 606.5ZM1051 541.3L1054 541.3L1054 544.7L1051 544.7ZM808.9 604.4L812 604.4L812 607.3L808.9 607.3ZM804.9 604.5L806.4 604.5L806.4 606.9L804.9 606.9ZM1008.7 559.5L1010.8 559.5L1010.8 562.4L1008.7 562.4ZM1054.7 537.9L1057.3 537.9L1057.3 541.6L1054.7 541.6ZM957.9 558.1L960.3 558.1L960.3 561.3L957.9 561.3ZM878 568.1L881.2 568.1L881.2 569.7L878 569.7ZM905.6 570.7L907.9 570.7L907.9 574L905.6 574ZM888.9 571.7L891.8 571.7L891.8 574L888.9 574ZM1101.7 521.7L1104.5 521.7L1104.5 524.7L1101.7 524.7ZM958.7 559.3L962.4 559.3L962.4 562.5L958.7 562.5ZM803.9 606L805.3 606L805.3 608.3L803.9 608.3ZM863.2 582.7L865.1 582.7L865.1 585.4L863.2 585.4ZM1139.4 542L1141.8 542L1141.8 543.9L1139.4 543.9ZM1179.5 543.2L1182.6 543.2L1182.6 545.2L1179.5 545.2ZM859 587.7L862.4 587.7L862.4 591.1L859 591.1ZM882.7 568.1L886.1 568.1L886.1 571.7L882.7 571.7ZM998.5 558.4L1002.2 558.4L1002.2 562.1L998.5 562.1ZM979.8 560.7L982.5 560.7L982.5 563.9L979.8 563.9ZM987 561.6L989.3 561.6L989.3 563.7L987 563.7ZM1106.4 523.7L1109.8 523.7L1109.8 526.8L1106.4 526.8ZM1105.6 522.1L1108.6 522.1L1108.6 525.2L1105.6 525.2ZM1058.5 520.6L1061.3 520.6L1061.3 523.7L1058.5 523.7ZM1066.2 525.9L1067.8 525.9L1067.8 527.5L1066.2 527.5ZM953.5 559.8L956.7 559.8L956.7 562L953.5 562ZM1174.7 542.6L1177.3 542.6L1177.3 545.7L1174.7 545.7ZM1160.3 545.9L1163.8 545.9L1163.8 547.8L1160.3 547.8ZM848 589.7L849.9 589.7L849.9 592.5L848 592.5ZM1198.4 536.4L1200.5 536.4L1200.5 538L1198.4 538ZM860.2 584.6L862.5 584.6L862.5 587.1L860.2 587.1ZM985.1 562.9L987.4 562.9L987.4 565.3L985.1 565.3ZM892 573L893.8 573L893.8 575.7L892 575.7ZM985.3 561.5L988 561.5L988 565.2L985.3 565.2ZM1068.1 526.6L1071.9 526.6L1071.9 528.1L1068.1 528.1ZM1133.4 543.5L1137 543.5L1137 545.3L1133.4 545.3ZM866.1 576.9L869.2 576.9L869.2 578.5L866.1 578.5ZM792.2 627.3L795.4 627.3L795.4 629.6L792.2 629.6ZM804.8 602.5L808.1 602.5L808.1 604.8L804.8 604.8ZM1087.2 522.4L1090.2 522.4L1090.2 525.2L1087.2 525.2ZM941.2 564.7L944.5 564.7L944.5 567.1L941.2 567.1ZM802.6 605.4L805.8 605.4L805.8 607L802.6 607ZM1100.3 524L1103.3 524L1103.3 526.4L1100.3 526.4ZM961 560.3L963.1 560.3L963.1 562.6L961 562.6ZM846.8 590.9L850.2 590.9L850.2 592.9L846.8 592.9ZM1097.8 523.7L1099.9 523.7L1099.9 525.9L1097.8 525.9ZM873.7 570.5L876.2 570.5L876.2 574L873.7 574ZM926.9 565.2L930.6 565.2L930.6 567.8L926.9 567.8ZM843.4 593.4L847.1 593.4L847.1 595.8L843.4 595.8ZM1145.7 542.3L1149.4 542.3L1149.4 545.8L1145.7 545.8ZM814.3 605.7L816.8 605.7L816.8 609.5L814.3 609.5ZM1193.4 537.6L1195.5 537.6L1195.5 539.5L1193.4 539.5ZM883.2 566.8L885.5 566.8L885.5 569.7L883.2 569.7ZM1015.4 561.7L1018.4 561.7L1018.4 563.2L1015.4 563.2ZM1083.2 526L1086.8 526L1086.8 528L1083.2 528ZM1137 541.2L1139.8 541.2L1139.8 543.4L1137 543.4ZM1178.6 542.2L1180.1 542.2L1180.1 545.5L1178.6 545.5ZM1128.2 542.3L1131.5 542.3L1131.5 545.5L1128.2 545.5ZM962.9 560L966.7 560L966.7 562.3L962.9 562.3ZM950.3 565.2L952.4 565.2L952.4 567.5L950.3 567.5ZM889.5 575.4L893.2 575.4L893.2 577.8L889.5 577.8ZM1100.4 521.4L1102.9 521.4L1102.9 524L1100.4 524ZM1190.9 539.7L1194.4 539.7L1194.4 542.9L1190.9 542.9ZM948.4 562.5L950.2 562.5L950.2 566.2L948.4 566.2ZM821.7 605.6L824.8 605.6L824.8 607L821.7 607ZM934.6 563.2L936.6 563.2L936.6 565.3L934.6 565.3ZM960.8 561.3L963.2 561.3L963.2 562.9L960.8 562.9ZM852.9 586.9L856.6 586.9L856.6 589.9L852.9 589.9ZM1054.5 538.7L1056.5 538.7L1056.5 542L1054.5 542ZM825.1 602.1L826.8 602.1L826.8 605.5L825.1 605.5ZM1136.3 542.5L1138.8 542.5L1138.8 545.9L1136.3 545.9ZM808.4 605.3L811.5 605.3L811.5 607.8L808.4 607.8ZM824.8 605.3L826.8 605.3L826.8 607L824.8 607ZM953.9 562.6L955.7 562.6L955.7 565.7L953.9 565.7ZM1001 560.7L1003.4 560.7L1003.4 563L1001 563ZM1062.2 520.2L1063.7 520.2L1063.7 522.2L1062.2 522.2ZM1057.6 527.4L1059.4 527.4L1059.4 529.7L1057.6 529.7ZM1006 561.2L1009.7 561.2L1009.7 564L1006 564ZM1040.8 547.8L1043.6 547.8L1043.6 551L1040.8 551ZM801.4 622.4L803.2 622.4L803.2 624.5L801.4 624.5ZM1117.9 530.5L1121.6 530.5L1121.6 534L1117.9 534ZM911.1 567.3L914.6 567.3L914.6 569.4L911.1 569.4ZM806.2 605L808.1 605L808.1 606.9L806.2 606.9ZM878.4 569.4L881.1 569.4L881.1 572.8L878.4 572.8ZM1065.3 524.7L1066.8 524.7L1066.8 526.4L1065.3 526.4ZM1048 542L1051.3 542L1051.3 544.4L1048 544.4ZM918.8 568.3L922.1 568.3L922.1 570.5L918.8 570.5ZM823.5 601.8L826.2 601.8L826.2 604.7L823.5 604.7ZM851.9 590.1L854.9 590.1L854.9 591.6L851.9 591.6ZM923.6 565.3L926.9 565.3L926.9 567L923.6 567ZM886.5 571.3L889.7 571.3L889.7 574.6L886.5 574.6ZM949.7 565.9L952.6 565.9L952.6 569.5L949.7 569.5ZM1117.2 529.4L1118.7 529.4L1118.7 531.7L1117.2 531.7ZM1103.9 524.2L1107.2 524.2L1107.2 525.9L1103.9 525.9ZM1148.4 541.7L1151.8 541.7L1151.8 545.4L1148.4 545.4ZM886.3 572.1L888.8 572.1L888.8 573.6L886.3 573.6ZM988 562.2L991.6 562.2L991.6 564.3L988 564.3ZM1018.3 561L1019.9 561L1019.9 563L1018.3 563ZM1156 545.5L1159.2 545.5L1159.2 549L1156 549ZM1137.9 540.7L1140.1 540.7L1140.1 544L1137.9 544ZM1162.1 546.3L1165 546.3L1165 548.5L1162.1 548.5ZM867.7 575.4L870.9 575.4L870.9 577.5L867.7 577.5ZM793.1 626.2L796 626.2L796 629.3L793.1 629.3ZM931.9 564.9L935.3 564.9L935.3 567.3L931.9 567.3ZM1003.6 561.6L1006.5 561.6L1006.5 563.2L1003.6 563.2ZM790 627.8L793.2 627.8L793.2 630.4L790 630.4Z" fill="#b3b3b3"/>
<path d="M1019.7 556.6L1023.5 556.6L1023.5 560.2L1019.7 560.2ZM803.9 613.4L805.5 613.4L805.5 616.7L803.9 616.7ZM914.1 566.2L916.3 566.2L916.3 569.2L914.1 569.2ZM933.4 560.4L935.9 560.4L935.9 562.6L933.4 562.6ZM1146.3 538.9L1148.7 538.9L1148.7 541.4L1146.3 541.4ZM995.7 557.8L997.2 557.8L997.2 561L995.7 561ZM840.2 590L842 590L842 593.1L840.2 593.1ZM1071.7 525L1074.7 525L1074.7 527.6L1071.7 527.6ZM787.4 624.8L791.1 624.8L791.1 628.4L787.4 628.4ZM1125.1 534.5L1128.2 534.5L1128.2 537.8L1125.1 537.8ZM1150.5 537.3L1154.2 537.3L1154.2 540.9L1150.5 540.9ZM897.8 569.5L900.5 569.5L900.5 572.6L897.8 572.6ZM904.8 565.8L906.9 565.8L906.9 569.2L904.8 569.2ZM1112.9 521.7L1115 521.7L1115 524.7L1112.9 524.7ZM799.4 619.4L801 619.4L801 621.2L799.4 621.2ZM816 603.4L818.3 603.4L818.3 605.9L816 605.9ZM950.7 563.7L952.9 563.7L952.9 565.2L950.7 565.2ZM1056.2 531.2L1059.4 531.2L1059.4 535L1056.2 535ZM1094.4 520.2L1098.2 520.2L1098.2 523.8L1094.4 523.8ZM801.4 619.4L804 619.4L804 621.5L801.4 621.5ZM1033.6 546.3L1036.9 546.3L1036.9 549.8L1033.6 549.8ZM1073 524.2L1076.2 524.2L1076.2 526.6L1073 526.6ZM865.3 573L867.3 573L867.3 576.3L865.3 576.3ZM804.1 601.3L806 601.3L806 603.1L804.1 603.1ZM952.8 556.1L954.7 556.1L954.7 558.8L952.8 558.8ZM812.5 602.3L815.4 602.3L815.4 605.5L812.5 605.5ZM819.3 604.4L821.4 604.4L821.4 607.1L819.3 607.1ZM1199.2 531.1L1201.2 531.1L1201.2 534.3L1199.2 534.3ZM787.3 625L790.9 625L790.9 627.6L787.3 627.6ZM848.6 591.8L850.4 591.8L850.4 594.3L848.6 594.3ZM1130.5 538.4L1133.5 538.4L1133.5 540.1L1130.5 540.1ZM1054.4 534.9L1057.9 534.9L1057.9 536.4L1054.4 536.4ZM1179.4 538.9L1180.9 538.9L1180.9 540.3L1179.4 540.3ZM873.8 567.6L877.1 567.6L877.1 570.3L873.8 570.3ZM1056.7 518L1059.6 518L1059.6 521L1056.7 521ZM951.2 558.6L952.9 558.6L952.9 561.8L951.2 561.8ZM1160.4 541L1163.6 541L1163.6 543.9L1160.4 543.9ZM781.8 631.1L785 631.1L785 633.8L781.8 633.8ZM1010 556.7L1012.8 556.7L1012.8 560.3L1010 560.3ZM826 599.7L828.2 599.7L828.2 601.5L826 601.5ZM830.3 596L833.6 596L833.6 597.9L830.3 597.9ZM1114.3 521.5L1116.3 521.5L1116.3 524.5L1114.3 524.5ZM779.5 632.4L781.3 632.4L781.3 634.4L779.5 634.4ZM1148 536.5L1151.2 536.5L1151.2 540.2L1148 540.2ZM1019.7 557.8L1023.2 557.8L1023.2 560.9L1019.7 560.9ZM1067.7 519.6L1069.4 519.6L1069.4 522.1L1067.7 522.1ZM1168.7 541.6L1170.4 541.6L1170.4 544L1168.7 544ZM839.2 590.6L842.1 590.6L842.1 593L839.2 593ZM1100.9 518.8L1102.5 518.8L1102.5 521.2L1100.9 521.2ZM1067.1 521.1L1070.6 521.1L1070.6 524.6L1067.1 524.6ZM1057.9 518.9L1059.7 518.9L1059.7 522.3L1057.9 522.3ZM837.5 592.7L840.7 592.7L840.7 595.7L837.5 595.7ZM1188.8 534.6L1192.1 534.6L1192.1 537.1L1188.8 537.1ZM883.2 564.5L885.2 564.5L885.2 567.9L883.2 567.9ZM1054.4 517.7L1056.3 517.7L1056.3 520.1L1054.4 520.1ZM888.6 569L891.4 569L891.4 572.2L888.6 572.2ZM1203.9 526.6L1206.3 526.6L1206.3 530L1203.9 530ZM856.3 584.7L858.1 584.7L858.1 588.5L856.3 588.5ZM1142.4 537.8L1145.2 537.8L1145.2 539.6L1142.4 539.6ZM784.7 630.4L787.8 630.4L787.8 633.1L784.7 633.1ZM898 572.5L900.8 572.5L900.8 574.6L898 574.6ZM786.4 631.3L788.1 631.3L788.1 634L786.4 634ZM1134.4 539.5L1138.2 539.5L1138.2 543.3L1134.4 543.3ZM1064.5 519.3L1068 519.3L1068 522.5L1064.5 522.5ZM786.8 624.4L789.8 624.4L789.8 627.5L786.8 627.5ZM802.8 607.5L805.3 607.5L805.3 609.8L802.8 609.8ZM808.4 602.8L812.1 602.8L812.1 605.9L808.4 605.9ZM778.9 632.1L781.1 632.1L781.1 634.7L778.9 634.7ZM877.7 563.2L881.1 563.2L881.1 566.7L877.7 566.7ZM815.2 601L818.7 601L818.7 604.7L815.2 604.7ZM873.2 566L876.6 566L876.6 567.6L873.2 567.6ZM828.3 596.1L830.8 596.1L830.8 599L828.3 599ZM1180.5 539.6L1182.3 539.6L1182.3 542.6L1180.5 542.6ZM1117.3 526.1L1120.6 526.1L1120.6 528L1117.3 528ZM959.6 554.2L961.7 554.2L961.7 556.6L959.6 556.6ZM939 558.8L942.1 558.8L942.1 562.5L939 562.5ZM1180.2 539L1182.2 539L1182.2 541.4L1180.2 541.4ZM1090.9 518.1L1094.6 518.1L1094.6 521.2L1090.9 521.2ZM1168.1 543.2L1171.3 543.2L1171.3 545.2L1168.1 545.2ZM1168.8 541.6L1170.3 541.6L1170.3 543.7L1168.8 543.7ZM875.5 565L878.2 565L878.2 568.1L875.5 568.1ZM842.4 592.3L844.4 592.3L844.4 593.7L842.4 593.7ZM864.8 573L867.9 573L867.9 576.7L864.8 576.7ZM804.6 615.8L807.1 615.8L807.1 618.7L804.6 618.7ZM1055.9 529.7L1059.7 529.7L1059.7 533.3L1055.9 533.3ZM1002.4 557.5L1005.7 557.5L1005.7 561.3L1002.4 561.3ZM802.5 617.7L805.5 617.7L805.5 621.3L802.5 621.3ZM891.7 571.2L894.4 571.2L894.4 575.1L891.7 575.1ZM964 555.5L966.3 555.5L966.3 558.3L964 558.3ZM1054.5 525.8L1056.6 525.8L1056.6 527.7L1054.5 527.7ZM983.9 559.9L986.1 559.9L986.1 562.5L983.9 562.5ZM1169.2 541.3L1170.8 541.3L1170.8 543L1169.2 543ZM969.3 559.8L971.2 559.8L971.2 561.3L969.3 561.3ZM1102.9 517.9L1105.9 517.9L1105.9 521.6L1102.9 521.6ZM1164.9 540.3L1167.7 540.3L1167.7 543.6L1164.9 543.6ZM795 621.2L797.9 621.2L797.9 622.9L795 622.9ZM802.7 615.7L805.4 615.7L805.4 618.6L802.7 618.6ZM826.9 597.7L829.2 597.7L829.2 601.3L826.9 601.3ZM871.3 568.2L873.9 568.2L873.9 570.2L871.3 570.2ZM1032.3 549.5L1034.2 549.5L1034.2 552.9L1032.3 552.9ZM1156.1 543L1159.8 543L1159.8 545.8L1156.1 545.8ZM978.7 558.1L982.1 558.1L982.1 561.6L978.7 561.6ZM1053.1 534.8L1054.9 534.8L1054.9 537.1L1053.1 537.1ZM795.1 622.3L797.4 622.3L797.4 624L795.1 624ZM1069.4 523.6L1070.9 523.6L1070.9 527.3L1069.4 527.3ZM811.7 605.2L813.2 605.2L813.2 607.3L811.7 607.3ZM906.7 567L909.4 567L909.4 570.8L906.7 570.8ZM1033.2 549.6L1036.6 549.6L1036.6 552.1L1033.2 552.1ZM1058.5 519L1061.8 519L1061.8 520.6L1058.5 520.6ZM1074 523.5L1077.8 523.5L1077.8 526.7L1074 526.7ZM1171.7 540.1L1173.3 540.1L1173.3 543.2L1171.7 543.2ZM840.1 590.7L843.5 590.7L843.5 594L840.1 594ZM983.8 556.4L987 556.4L987 559.7L983.8 559.7ZM859.3 581.2L863 581.2L863 585L859.3 585ZM924.7 563.5L928.4 563.5L928.4 565.3L924.7 565.3ZM1094.9 518.6L1098.2 518.6L1098.2 520.4L1094.9 520.4ZM858.6 584.5L860.6 584.5L860.6 587.4L858.6 587.4ZM851.9 585.8L855.4 585.8L855.4 588.9L851.9 588.9ZM816 603.5L818.4 603.5L818.4 606.3L816 606.3ZM880.1 566L883.7 566L883.7 567.7L880.1 567.7ZM1067.2 519.7L1068.8 519.7L1068.8 521.8L1067.2 521.8ZM1109.3 521.4L1110.8 521.4L1110.8 524L1109.3 524ZM832.1 594.7L835.2 594.7L835.2 597.4L832.1 597.4ZM984 558.3L987.1 558.3L987.1 560.1L984 560.1ZM780.3 630L782.8 630L782.8 633.5L780.3 633.5ZM930.9 559.1L934.4 559.1L934.4 562.6L930.9 562.6ZM893.6 572.4L895.3 572.4L895.3 576.1L893.6 576.1ZM805.2 611L806.7 611L806.7 614.5L805.2 614.5ZM1159.2 541.8L1161.3 541.8L1161.3 543.6L1159.2 543.6ZM964.2 557.5L967.2 557.5L967.2 560.4L964.2 560.4ZM811.7 601.5L814.6 601.5L814.6 604.7L811.7 604.7ZM898.8 572.9L901.1 572.9L901.1 574.4L898.8 574.4ZM965.3 557.7L967.4 557.7L967.4 561.5L965.3 561.5ZM996.9 557.8L998.6 557.8L998.6 560L996.9 560ZM1131.3 540.5L1133.4 540.5L1133.4 542L1131.3 542ZM1196.2 532.4L1198.1 532.4L1198.1 535.6L1196.2 535.6ZM1104.1 519.3L1105.7 519.3L1105.7 522.5L1104.1 522.5ZM1171.9 542.2L1174 542.2L1174 544.8L1171.9 544.8ZM957.4 555.2L959.4 555.2L959.4 557.3L957.4 557.3ZM869 569.4L870.5 569.4L870.5 571.6L869 571.6ZM1054.3 524.5L1057.4 524.5L1057.4 527.3L1054.3 527.3ZM943.7 560.6L945.7 560.6L945.7 563.9L943.7 563.9ZM840.1 591.9L842.2 591.9L842.2 594.7L840.1 594.7ZM1022.1 556.8L1025 556.8L1025 560L1022.1 560ZM804.3 601.9L806.1 601.9L806.1 605L804.3 605ZM857.7 585.6L859.2 585.6L859.2 587.8L857.7 587.8ZM1128.6 536.7L1131.2 536.7L1131.2 539.9L1128.6 539.9ZM1084.3 523.2L1085.8 523.2L1085.8 525.2L1084.3 525.2ZM840 592.7L841.8 592.7L841.8 595.6L840 595.6ZM953.4 556.8L955.4 556.8L955.4 559.7L953.4 559.7ZM1054.8 518.6L1056.7 518.6L1056.7 521.9L1054.8 521.9ZM1173.4 541.1L1175.6 541.1L1175.6 544.1L1173.4 544.1ZM826.5 596.4L829.1 596.4L829.1 598.9L826.5 598.9ZM868.8 572.2L870.9 572.2L870.9 574.6L868.8 574.6ZM839.3 590.6L842.2 590.6L842.2 592.3L839.3 592.3ZM1079.2 523.4L1082.4 523.4L1082.4 526.1L1079.2 526.1ZM820.7 605.7L823.6 605.7L823.6 608.2L820.7 608.2ZM994 557L996.2 557L996.2 560.6L994 560.6ZM1196.6 532.7L1199.6 532.7L1199.6 535.8L1196.6 535.8ZM1071.5 524.3L1073.5 524.3L1073.5 526.7L1071.5 526.7ZM971 558.1L972.5 558.1L972.5 561.8L971 561.8ZM908.6 567.3L910.7 567.3L910.7 571L908.6 571ZM950 562.1L953 562.1L953 563.8L950 563.8ZM1182.1 538L1185.5 538L1185.5 540.5L1182.1 540.5ZM850.5 586.7L852 586.7L852 588.4L850.5 588.4ZM872 568.9L874.4 568.9L874.4 571.2L872 571.2ZM986.1 559.5L989.3 559.5L989.3 562.8L986.1 562.8ZM918.3 565.5L921.1 565.5L921.1 567.4L918.3 567.4ZM802 614.2L805.3 614.2L805.3 616L802 616ZM1075.1 523.7L1078.9 523.7L1078.9 527.3L1075.1 527.3ZM893.6 571L896.7 571L896.7 574.7L893.6 574.7ZM1169.5 541.4L1170.9 541.4L1170.9 543L1169.5 543ZM825.7 595.5L829.3 595.5L829.3 598.8L825.7 598.8ZM930.7 559.3L934.3 559.3L934.3 561.9L930.7 561.9ZM901.9 569.4L903.8 569.4L903.8 572.8L901.9 572.8ZM1130.9 540.6L1134.3 540.6L1134.3 544.4L1130.9 544.4ZM1048.8 539.4L1051.9 539.4L1051.9 542.1L1048.8 542.1ZM1066.8 520.2L1070.1 520.2L1070.1 522.3L1066.8 522.3ZM1195.3 532.9L1197 532.9L1197 535.9L1195.3 535.9ZM1020.8 556.7L1022.8 556.7L1022.8 559.1L1020.8 559.1ZM1133.1 539.9L1135 539.9L1135 541.4L1133.1 541.4ZM905.4 566.1L908 566.1L908 568.6L905.4 568.6ZM847 587.2L849.8 587.2L849.8 590.3L847 590.3ZM1161 541.6L1164.6 541.6L1164.6 544.1L1161 544.1ZM827.6 596.3L829.6 596.3L829.6 599.8L827.6 599.8ZM780.7 631.4L783.5 631.4L783.5 633.4L780.7 633.4ZM1134.3 538.3L1138 538.3L1138 541.4L1134.3 541.4ZM1134.9 540.8L1136.5 540.8L1136.5 544.2L1134.9 544.2ZM857.6 584.5L859.4 584.5L859.4 588L857.6 588ZM1049.7 537.3L1052.9 537.3L1052.9 540.5L1049.7 540.5ZM1117.2 524L1119.6 524L1119.6 526.4L1117.2 526.4ZM934.2 561.2L936.3 561.2L936.3 564.2L934.2 564.2ZM779.4 632.2L781.3 632.2L781.3 634.1L779.4 634.1ZM821.3 600.5L825 600.5L825 602.1L821.3 602.1ZM1006.2 555.6L1009.8 555.6L1009.8 558.8L1006.2 558.8ZM1186.3 538.5L1190 538.5L1190 541.2L1186.3 541.2ZM1077.4 522.9L1079.2 522.9L1079.2 526L1077.4 526ZM1197.2 531.5L1199.7 531.5L1199.7 534.6L1197.2 534.6ZM793.7 622.6L796.5 622.6L796.5 626.2L793.7 626.2ZM1162 542.1L1164.1 542.1L1164.1 544.4L1162 544.4ZM854.3 583.6L857.2 583.6L857.2 586.7L854.3 586.7ZM1014.7 558.3L1016.2 558.3L1016.2 561.3L1014.7 561.3Z" fill="#8b1a1a"/>
<path d="M771.7 686.4L773.4 686.4L773.4 689.3L771.7 689.3ZM773.2 729.9L775.9 729.9L775.9 732.3L773.2 732.3ZM1197.3 671.6L1199.4 671.6L1199.4 673.4L1197.3 673.4ZM756.3 685.2L759.1 685.2L759.1 687.9L756.3 687.9ZM915.2 671.1L917 671.1L917 673.6L915.2 673.6ZM768.9 686.2L771.6 686.2L771.6 689L768.9 689ZM964.3 663.7L966.6 663.7L966.6 665.9L964.3 665.9ZM1075.9 680.2L1079 680.2L1079 682.9L1075.9 682.9ZM937.9 671.9L940.3 671.9L940.3 674.6L937.9 674.6ZM1188.5 670.9L1190.7 670.9L1190.7 673.8L1188.5 673.8ZM1031.4 661.8L1034.1 661.8L1034.1 664.3L1031.4 664.3ZM1269.5 653.4L1271.7 653.4L1271.7 656.8L1269.5 656.8ZM823.3 677.5L825.1 677.5L825.1 679.8L823.3 679.8ZM1149.6 677.4L1151.9 677.4L1151.9 680.5L1149.6 680.5ZM806.7 699.1L809.6 699.1L809.6 702.4L806.7 702.4ZM1094.3 677.1L1097 677.1L1097 679.5L1094.3 679.5ZM1197.7 672.8L1199.8 672.8L1199.8 674.4L1197.7 674.4ZM751.4 736.4L753.3 736.4L753.3 738.9L751.4 738.9ZM1121.3 670.3L1124.7 670.3L1124.7 671.7L1121.3 671.7ZM960.6 664.3L963.3 664.3L963.3 666.7L960.6 666.7ZM820.8 675.3L824.1 675.3L824.1 678.2L820.8 678.2ZM1258.3 654.8L1259.8 654.8L1259.8 657.6L1258.3 657.6ZM752.6 703.4L755.3 703.4L755.3 705.2L752.6 705.2ZM814.2 703.6L815.8 703.6L815.8 705.7L814.2 705.7ZM779.9 725.2L783.4 725.2L783.4 726.5L779.9 726.5ZM922.4 675.3L925.6 675.3L925.6 678.8L922.4 678.8ZM975.1 662.8L976.6 662.8L976.6 665.1L975.1 665.1ZM871.4 687.7L874.9 687.7L874.9 689.6L871.4 689.6ZM837.7 689.6L840.6 689.6L840.6 692.7L837.7 692.7ZM1080.6 671.6L1083.7 671.6L1083.7 674.3L1080.6 674.3ZM1079.3 672.5L1082.4 672.5L1082.4 675.3L1079.3 675.3ZM1273.9 654.2L1276.2 654.2L1276.2 657.6L1273.9 657.6ZM890.1 685.6L891.5 685.6L891.5 688.1L890.1 688.1ZM766.8 717.4L768.3 717.4L768.3 719.8L766.8 719.8ZM869 682.7L872.3 682.7L872.3 685.7L869 685.7ZM1057.2 668.3L1058.9 668.3L1058.9 670.4L1057.2 670.4ZM755.5 735.3L757.4 735.3L757.4 737.9L755.5 737.9ZM1216.8 667.1L1220 667.1L1220 670L1216.8 670ZM857.9 688.2L860.4 688.2L860.4 690.3L857.9 690.3ZM821 671.7L824.3 671.7L824.3 673.6L821 673.6ZM757.9 710.7L760 710.7L760 713.8L757.9 713.8ZM823 696L826.5 696L826.5 697.7L823 697.7ZM869.9 684.7L872.1 684.7L872.1 686.8L869.9 686.8ZM775.7 688L777.7 688L777.7 691.3L775.7 691.3ZM1114.2 672L1117.2 672L1117.2 675.5L1114.2 675.5ZM1278.4 651.9L1280.9 651.9L1280.9 653.6L1278.4 653.6ZM1039.3 660.3L1041.9 660.3L1041.9 663.4L1039.3 663.4ZM941.4 673.4L944 673.4L944 675L941.4 675ZM871.6 683.7L873.6 683.7L873.6 685.3L871.6 685.3ZM992.7 666L996.2 666L996.2 667.6L992.7 667.6ZM949.9 666.6L951.7 666.6L951.7 668.6L949.9 668.6ZM1085.7 673.6L1088.3 673.6L1088.3 676.8L1085.7 676.8ZM1206.7 668L1210.1 668L1210.1 670.8L1206.7 670.8ZM1273.5 654.2L1276.1 654.2L1276.1 657.5L1273.5 657.5ZM1023.2 666.7L1026.7 666.7L1026.7 668.9L1023.2 668.9ZM755.7 688.6L759.1 688.6L759.1 691.9L755.7 691.9ZM899.8 680L901.3 680L901.3 682.4L899.8 682.4ZM1114.7 673.1L1116.4 673.1L1116.4 675.5L1114.7 675.5ZM1152.2 674.5L1153.7 674.5L1153.7 677.1L1152.2 677.1ZM1204 667.3L1207.1 667.3L1207.1 669.2L1204 669.2ZM795.2 681.9L797 681.9L797 683.3L795.2 683.3ZM762.3 736L764.9 736L764.9 738.8L762.3 738.8ZM1098.6 677.3L1100.3 677.3L1100.3 679.6L1098.6 679.6ZM1026.1 666.1L1028.9 666.1L1028.9 668.5L1026.1 668.5ZM1156.9 672.1L1158.8 672.1L1158.8 673.8L1156.9 673.8ZM748.9 738.3L750.7 738.3L750.7 740.9L748.9 740.9ZM971.7 660.3L975.1 660.3L975.1 663.1L971.7 663.1ZM1115.1 677.2L1117.8 677.2L1117.8 680.4L1115.1 680.4ZM767.6 733.9L769.8 733.9L769.8 736.7L767.6 736.7ZM837.9 690.7L840.7 690.7L840.7 693L837.9 693ZM1100 678.9L1103.2 678.9L1103.2 681L1100 681ZM1097.1 676.1L1099.4 676.1L1099.4 678.3L1097.1 678.3ZM1197.8 671.7L1199.7 671.7L1199.7 673.9L1197.8 673.9ZM1213.1 666L1215.7 666L1215.7 668.7L1213.1 668.7ZM800.1 687.7L803 687.7L803 690L800.1 690ZM887.3 688.5L889.8 688.5L889.8 690.9L887.3 690.9ZM919.8 674.2L921.9 674.2L921.9 676.4L919.8 676.4ZM849.1 688.9L851.4 688.9L851.4 691.5L849.1 691.5ZM1115.3 676.2L1118.4 676.2L1118.4 678L1115.3 678ZM1133.6 676.4L1136.8 676.4L1136.8 678.7L1133.6 678.7ZM1228 666.9L1230.7 666.9L1230.7 669.9L1228 669.9ZM868.9 689.7L871.9 689.7L871.9 691.2L868.9 691.2ZM1193.5 671.7L1196.7 671.7L1196.7 674L1193.5 674ZM819.7 672.7L821.1 672.7L821.1 674.3L819.7 674.3ZM764 686.2L767 686.2L767 688L764 688ZM1016.3 665.5L1017.7 665.5L1017.7 668.5L1016.3 668.5ZM885.6 687.1L887 687.1L887 689.7L885.6 689.7ZM769.5 688.4L771.9 688.4L771.9 690.2L769.5 690.2ZM911.1 676.6L914.1 676.6L914.1 679.7L911.1 679.7ZM1043.5 662.5L1046.5 662.5L1046.5 665.2L1043.5 665.2ZM1032.7 660L1034.3 660L1034.3 661.9L1032.7 661.9ZM755.1 692.8L757.8 692.8L757.8 694.6L755.1 694.6ZM871.8 686.1L873.4 686.1L873.4 688.6L871.8 688.6ZM1000.3 660.8L1001.8 660.8L1001.8 662.2L1000.3 662.2ZM1004.2 663.3L1005.6 663.3L1005.6 665.7L1004.2 665.7ZM1076.2 679L1079.1 679L1079.1 681.3L1076.2 681.3ZM1126.5 667.8L1129.9 667.8L1129.9 671L1126.5 671ZM1136 682.6L1139.4 682.6L1139.4 685.3L1136 685.3ZM902.2 679.3L905.7 679.3L905.7 680.8L902.2 680.8ZM1127 668.2L1130.1 668.2L1130.1 669.7L1127 669.7ZM1106.7 681.3L1110.1 681.3L1110.1 682.8L1106.7 682.8ZM820.6 675.7L823.9 675.7L823.9 679.1L820.6 679.1ZM1125.4 668.6L1126.9 668.6L1126.9 671.2L1125.4 671.2ZM779.3 727.3L782.4 727.3L782.4 729.3L779.3 729.3ZM1242.7 664.9L1244.9 664.9L1244.9 667.2L1242.7 667.2ZM1238.8 665.5L1241.4 665.5L1241.4 668.7L1238.8 668.7ZM792.8 683.9L796.2 683.9L796.2 686.1L792.8 686.1ZM755.9 736.3L759.3 736.3L759.3 737.8L755.9 737.8ZM819.5 675.1L822 675.1L822 678.6L819.5 678.6ZM1135.1 676.5L1137.4 676.5L1137.4 678.6L1135.1 678.6ZM759.1 736.3L760.6 736.3L760.6 738.3L759.1 738.3ZM1031.9 660.6L1034.6 660.6L1034.6 664L1031.9 664ZM761.4 736.3L764.4 736.3L764.4 739.2L761.4 739.2ZM1278.9 650.4L1281.6 650.4L1281.6 651.9L1278.9 651.9ZM1183.2 672.3L1186.3 672.3L1186.3 674.8L1183.2 674.8ZM920.1 674.3L922.2 674.3L922.2 675.6L920.1 675.6ZM1113.8 674.5L1117.1 674.5L1117.1 677.2L1113.8 677.2ZM1172.4 678.2L1174 678.2L1174 680.3L1172.4 680.3ZM899.2 680.9L902 680.9L902 682.9L899.2 682.9ZM1000.9 662.6L1003.4 662.6L1003.4 664.1L1000.9 664.1ZM1127.7 668L1129.3 668L1129.3 670.9L1127.7 670.9ZM1215.2 668L1216.9 668L1216.9 669.5L1215.2 669.5ZM1188.4 670.9L1191.9 670.9L1191.9 673.4L1188.4 673.4ZM1275.4 652.3L1277.9 652.3L1277.9 655.6L1275.4 655.6ZM1190 671.6L1191.9 671.6L1191.9 673.2L1190 673.2ZM756.7 707.4L760 707.4L760 709.5L756.7 709.5ZM1142.6 683.5L1144.1 683.5L1144.1 685.4L1142.6 685.4ZM836.2 689L838.7 689L838.7 691.5L836.2 691.5ZM1159.5 672.6L1162 672.6L1162 675.2L1159.5 675.2ZM818.1 673.5L819.6 673.5L819.6 676.6L818.1 676.6ZM1214.2 667L1215.7 667L1215.7 670.4L1214.2 670.4ZM753 704.5L756.5 704.5L756.5 706.2L753 706.2ZM1027.5 664L1030.6 664L1030.6 667.1L1027.5 667.1ZM1074.2 680.2L1076.7 680.2L1076.7 683.2L1074.2 683.2ZM1114.4 673L1117.7 673L1117.7 674.9L1114.4 674.9ZM756.2 737.5L757.8 737.5L757.8 740.2L756.2 740.2ZM954.3 666L956.7 666L956.7 668L954.3 668ZM1280.4 650.6L1282.5 650.6L1282.5 652L1280.4 652ZM1000 661.4L1001.4 661.4L1001.4 664.8L1000 664.8ZM1167.6 677.6L1169.9 677.6L1169.9 680.7L1167.6 680.7ZM1117.1 680.1L1118.5 680.1L1118.5 683.3L1117.1 683.3ZM998.8 660.6L1001.7 660.6L1001.7 662.8L998.8 662.8ZM1188.4 670.7L1191.4 670.7L1191.4 672.9L1188.4 672.9ZM1022.3 666.6L1025 666.6L1025 669.6L1022.3 669.6ZM762.2 736.3L765.7 736.3L765.7 739.2L762.2 739.2ZM790.7 686.6L792.3 686.6L792.3 689.3L790.7 689.3ZM781.2 723.2L784 723.2L784 725.1L781.2 725.1ZM769.4 686.4L771.3 686.4L771.3 689.5L769.4 689.5ZM1267.3 655.5L1268.9 655.5L1268.9 657.9L1267.3 657.9ZM820.5 670.8L823.5 670.8L823.5 672.2L820.5 672.2ZM1102.9 678.9L1106.3 678.9L1106.3 682.4L1102.9 682.4ZM1152.1 674.9L1154.3 674.9L1154.3 676.9L1152.1 676.9ZM891 685.5L892.6 685.5L892.6 687.6L891 687.6ZM1101.7 678.5L1104.5 678.5L1104.5 682L1101.7 682ZM1075.8 676.6L1078.5 676.6L1078.5 678.1L1075.8 678.1ZM755.3 706.6L757.7 706.6L757.7 709.4L755.3 709.4ZM793.9 679.4L795.4 679.4L795.4 682.4L793.9 682.4ZM918.8 672.6L921.9 672.6L921.9 675.5L918.8 675.5ZM1219.3 667.7L1221 667.7L1221 671L1219.3 671ZM773.3 731.9L775.2 731.9L775.2 733.2L773.3 733.2ZM1205.4 666.8L1208.8 666.8L1208.8 670.1L1205.4 670.1ZM1195.2 673.2L1197.2 673.2L1197.2 676.4L1195.2 676.4ZM892.4 683.6L893.8 683.6L893.8 686.3L892.4 686.3ZM950 669.1L951.8 669.1L951.8 672L950 672ZM850.5 690.9L852.9 690.9L852.9 693.1L850.5 693.1ZM1181.5 671.9L1184.3 671.9L1184.3 674.6L1181.5 674.6ZM1008.8 664L1011.8 664L1011.8 666.9L1008.8 666.9ZM765.4 732.7L768.9 732.7L768.9 735.5L765.4 735.5ZM945.6 673.1L948.3 673.1L948.3 676.4L945.6 676.4ZM1224.9 667.4L1226.7 667.4L1226.7 668.8L1224.9 668.8ZM909.3 676.9L910.9 676.9L910.9 678.6L909.3 678.6ZM851.3 688.8L853.7 688.8L853.7 690.8L851.3 690.8ZM1107.2 681.4L1109.1 681.4L1109.1 683.5L1107.2 683.5ZM966.1 659.8L969 659.8L969 662L966.1 662ZM1134.3 674.3L1137.3 674.3L1137.3 676.8L1134.3 676.8ZM952.8 666.4L956.1 666.4L956.1 669.7L952.8 669.7ZM780.9 727L783.7 727L783.7 729.7L780.9 729.7ZM812.5 701.8L815.3 701.8L815.3 704.4L812.5 704.4ZM934 674.4L937.3 674.4L937.3 676.3L934 676.3ZM798.7 684.6L801.7 684.6L801.7 687.2L798.7 687.2ZM1021.1 664.9L1024.2 664.9L1024.2 667.1L1021.1 667.1ZM941.5 671.5L945 671.5L945 674.9L941.5 674.9ZM1212.2 667.6L1215.3 667.6L1215.3 669L1212.2 669ZM826 685.2L829.4 685.2L829.4 686.8L826 686.8ZM748.1 738.7L749.7 738.7L749.7 741.6L748.1 741.6ZM1180.7 673.8L1182.9 673.8L1182.9 676.2L1180.7 676.2ZM1075.4 681L1077.1 681L1077.1 682.4L1075.4 682.4ZM801.2 682.2L803.5 682.2L803.5 684L801.2 684ZM839.5 691L841.2 691L841.2 692.4L839.5 692.4ZM1197.8 672.3L1199.7 672.3L1199.7 674.3L1197.8 674.3ZM1183.3 670.9L1185.1 670.9L1185.1 672.4L1183.3 672.4ZM1006.9 662.7L1009.9 662.7L1009.9 665.1L1006.9 665.1ZM1018.2 664.4L1021.5 664.4L1021.5 667.6L1018.2 667.6ZM775.6 720.9L777.8 720.9L777.8 722.6L775.6 722.6Z" fill="#8b1a1a"/>
<path d="M1035.9 659.1L1038.6 659.1L1038.6 661.7L1035.9 661.7ZM824.6 691.2L826.7 691.2L826.7 694L824.6 694ZM1219.5 664L1221.2 664L1221.2 666.6L1219.5 666.6ZM1054.6 665.4L1057.1 665.4L1057.1 667.7L1054.6 667.7ZM1248.5 660.6L1250 660.6L1250 663.8L1248.5 663.8ZM1199 668.3L1200.9 668.3L1200.9 671.1L1199 671.1ZM1245.1 662L1247.4 662L1247.4 664.8L1245.1 664.8ZM809.3 699.3L810.9 699.3L810.9 701.7L809.3 701.7ZM813.9 701L816.1 701L816.1 702.6L813.9 702.6ZM752.9 692.6L755.2 692.6L755.2 694.6L752.9 694.6ZM1110.8 683.5L1112.6 683.5L1112.6 685.2L1110.8 685.2ZM1063.4 670L1065 670L1065 671.7L1063.4 671.7ZM1138.8 680.9L1142 680.9L1142 684.4L1138.8 684.4ZM1229 665.6L1230.3 665.6L1230.3 667.5L1229 667.5ZM1168.3 674.2L1171.3 674.2L1171.3 677.2L1168.3 677.2ZM1190.1 667.4L1191.8 667.4L1191.8 670.8L1190.1 670.8ZM766.3 685.4L768.9 685.4L768.9 687.8L766.3 687.8ZM1224.8 666.4L1226.6 666.4L1226.6 668L1224.8 668ZM1232.1 665.3L1235.5 665.3L1235.5 666.8L1232.1 666.8ZM775.6 683.8L777.3 683.8L777.3 687.3L775.6 687.3ZM937.4 669.6L940.9 669.6L940.9 671.4L937.4 671.4ZM945.8 671.4L947.4 671.4L947.4 674.2L945.8 674.2ZM851.5 688.4L854.4 688.4L854.4 689.9L851.5 689.9ZM1177.3 674.1L1179.6 674.1L1179.6 676.4L1177.3 676.4ZM817.2 668.2L820.4 668.2L820.4 671.4L817.2 671.4ZM1205.2 664.5L1208.2 664.5L1208.2 667.9L1205.2 667.9ZM803.5 692.3L805.2 692.3L805.2 694.1L803.5 694.1ZM1107.7 677.5L1110.3 677.5L1110.3 679.2L1107.7 679.2ZM911.4 671.7L912.9 671.7L912.9 674.2L911.4 674.2ZM846.8 686.8L849 686.8L849 689.7L846.8 689.7ZM823.7 674.3L826.9 674.3L826.9 676.8L823.7 676.8ZM1253.5 656.9L1256.7 656.9L1256.7 658.6L1253.5 658.6ZM1131.1 666.2L1133.5 666.2L1133.5 668.3L1131.1 668.3ZM865.9 687.4L868.1 687.4L868.1 689.6L865.9 689.6ZM996.2 659.3L999.7 659.3L999.7 662.6L996.2 662.6ZM802.3 684.5L805.3 684.5L805.3 686.7L802.3 686.7ZM1157.4 667.9L1160.7 667.9L1160.7 671.2L1157.4 671.2ZM802.9 683L805.7 683L805.7 685.3L802.9 685.3ZM1111.6 673.8L1115.1 673.8L1115.1 676L1111.6 676ZM752 706.3L754.5 706.3L754.5 708L752 708ZM1129.8 667.5L1132.8 667.5L1132.8 669.3L1129.8 669.3ZM1170.7 675L1172.8 675L1172.8 677.7L1170.7 677.7ZM1089.4 670.2L1090.9 670.2L1090.9 673.5L1089.4 673.5ZM897.7 677.6L900.3 677.6L900.3 680.6L897.7 680.6ZM1163.7 672.1L1166.7 672.1L1166.7 675.5L1163.7 675.5ZM932.1 674L933.7 674L933.7 677.2L932.1 677.2ZM820.2 678.9L821.8 678.9L821.8 682.3L820.2 682.3ZM946.5 664.3L949.5 664.3L949.5 666.8L946.5 666.8ZM1110.5 681.3L1113.3 681.3L1113.3 682.9L1110.5 682.9ZM790.5 685.4L792.3 685.4L792.3 687.5L790.5 687.5ZM1286.4 643.9L1289.3 643.9L1289.3 646.7L1286.4 646.7ZM815.7 701.2L817.2 701.2L817.2 704.6L815.7 704.6ZM772.6 727.2L775.5 727.2L775.5 729.8L772.6 729.8ZM1133.5 669L1135.7 669L1135.7 672.5L1133.5 672.5ZM1115.3 682.2L1117.8 682.2L1117.8 684.5L1115.3 684.5ZM893.6 679.4L896.3 679.4L896.3 681.2L893.6 681.2ZM1158.3 668.2L1161.3 668.2L1161.3 670.7L1158.3 670.7ZM828 690.3L829.9 690.3L829.9 692L828 692ZM1283.5 645.9L1285 645.9L1285 648.7L1283.5 648.7ZM1270.6 652.4L1272.4 652.4L1272.4 655L1270.6 655ZM841.1 688.1L843.7 688.1L843.7 691.6L841.1 691.6ZM873.6 684.7L876.4 684.7L876.4 687.3L873.6 687.3ZM1194.2 670.9L1196.9 670.9L1196.9 673.4L1194.2 673.4ZM1032.9 659.9L1034.6 659.9L1034.6 661.5L1032.9 661.5ZM1241.8 663.4L1244.5 663.4L1244.5 666.9L1241.8 666.9ZM1056.5 666.1L1058.6 666.1L1058.6 667.7L1056.5 667.7ZM1135.5 670.5L1138.2 670.5L1138.2 673.2L1135.5 673.2ZM878.4 686.2L880.5 686.2L880.5 687.8L878.4 687.8ZM744.7 736.7L747.6 736.7L747.6 738.4L744.7 738.4ZM1265.8 651.6L1269 651.6L1269 653.5L1265.8 653.5ZM762.7 683.2L765.1 683.2L765.1 685.3L762.7 685.3ZM971.8 658.7L973.3 658.7L973.3 661.7L971.8 661.7ZM1252.7 657.7L1255.3 657.7L1255.3 660.2L1252.7 660.2ZM963.9 660.7L965.8 660.7L965.8 664.1L963.9 664.1ZM934.9 669.6L937.7 669.6L937.7 672.5L934.9 672.5ZM777.3 722.7L779.3 722.7L779.3 725.5L777.3 725.5ZM1110 682.1L1111.4 682.1L1111.4 684.4L1110 684.4ZM814.9 696.9L818.1 696.9L818.1 699.9L814.9 699.9ZM910.6 673.4L912.2 673.4L912.2 676L910.6 676ZM798.8 676L801.4 676L801.4 678.5L798.8 678.5ZM952 662.3L953.6 662.3L953.6 664.8L952 664.8ZM775.3 724.5L777.3 724.5L777.3 727.9L775.3 727.9ZM790.2 683.7L792.4 683.7L792.4 685.7L790.2 685.7ZM763.8 720L766.1 720L766.1 723L763.8 723ZM875.4 687.3L878.6 687.3L878.6 689.3L875.4 689.3ZM817.1 672.6L818.7 672.6L818.7 676.1L817.1 676.1ZM1241.8 662.2L1243.6 662.2L1243.6 665L1241.8 665ZM831.8 687.7L833.3 687.7L833.3 690L831.8 690ZM991.4 663.6L993.5 663.6L993.5 666L991.4 666ZM1041.3 658.9L1043.7 658.9L1043.7 661L1041.3 661ZM1258 651.9L1259.5 651.9L1259.5 655.3L1258 655.3ZM1202.3 664.7L1204.7 664.7L1204.7 667.9L1202.3 667.9ZM1023.8 662.4L1025.6 662.4L1025.6 665.6L1023.8 665.6ZM777.4 686.2L780.5 686.2L780.5 688L777.4 688ZM1020.5 662.6L1022.2 662.6L1022.2 665.1L1020.5 665.1ZM1136.6 674.6L1138.4 674.6L1138.4 677.5L1136.6 677.5ZM1110 679.1L1112.8 679.1L1112.8 681.5L1110 681.5ZM944.9 669.2L946.6 669.2L946.6 671.7L944.9 671.7ZM1144.2 679.5L1146.1 679.5L1146.1 682.7L1144.2 682.7ZM963.2 658.2L965.9 658.2L965.9 661.1L963.2 661.1ZM1199.6 666.6L1201.6 666.6L1201.6 669L1199.6 669ZM1013.9 662.3L1017.1 662.3L1017.1 664.5L1013.9 664.5ZM860.9 684.8L863.2 684.8L863.2 688.3L860.9 688.3ZM1136.1 675.9L1139.2 675.9L1139.2 677.5L1136.1 677.5ZM814.8 700.5L817.6 700.5L817.6 702.6L814.8 702.6ZM1144.2 680.8L1146.9 680.8L1146.9 683.1L1144.2 683.1ZM774.6 728.5L776.5 728.5L776.5 729.8L774.6 729.8ZM1077.1 671.9L1080.3 671.9L1080.3 674.6L1077.1 674.6ZM765.1 731.3L766.7 731.3L766.7 733.4L765.1 733.4ZM1285.6 644.1L1286.9 644.1L1286.9 646.3L1285.6 646.3ZM875.4 687.1L878.6 687.1L878.6 690.1L875.4 690.1ZM790.3 679L793.7 679L793.7 682.3L790.3 682.3ZM848.4 688.1L850.3 688.1L850.3 691L848.4 691ZM1112.9 674.8L1114.3 674.8L1114.3 678.3L1112.9 678.3ZM1224.1 666.3L1225.9 666.3L1225.9 668.7L1224.1 668.7ZM1039.5 657.9L1042.1 657.9L1042.1 660.8L1039.5 660.8ZM806.6 697.3L808.7 697.3L808.7 699.3L806.6 699.3ZM910.3 670.4L912.4 670.4L912.4 673.6L910.3 673.6ZM1074.8 678.1L1076.4 678.1L1076.4 680.2L1074.8 680.2ZM1103.9 676.8L1106.9 676.8L1106.9 679.6L1103.9 679.6ZM932.2 672.2L935.5 672.2L935.5 675.7L932.2 675.7ZM1102.7 674.7L1105.5 674.7L1105.5 676.5L1102.7 676.5ZM1166.4 674.9L1168.8 674.9L1168.8 677L1166.4 677ZM750.2 706L753.5 706L753.5 707.7L750.2 707.7ZM901.7 676.8L903.4 676.8L903.4 680.1L901.7 680.1ZM1009.1 663.4L1012.3 663.4L1012.3 665L1009.1 665ZM1046.8 659L1048.4 659L1048.4 662.4L1046.8 662.4ZM1270.9 651.1L1273.8 651.1L1273.8 653.8L1270.9 653.8ZM959.9 661.7L961.3 661.7L961.3 664.8L959.9 664.8ZM1266.3 651.1L1268.7 651.1L1268.7 653.7L1266.3 653.7ZM1084.7 669.7L1086.1 669.7L1086.1 672.7L1084.7 672.7ZM1094.4 672.2L1097.3 672.2L1097.3 675.3L1094.4 675.3ZM1137 674L1138.9 674L1138.9 676.6L1137 676.6ZM1201 666.7L1203.9 666.7L1203.9 669.1L1201 669.1ZM1250.5 660.3L1252.9 660.3L1252.9 662.3L1250.5 662.3ZM1174.8 675.4L1176.7 675.4L1176.7 676.8L1174.8 676.8ZM873.7 683.9L876.4 683.9L876.4 687.4L873.7 687.4ZM971.6 658.1L974.8 658.1L974.8 660.2L971.6 660.2ZM1211.7 664L1213.9 664L1213.9 667L1211.7 667ZM819.7 678.5L822.1 678.5L822.1 681.5L819.7 681.5ZM1058.2 666.9L1059.8 666.9L1059.8 669.1L1058.2 669.1ZM751.2 735.7L752.8 735.7L752.8 738.5L751.2 738.5ZM1190.8 671.6L1194.3 671.6L1194.3 674.3L1190.8 674.3ZM1218.5 665.1L1221.3 665.1L1221.3 667.4L1218.5 667.4ZM859.4 687.7L862.8 687.7L862.8 689.8L859.4 689.8ZM804.5 695L807.1 695L807.1 696.5L804.5 696.5ZM1006.2 660.1L1008.6 660.1L1008.6 662.4L1006.2 662.4ZM791 684.6L793 684.6L793 686L791 686ZM1022.7 662.1L1025.5 662.1L1025.5 665.3L1022.7 665.3ZM859.1 685.8L860.9 685.8L860.9 689.2L859.1 689.2ZM911.2 672.6L913.8 672.6L913.8 675.4L911.2 675.4ZM858.3 684.7L861.2 684.7L861.2 687.9L858.3 687.9ZM918.9 670.2L920.3 670.2L920.3 673.4L918.9 673.4ZM788.7 684.9L791.2 684.9L791.2 687.7L788.7 687.7ZM829.8 684.5L831.7 684.5L831.7 686.5L829.8 686.5ZM862.4 687.8L863.8 687.8L863.8 690.8L862.4 690.8ZM1276.2 649.5L1278.3 649.5L1278.3 652.5L1276.2 652.5ZM867.4 688.2L869.6 688.2L869.6 691.3L867.4 691.3ZM827.3 690.2L830.6 690.2L830.6 692.8L827.3 692.8ZM1230.8 664.5L1232.1 664.5L1232.1 665.9L1230.8 665.9ZM946.5 670.6L948.2 670.6L948.2 674L946.5 674ZM1263.7 650.5L1266.9 650.5L1266.9 654L1263.7 654ZM1049.6 661.8L1051.1 661.8L1051.1 663.9L1049.6 663.9ZM1228.4 664.6L1230.1 664.6L1230.1 667.5L1228.4 667.5ZM816.2 698.2L819.6 698.2L819.6 701.7L816.2 701.7ZM864.8 688.3L867.2 688.3L867.2 690.4L864.8 690.4ZM760.8 733L763.1 733L763.1 735.4L760.8 735.4ZM1241.8 663.4L1243.5 663.4L1243.5 664.8L1241.8 664.8ZM823.8 670.1L826.4 670.1L826.4 672.2L823.8 672.2ZM1238.8 663.8L1241.1 663.8L1241.1 666.1L1238.8 666.1ZM1113.7 678.2L1115.1 678.2L1115.1 681.2L1113.7 681.2ZM1065.6 673.5L1068.9 673.5L1068.9 675.3L1065.6 675.3ZM1238.3 664L1241 664L1241 666.4L1238.3 666.4ZM823.5 669.5L825.9 669.5L825.9 673L823.5 673ZM987 661.4L990.3 661.4L990.3 664.4L987 664.4ZM867.3 688.2L868.9 688.2L868.9 691.5L867.3 691.5ZM824.9 685.7L827.1 685.7L827.1 687.6L824.9 687.6ZM1188.1 667.1L1191.1 667.1L1191.1 669.8L1188.1 669.8ZM774.5 728.9L777.6 728.9L777.6 731.6L774.5 731.6ZM859.3 686.2L862.2 686.2L862.2 688.7L859.3 688.7ZM803.2 679L804.6 679L804.6 680.5L803.2 680.5ZM1240.6 663.1L1243.9 663.1L1243.9 665L1240.6 665ZM866.9 684.9L870.4 684.9L870.4 687.3L866.9 687.3ZM1114.1 679.9L1117.3 679.9L1117.3 682.4L1114.1 682.4ZM1075.6 673.7L1078 673.7L1078 675.4L1075.6 675.4ZM1204.4 664.7L1206.8 664.7L1206.8 667.8L1204.4 667.8Z" fill="#f2ea00"/>
<path d="M641.8 254.6L645.7 254.6L645.7 256.5L641.8 256.5ZM649.9 254.5L652.9 254.5L652.9 258.2L649.9 258.2ZM610.8 258L614.6 258L614.6 261.9L610.8 261.9ZM669.9 269.6L672.2 269.6L672.2 272.4L669.9 272.4ZM676.2 275.3L679.6 275.3L679.6 277.6L676.2 277.6ZM673.9 272.7L676.5 272.7L676.5 276.4L673.9 276.4ZM656 257.1L657.7 257.1L657.7 259.8L656 259.8ZM575.9 241.3L579.7 241.3L579.7 244.3L575.9 244.3ZM677.6 274.3L679.7 274.3L679.7 276.9L677.6 276.9ZM680.3 275.1L682.8 275.1L682.8 277.9L680.3 277.9ZM632.9 257.7L636.3 257.7L636.3 260.1L632.9 260.1ZM699.2 288.7L702.1 288.7L702.1 292.8L699.2 292.8ZM627.7 259.9L629.8 259.9L629.8 262.4L627.7 262.4ZM746.3 324.8L748.8 324.8L748.8 327.2L746.3 327.2ZM591 256.9L594.9 256.9L594.9 260.2L591 260.2ZM670.7 274.2L674.6 274.2L674.6 275.8L670.7 275.8ZM658.5 259.2L662.3 259.2L662.3 261.5L658.5 261.5ZM569.5 236.6L573.1 236.6L573.1 239.6L569.5 239.6ZM731.4 312.9L734.9 312.9L734.9 316.6L731.4 316.6ZM719 304.1L722 304.1L722 306.9L719 306.9ZM604.8 258.4L608.1 258.4L608.1 261.3L604.8 261.3ZM706.5 295.6L710.5 295.6L710.5 297.4L706.5 297.4ZM623.8 255.5L627.1 255.5L627.1 257.8L623.8 257.8ZM747.7 326.4L750.1 326.4L750.1 328.9L747.7 328.9ZM624.9 258.4L627.7 258.4L627.7 261.7L624.9 261.7ZM668.1 268.9L671.5 268.9L671.5 272.2L668.1 272.2ZM748.9 330.9L752.6 330.9L752.6 334.4L748.9 334.4ZM747.5 328.7L751.5 328.7L751.5 331.3L747.5 331.3ZM734.8 315.2L738.5 315.2L738.5 317.4L734.8 317.4ZM700.2 288.1L703.9 288.1L703.9 290.8L700.2 290.8ZM742.5 321L744.9 321L744.9 323.2L742.5 323.2ZM711.6 294.5L713.9 294.5L713.9 298L711.6 298ZM749.5 332.8L753 332.8L753 335L749.5 335ZM662.5 260.4L664.3 260.4L664.3 262.1L662.5 262.1ZM750.9 335.7L752.5 335.7L752.5 337.9L750.9 337.9ZM750.5 336.8L754.3 336.8L754.3 338.8L750.5 338.8ZM744.7 322L747.7 322L747.7 323.7L744.7 323.7ZM593.4 257.9L597.2 257.9L597.2 260.3L593.4 260.3ZM607.5 260.7L610.6 260.7L610.6 262.5L607.5 262.5ZM751.2 333.9L753.5 333.9L753.5 336.7L751.2 336.7ZM640.6 252.4L643.2 252.4L643.2 254.9L640.6 254.9ZM602 260.1L604.9 260.1L604.9 262.1L602 262.1ZM609.7 259.6L613.3 259.6L613.3 261.8L609.7 261.8ZM732.9 314.7L736.3 314.7L736.3 318.5L732.9 318.5ZM658.5 260.4L661.2 260.4L661.2 263.8L658.5 263.8ZM597.1 256.5L599.9 256.5L599.9 259.6L597.1 259.6ZM574.1 238.4L576.7 238.4L576.7 241.8L574.1 241.8ZM717 300.9L720.9 300.9L720.9 302.9L717 302.9ZM579.7 245L582.1 245L582.1 247.9L579.7 247.9ZM750.4 331.4L752.8 331.4L752.8 333.4L750.4 333.4ZM670.7 267.7L673 267.7L673 271.8L670.7 271.8ZM666.2 265.7L669.6 265.7L669.6 269.4L666.2 269.4ZM583.1 254L586.2 254L586.2 256L583.1 256ZM744.6 322.8L747.8 322.8L747.8 326L744.6 326ZM570.7 236.8L574 236.8L574 239.2L570.7 239.2ZM733.3 311.3L735.1 311.3L735.1 314.8L733.3 314.8ZM612.5 254.1L616.5 254.1L616.5 257.6L612.5 257.6ZM578.1 246.8L582.1 246.8L582.1 249.6L578.1 249.6ZM729.8 310.5L732.4 310.5L732.4 314.2L729.8 314.2ZM599.5 259.3L603.3 259.3L603.3 262L599.5 262ZM593.3 255.8L595.9 255.8L595.9 258.2L593.3 258.2ZM680.8 274.6L684.6 274.6L684.6 277.3L680.8 277.3ZM679.5 275.3L681.5 275.3L681.5 278.3L679.5 278.3ZM617.4 251.9L619.8 251.9L619.8 256L617.4 256ZM591.9 256.9L594.9 256.9L594.9 258.8L591.9 258.8ZM581 247.8L584.1 247.8L584.1 249.9L581 249.9ZM583.6 253.7L585.5 253.7L585.5 256.1L583.6 256.1ZM576.1 243.1L580.2 243.1L580.2 246L576.1 246ZM675.1 273.7L679 273.7L679 276.9L675.1 276.9ZM610.6 258.9L612.2 258.9L612.2 260.8L610.6 260.8ZM618.3 253.3L622.5 253.3L622.5 257.2L618.3 257.2ZM723.1 306.6L725.8 306.6L725.8 308.6L723.1 308.6ZM657.1 259.4L660.4 259.4L660.4 262.9L657.1 262.9ZM710.1 293.1L712.5 293.1L712.5 296.4L710.1 296.4ZM572.5 238L575.2 238L575.2 240.1L572.5 240.1ZM743.9 319.3L746.1 319.3L746.1 323.2L743.9 323.2ZM578.6 245.2L582 245.2L582 248.7L578.6 248.7ZM732.6 314.5L734.3 314.5L734.3 318.5L732.6 318.5ZM649.5 254.8L651.4 254.8L651.4 257.3L649.5 257.3ZM727.5 309.2L729.4 309.2L729.4 312.1L727.5 312.1ZM728.1 309.3L730.3 309.3L730.3 311.4L728.1 311.4ZM683.7 277.3L687 277.3L687 280.5L683.7 280.5ZM625.2 256.9L629.1 256.9L629.1 260.7L625.2 260.7ZM587 256.4L589.9 256.4L589.9 258.1L587 258.1ZM722.4 305.9L725.3 305.9L725.3 307.7L722.4 307.7ZM590.6 258.6L593.2 258.6L593.2 260.2L590.6 260.2ZM711.5 297.9L715.1 297.9L715.1 299.9L711.5 299.9ZM708.4 295.9L712.4 295.9L712.4 298.4L708.4 298.4ZM695.2 285.4L697.4 285.4L697.4 287.5L695.2 287.5ZM579.3 245.9L580.9 245.9L580.9 247.5L579.3 247.5ZM638.3 256.8L641.4 256.8L641.4 260L638.3 260ZM632.8 259.9L636.4 259.9L636.4 262.5L632.8 262.5ZM741.2 320.5L745.2 320.5L745.2 324.5L741.2 324.5ZM737.6 317.9L740.4 317.9L740.4 322.1L737.6 322.1ZM621.1 252.9L622.7 252.9L622.7 257L621.1 257ZM592.9 255.7L596.1 255.7L596.1 259.3L592.9 259.3ZM726.1 310.2L730.1 310.2L730.1 311.8L726.1 311.8ZM715.6 299.2L717.5 299.2L717.5 302.2L715.6 302.2ZM575.2 243.1L578.6 243.1L578.6 245.5L575.2 245.5ZM686 278.4L689.7 278.4L689.7 280.7L686 280.7Z" fill="#b3b3b3"/>
<path d="M750.5 331.1L753.9 331.1L753.9 334.6L750.5 334.6ZM608.1 253.5L611.2 253.5L611.2 255.3L608.1 255.3ZM583.5 247.1L587.3 247.1L587.3 248.7L583.5 248.7ZM611 252L612.8 252L612.8 255L611 255ZM602.5 256L606 256L606 259.4L602.5 259.4ZM616.1 250.6L619.2 250.6L619.2 254.7L616.1 254.7ZM689.6 276.8L691.8 276.8L691.8 279.1L689.6 279.1ZM594.4 255.5L596.6 255.5L596.6 257.4L594.4 257.4ZM745.4 317.1L749 317.1L749 320.4L745.4 320.4ZM583.1 248.4L587.3 248.4L587.3 252.5L583.1 252.5ZM725.7 303.1L728.8 303.1L728.8 307L725.7 307ZM694 276.1L695.7 276.1L695.7 280L694 280ZM692.3 276.7L695 276.7L695 279L692.3 279ZM735.1 311.1L738.6 311.1L738.6 314.6L735.1 314.6ZM631.5 257L634.5 257L634.5 259.6L631.5 259.6ZM683.8 273.8L687.4 273.8L687.4 276.5L683.8 276.5ZM666.9 259L669.3 259L669.3 261.2L666.9 261.2ZM588.9 251L592.9 251L592.9 253.9L588.9 253.9ZM616.9 249.6L619.5 249.6L619.5 253.2L616.9 253.2ZM746 321.7L749.6 321.7L749.6 323.4L746 323.4ZM624.1 250.7L627.7 250.7L627.7 253.6L624.1 253.6ZM642.1 248.8L644 248.8L644 252.1L642.1 252.1ZM629.6 257.8L633 257.8L633 260L629.6 260ZM656.5 253.8L658.9 253.8L658.9 257.1L656.5 257.1ZM586 249.9L587.9 249.9L587.9 253.2L586 253.2ZM577.2 237L580.7 237L580.7 239.7L577.2 239.7ZM622.1 249.3L624.4 249.3L624.4 253.2L622.1 253.2ZM698.6 281L700.2 281L700.2 283.8L698.6 283.8ZM674.4 271.4L676 271.4L676 273.6L674.4 273.6ZM699.1 282.7L701.4 282.7L701.4 286.8L699.1 286.8ZM609 254L611.1 254L611.1 257.8L609 257.8ZM671.9 269.9L675.5 269.9L675.5 273.1L671.9 273.1ZM588.1 253.5L591.2 253.5L591.2 257L588.1 257ZM589.8 254.3L592 254.3L592 256.3L589.8 256.3ZM633.3 254.6L637 254.6L637 258.6L633.3 258.6ZM613.6 250.6L616.5 250.6L616.5 253.1L613.6 253.1ZM663.6 257.2L665.2 257.2L665.2 259.8L663.6 259.8ZM654.7 253.5L657.9 253.5L657.9 256.1L654.7 256.1ZM722.4 303.6L725.8 303.6L725.8 305.2L722.4 305.2ZM710.1 291.3L713.8 291.3L713.8 294.8L710.1 294.8ZM749 322.7L752.8 322.7L752.8 326.1L749 326.1ZM740.7 313L744.1 313L744.1 316.2L740.7 316.2ZM713.3 294.9L716.9 294.9L716.9 298.4L713.3 298.4ZM613.6 249.7L616.3 249.7L616.3 252.9L613.6 252.9ZM588.8 253.8L592.1 253.8L592.1 257.4L588.8 257.4ZM586.6 249.2L589.8 249.2L589.8 251.7L586.6 251.7ZM684.9 272.5L687.5 272.5L687.5 274.3L684.9 274.3ZM577.6 241L581.3 241L581.3 244.5L577.6 244.5ZM751 326.2L753.9 326.2L753.9 329.1L751 329.1ZM720.2 302.7L723.7 302.7L723.7 305.7L720.2 305.7ZM617.7 251.8L620.6 251.8L620.6 253.5L617.7 253.5ZM587.9 252.8L589.8 252.8L589.8 255.8L587.9 255.8ZM601.9 256.2L604.8 256.2L604.8 260.1L601.9 260.1ZM749.8 327.6L753.6 327.6L753.6 330.2L749.8 330.2ZM742 313.9L746.2 313.9L746.2 317.8L742 317.8ZM706.5 286.7L708.9 286.7L708.9 289.6L706.5 289.6ZM722.4 303.7L724.7 303.7L724.7 306.5L722.4 306.5ZM673.4 269.8L675.2 269.8L675.2 273.6L673.4 273.6ZM607.1 254L609.2 254L609.2 258L607.1 258ZM720.7 300.1L722.5 300.1L722.5 301.7L720.7 301.7ZM698.3 281.3L701.4 281.3L701.4 284.6L698.3 284.6ZM722.1 302.4L725.7 302.4L725.7 305.8L722.1 305.8ZM715.3 296.4L717.6 296.4L717.6 299.1L715.3 299.1ZM692.9 275.5L694.7 275.5L694.7 277.7L692.9 277.7ZM632.4 256.2L636.3 256.2L636.3 259.7L632.4 259.7ZM605.1 256L608.2 256L608.2 259.7L605.1 259.7ZM643.8 250.2L646.3 250.2L646.3 251.9L643.8 251.9ZM750.2 328.5L752 328.5L752 330.4L750.2 330.4ZM658.6 253.9L661.9 253.9L661.9 256.2L658.6 256.2ZM693.7 279L696.3 279L696.3 282.9L693.7 282.9ZM577.1 237.7L580.7 237.7L580.7 241.5L577.1 241.5ZM663.1 258L665.2 258L665.2 261.5L663.1 261.5ZM669.3 261.2L672.6 261.2L672.6 264.6L669.3 264.6ZM719.6 302L723 302L723 305.1L719.6 305.1ZM721.4 300.8L723.6 300.8L723.6 304.6L721.4 304.6ZM620.6 248.1L623.9 248.1L623.9 251.7L620.6 251.7ZM625.3 252.5L627.6 252.5L627.6 254.3L625.3 254.3ZM573.8 232.6L576.8 232.6L576.8 234.3L573.8 234.3ZM717.5 295.2L719.6 295.2L719.6 297.2L717.5 297.2ZM590.4 252.1L593.3 252.1L593.3 253.8L590.4 253.8ZM590 252.1L593.8 252.1L593.8 254L590 254ZM742.2 317.2L744.3 317.2L744.3 319.5L742.2 319.5ZM635.4 253L638.7 253L638.7 255.5L635.4 255.5ZM674.9 272.1L678.6 272.1L678.6 276.1L674.9 276.1ZM730.2 307.1L734.1 307.1L734.1 310.1L730.2 310.1ZM694.2 282.8L698.3 282.8L698.3 284.7L694.2 284.7ZM672.6 267.5L676.3 267.5L676.3 271.5L672.6 271.5ZM751.3 327.3L754.8 327.3L754.8 330.3L751.3 330.3ZM585.3 250.4L588.8 250.4L588.8 253.8L585.3 253.8ZM660.6 255.1L663.2 255.1L663.2 257.5L660.6 257.5ZM571.9 232.6L575.5 232.6L575.5 234.6L571.9 234.6ZM575.3 235L577.2 235L577.2 238L575.3 238ZM700.6 283.8L704.7 283.8L704.7 287L700.6 287ZM646.4 251.7L650.4 251.7L650.4 255.6L646.4 255.6ZM590.3 253.7L592.3 253.7L592.3 255.4L590.3 255.4ZM749.9 329.8L753.4 329.8L753.4 333L749.9 333ZM631.9 256.8L633.8 256.8L633.8 259.7L631.9 259.7ZM704.7 287.9L707.3 287.9L707.3 291.7L704.7 291.7ZM704.8 286.2L706.9 286.2L706.9 290.1L704.8 290.1ZM694 278.1L696.8 278.1L696.8 280.7L694 280.7Z" fill="#4d4d4d"/>
<path d="M1009.7 383.2L1013.2 383.2L1013.2 385.3L1009.7 385.3ZM838.3 366.4L841.9 366.4L841.9 368L838.3 368ZM792.4 354L794.2 354L794.2 357.3L792.4 357.3ZM838.3 365.1L842.1 365.1L842.1 368.2L838.3 368.2ZM796.9 353.6L798.8 353.6L798.8 356.7L796.9 356.7ZM961.8 385.5L964 385.5L964 388.2L961.8 388.2ZM891.3 382.6L895.3 382.6L895.3 386.7L891.3 386.7ZM797 353.6L798.7 353.6L798.7 356.1L797 356.1ZM769 335.4L772.5 335.4L772.5 338.6L769 338.6ZM892 382.9L895.5 382.9L895.5 385.3L892 385.3ZM973.6 386.2L977.4 386.2L977.4 390.1L973.6 390.1ZM973.3 385L976.3 385L976.3 388.5L973.3 388.5ZM905.1 383.1L908.3 383.1L908.3 385.5L905.1 385.5ZM897.9 385.3L901.1 385.3L901.1 389.1L897.9 389.1ZM757.9 321.5L760 321.5L760 323.5L757.9 323.5ZM767.8 336.8L770.8 336.8L770.8 339.4L767.8 339.4ZM890.8 385.4L893.7 385.4L893.7 388L890.8 388ZM824.6 363.8L826.5 363.8L826.5 366.3L824.6 366.3ZM953.8 384.8L956.6 384.8L956.6 386.3L953.8 386.3ZM1010.3 380.9L1012.4 380.9L1012.4 383.9L1010.3 383.9ZM791.3 350.9L793.3 350.9L793.3 354.8L791.3 354.8ZM833.3 364.2L835.4 364.2L835.4 366.3L833.3 366.3ZM814.9 361.5L818.6 361.5L818.6 365L814.9 365ZM827.7 362.4L829.7 362.4L829.7 364.1L827.7 364.1ZM1018.6 378.5L1020.2 378.5L1020.2 381.2L1018.6 381.2ZM921.8 388L925.8 388L925.8 391L921.8 391ZM922.7 388L924.4 388L924.4 390.4L922.7 390.4ZM991.4 386.8L995 386.8L995 389.3L991.4 389.3ZM1007.9 383.1L1011.6 383.1L1011.6 386.1L1007.9 386.1ZM765.4 331L769.4 331L769.4 334L765.4 334ZM957 384.2L961 384.2L961 386.5L957 386.5ZM879.8 373.5L882.2 373.5L882.2 376.9L879.8 376.9ZM758.5 326.8L761 326.8L761 329L758.5 329ZM903.7 381.6L907.2 381.6L907.2 383.8L903.7 383.8ZM908.4 383.7L910.7 383.7L910.7 385.9L908.4 385.9ZM796.8 357L800 357L800 359.9L796.8 359.9ZM816.8 360.3L820.7 360.3L820.7 362.4L816.8 362.4ZM874.3 373.1L877.7 373.1L877.7 376.8L874.3 376.8ZM995.2 384.6L997.3 384.6L997.3 387.5L995.2 387.5ZM1009.9 382.2L1011.6 382.2L1011.6 384.2L1009.9 384.2ZM834.5 363L836.9 363L836.9 365.2L834.5 365.2ZM886.8 382.2L889.8 382.2L889.8 384L886.8 384ZM930 393.9L934 393.9L934 396.1L930 396.1ZM898.7 383.1L902.3 383.1L902.3 384.8L898.7 384.8ZM899.3 385.7L902.3 385.7L902.3 388.2L899.3 388.2ZM783 348.6L786.3 348.6L786.3 352.7L783 352.7ZM1010.4 380.8L1014.2 380.8L1014.2 384.5L1010.4 384.5ZM821.2 362.6L824.3 362.6L824.3 365.1L821.2 365.1ZM865.7 377.3L867.4 377.3L867.4 379L865.7 379ZM917.3 385.6L919.7 385.6L919.7 388.4L917.3 388.4ZM930.5 392.5L933 392.5L933 395L930.5 395ZM975.2 387L978.2 387L978.2 389.2L975.2 389.2ZM808.9 359.1L812 359.1L812 362.8L808.9 362.8ZM852.6 379.4L854.2 379.4L854.2 381.2L852.6 381.2ZM786.6 350.5L788.9 350.5L788.9 353.5L786.6 353.5ZM981.3 386.1L983.9 386.1L983.9 389.1L981.3 389.1ZM923.4 387.2L926.4 387.2L926.4 389.2L923.4 389.2ZM1012.2 380.6L1016.1 380.6L1016.1 384.2L1012.2 384.2ZM960.9 384L963.3 384L963.3 386.5L960.9 386.5ZM1006.5 382L1009.6 382L1009.6 384.7L1006.5 384.7ZM944.5 391.5L947.4 391.5L947.4 394.4L944.5 394.4ZM859.6 378L863.4 378L863.4 381.5L859.6 381.5ZM811.5 360.9L813.1 360.9L813.1 364.1L811.5 364.1ZM940.2 390.7L943.8 390.7L943.8 393.5L940.2 393.5ZM973.3 386.7L976.3 386.7L976.3 390L973.3 390ZM818.6 361.1L820.9 361.1L820.9 363L818.6 363ZM908.4 383.2L911.2 383.2L911.2 385.2L908.4 385.2ZM931.2 394.1L934.3 394.1L934.3 398.1L931.2 398.1ZM758.6 323.7L762.6 323.7L762.6 326.1L758.6 326.1ZM849.2 376.2L853.3 376.2L853.3 378.7L849.2 378.7ZM996.9 386.2L998.7 386.2L998.7 388.1L996.9 388.1ZM994.4 386.1L997.7 386.1L997.7 388.7L994.4 388.7ZM861.6 379L863.6 379L863.6 381.3L861.6 381.3ZM754.7 318.3L757.4 318.3L757.4 321.7L754.7 321.7ZM788.1 349.6L790.4 349.6L790.4 352L788.1 352ZM774.5 342.8L776.9 342.8L776.9 346.2L774.5 346.2ZM948.2 389.4L950.9 389.4L950.9 392.3L948.2 392.3ZM969.7 385.1L971.9 385.1L971.9 387.6L969.7 387.6ZM961.3 383.4L964.9 383.4L964.9 387.5L961.3 387.5ZM800.1 357.8L802.3 357.8L802.3 359.8L800.1 359.8ZM1009.2 383.2L1011.1 383.2L1011.1 387L1009.2 387ZM828.9 363.4L831.7 363.4L831.7 367.6L828.9 367.6ZM947.2 389.8L950.7 389.8L950.7 393.1L947.2 393.1ZM937.4 391.9L941.2 391.9L941.2 394.5L937.4 394.5ZM925.1 387.1L926.8 387.1L926.8 389.8L925.1 389.8ZM837.6 362.5L839.6 362.5L839.6 365.3L837.6 365.3ZM950.4 385.1L953.9 385.1L953.9 388.4L950.4 388.4ZM1012.3 380.7L1014.3 380.7L1014.3 382.5L1012.3 382.5ZM1004.9 381.9L1008.1 381.9L1008.1 385.3L1004.9 385.3ZM842.4 366.9L845 366.9L845 371L842.4 371ZM1004 383L1007.9 383L1007.9 386.1L1004 386.1ZM801.7 356.6L804.5 356.6L804.5 360.1L801.7 360.1ZM860.9 380.4L863 380.4L863 383.7L860.9 383.7ZM1017.9 377.9L1019.7 377.9L1019.7 381.8L1017.9 381.8ZM762.4 328.1L764.8 328.1L764.8 330.3L762.4 330.3ZM918.4 384.5L920.1 384.5L920.1 388.1L918.4 388.1ZM835.1 362.6L838.3 362.6L838.3 366.4L835.1 366.4ZM885.8 376.7L887.5 376.7L887.5 378.4L885.8 378.4ZM960.8 385.1L963 385.1L963 388.5L960.8 388.5ZM825.8 360.5L829.1 360.5L829.1 364.5L825.8 364.5ZM1011.2 382.1L1012.8 382.1L1012.8 385.3L1011.2 385.3ZM850.4 376.3L852.2 376.3L852.2 377.9L850.4 377.9ZM902.5 381.5L905.3 381.5L905.3 384.7L902.5 384.7ZM928.5 389.7L931 389.7L931 391.5L928.5 391.5ZM765.9 331.5L768.7 331.5L768.7 334.1L765.9 334.1ZM993.1 385.3L996.2 385.3L996.2 389L993.1 389ZM904.9 382.5L906.7 382.5L906.7 385.7L904.9 385.7ZM872.1 372.4L875.1 372.4L875.1 376L872.1 376ZM887.1 378L888.9 378L888.9 381.2L887.1 381.2ZM918.9 385.3L920.8 385.3L920.8 387.6L918.9 387.6ZM974.7 388.3L978 388.3L978 392L974.7 392ZM967 384.6L968.7 384.6L968.7 388.1L967 388.1ZM977.1 388.2L978.9 388.2L978.9 391.5L977.1 391.5ZM845.8 372.4L848.7 372.4L848.7 374.3L845.8 374.3ZM885.7 379L888.7 379L888.7 381.9L885.7 381.9ZM810.7 359.7L812.6 359.7L812.6 362.2L810.7 362.2ZM953.4 386.1L955 386.1L955 387.7L953.4 387.7ZM915.4 382.2L917.5 382.2L917.5 384.5L915.4 384.5ZM767.1 334.6L769.2 334.6L769.2 338.3L767.1 338.3ZM953.6 380.9L956.4 380.9L956.4 384.6L953.6 384.6ZM969.8 384.2L972.5 384.2L972.5 388.1L969.8 388.1ZM905.3 381.9L909.1 381.9L909.1 383.9L905.3 383.9Z" fill="#4d4d4d"/>
<path d="M853.7 376.2L856.9 376.2L856.9 379.4L853.7 379.4ZM857.3 378.9L860.2 378.9L860.2 381.1L857.3 381.1ZM997.7 382.9L1001.8 382.9L1001.8 385L997.7 385ZM974 381.7L977.3 381.7L977.3 385.3L974 385.3ZM788.4 347.4L791.6 347.4L791.6 349.1L788.4 349.1ZM790.4 347.4L794.1 347.4L794.1 349.5L790.4 349.5ZM900.1 378.8L904 378.8L904 380.8L900.1 380.8ZM878.6 370.9L880.4 370.9L880.4 374L878.6 374ZM842 363.6L843.8 363.6L843.8 365.7L842 365.7ZM810.8 357.7L814.4 357.7L814.4 359.5L810.8 359.5ZM803.6 353.3L806.4 353.3L806.4 355.5L803.6 355.5ZM890.6 377.6L892.7 377.6L892.7 380.5L890.6 380.5ZM806.9 356.9L810.5 356.9L810.5 360.1L806.9 360.1ZM896.5 382.6L898.2 382.6L898.2 385.1L896.5 385.1ZM986.2 382.3L988.2 382.3L988.2 384.3L986.2 384.3ZM961 381.4L964.3 381.4L964.3 384.7L961 384.7ZM759.7 320.2L761.6 320.2L761.6 323.8L759.7 323.8ZM879.1 369.9L882.8 369.9L882.8 373.6L879.1 373.6ZM771.3 332.3L773.7 332.3L773.7 334.7L771.3 334.7ZM864.2 372.4L868.3 372.4L868.3 375.7L864.2 375.7ZM899.9 380.1L902.1 380.1L902.1 381.7L899.9 381.7ZM999.6 381.1L1003 381.1L1003 382.7L999.6 382.7ZM990.8 382.9L992.4 382.9L992.4 386.2L990.8 386.2ZM910.8 378.1L913.5 378.1L913.5 381.6L910.8 381.6ZM1014.8 375.9L1017.7 375.9L1017.7 379.2L1014.8 379.2ZM1000.2 382.4L1002.8 382.4L1002.8 386.3L1000.2 386.3ZM873.6 368.9L876.4 368.9L876.4 371.2L873.6 371.2ZM921.1 382L922.8 382L922.8 383.6L921.1 383.6ZM857.1 376.4L859.2 376.4L859.2 378.9L857.1 378.9ZM962.1 379.8L965.6 379.8L965.6 382.5L962.1 382.5ZM773.5 338.7L777.7 338.7L777.7 340.4L773.5 340.4ZM827 359.2L830.1 359.2L830.1 361.3L827 361.3ZM975.6 385.2L979.6 385.2L979.6 387.1L975.6 387.1ZM811.8 356L813.5 356L813.5 358L811.8 358ZM883.8 369L886 369L886 372.4L883.8 372.4ZM999.3 381.6L1001.6 381.6L1001.6 383.7L999.3 383.7ZM985.2 382.3L987.2 382.3L987.2 385.5L985.2 385.5ZM942.3 387.7L945.8 387.7L945.8 391.1L942.3 391.1ZM854.5 374.7L857.9 374.7L857.9 377.9L854.5 377.9ZM799.2 352.4L802 352.4L802 355.8L799.2 355.8ZM976.2 382.2L979.2 382.2L979.2 386.3L976.2 386.3ZM855.7 375.8L858.9 375.8L858.9 379.5L855.7 379.5ZM765.2 326L767.6 326L767.6 328.6L765.2 328.6ZM781.8 340.4L784.4 340.4L784.4 344.4L781.8 344.4ZM896.7 381.3L900.7 381.3L900.7 383.6L896.7 383.6ZM788.4 345.3L790 345.3L790 349.3L788.4 349.3ZM849.5 373.1L851.5 373.1L851.5 374.9L849.5 374.9ZM912.3 378.3L916 378.3L916 382.3L912.3 382.3ZM760.2 319.1L764.1 319.1L764.1 323.2L760.2 323.2ZM976.3 382.3L979.5 382.3L979.5 385.8L976.3 385.8ZM946.3 385.9L949.6 385.9L949.6 389.5L946.3 389.5ZM883.5 369.5L887.3 369.5L887.3 373.5L883.5 373.5ZM845.9 369.2L849.2 369.2L849.2 373L845.9 373ZM849.4 370.5L851.6 370.5L851.6 372.3L849.4 372.3ZM897.2 381.1L899.7 381.1L899.7 384.8L897.2 384.8ZM761.9 322.4L764.7 322.4L764.7 324.3L761.9 324.3ZM856 376.3L859.2 376.3L859.2 380.1L856 380.1ZM808 358.3L811.1 358.3L811.1 360.4L808 360.4ZM966.8 383.5L969.9 383.5L969.9 387.5L966.8 387.5ZM837.6 361.6L840.7 361.6L840.7 363.5L837.6 363.5ZM817.9 357.7L822 357.7L822 361L817.9 361ZM992 382.2L995.8 382.2L995.8 385.5L992 385.5ZM795.7 352L798.8 352L798.8 354L795.7 354ZM919.9 381.3L923.1 381.3L923.1 384.8L919.9 384.8ZM805.5 355.4L808.2 355.4L808.2 358.7L805.5 358.7ZM806.1 355.5L810.2 355.5L810.2 359.1L806.1 359.1ZM855.7 375.4L857.9 375.4L857.9 378L855.7 378ZM844.3 366.9L846.9 366.9L846.9 370L844.3 370ZM830.9 357.4L832.6 357.4L832.6 361.3L830.9 361.3ZM925.3 383.7L927.9 383.7L927.9 387.2L925.3 387.2ZM868 369.7L871.4 369.7L871.4 372.5L868 372.5ZM891.1 379.3L894.3 379.3L894.3 382.4L891.1 382.4ZM853.5 374.9L855.5 374.9L855.5 376.9L853.5 376.9ZM974.1 382.6L977.7 382.6L977.7 385.4L974.1 385.4ZM945.1 387.5L947.2 387.5L947.2 390.1L945.1 390.1ZM945.9 384.7L948.7 384.7L948.7 387.2L945.9 387.2ZM896 381.4L900 381.4L900 384.1L896 384.1ZM759.6 318L761.8 318L761.8 320.6L759.6 320.6ZM870.9 371.2L873.2 371.2L873.2 375.1L870.9 375.1ZM993.3 382.5L996.4 382.5L996.4 386.1L993.3 386.1ZM878.8 369.9L881.4 369.9L881.4 373.4L878.8 373.4ZM941.9 387.8L945.4 387.8L945.4 389.9L941.9 389.9ZM821.9 360.2L825.3 360.2L825.3 363.2L821.9 363.2ZM1020.7 375.9L1023.3 375.9L1023.3 378.9L1020.7 378.9ZM1016.5 376.3L1018.9 376.3L1018.9 380.1L1016.5 380.1ZM835 359.7L838.6 359.7L838.6 363.3L835 363.3ZM936.3 389.1L939.2 389.1L939.2 392.6L936.3 392.6ZM830.9 359.6L832.6 359.6L832.6 363.3L830.9 363.3ZM947 385.6L949.2 385.6L949.2 388.6L947 388.6ZM848.6 371.6L851.1 371.6L851.1 374.6L848.6 374.6ZM768.7 330.6L772.9 330.6L772.9 332.6L768.7 332.6ZM763.5 322.3L766 322.3L766 325.9L763.5 325.9ZM808.1 357.9L811.8 357.9L811.8 361.3L808.1 361.3ZM877.3 369.1L879.3 369.1L879.3 371.2L877.3 371.2ZM947.8 386.1L951.4 386.1L951.4 388L947.8 388ZM1013.8 376.7L1016.3 376.7L1016.3 378.4L1013.8 378.4ZM813.8 356.4L816.8 356.4L816.8 358.7L813.8 358.7ZM887.3 373.2L890.2 373.2L890.2 376.2L887.3 376.2ZM855.6 378.7L857.3 378.7L857.3 381.2L855.6 381.2ZM824.7 359.4L827.4 359.4L827.4 361.1L824.7 361.1ZM779 341.8L783.2 341.8L783.2 345.5L779 345.5ZM809.7 355.7L811.7 355.7L811.7 357.5L809.7 357.5ZM1003.3 380.2L1005.5 380.2L1005.5 384.1L1003.3 384.1ZM813.6 357.8L816.4 357.8L816.4 361L813.6 361ZM905.2 380.1L906.7 380.1L906.7 382.2L905.2 382.2ZM1016.1 377.1L1019.8 377.1L1019.8 379.6L1016.1 379.6ZM904.1 378.1L907.7 378.1L907.7 380.6L904.1 380.6ZM1018 377.8L1019.8 377.8L1019.8 380.7L1018 380.7ZM827.8 359.8L831.9 359.8L831.9 361.6L827.8 361.6ZM811.5 358.8L813.7 358.8L813.7 360.8L811.5 360.8ZM856.5 375L860.4 375L860.4 378.3L856.5 378.3ZM883 373.6L887 373.6L887 375.8L883 375.8ZM951 382.3L953.4 382.3L953.4 385.1L951 385.1ZM999.8 382.5L1001.7 382.5L1001.7 385.8L999.8 385.8ZM815.7 358.6L818.3 358.6L818.3 361.5L815.7 361.5ZM774.4 337.3L776.2 337.3L776.2 340.5L774.4 340.5ZM794.7 349.7L798.5 349.7L798.5 352.5L794.7 352.5ZM798.2 352.7L802.2 352.7L802.2 356.3L798.2 356.3ZM945.3 385.5L947.6 385.5L947.6 387.7L945.3 387.7ZM834.4 359.6L838.3 359.6L838.3 362.9L834.4 362.9ZM911 378.9L913.7 378.9L913.7 381.2L911 381.2ZM983.5 382.9L986.5 382.9L986.5 385.8L983.5 385.8ZM904 376.8L907.3 376.8L907.3 380.8L904 380.8ZM946.8 383.7L950.1 383.7L950.1 386.1L946.8 386.1ZM912.7 381.1L916.6 381.1L916.6 383L912.7 383ZM1001.5 382.2L1005.6 382.2L1005.6 385.5L1001.5 385.5ZM1013.7 376.9L1015.9 376.9L1015.9 379L1013.7 379ZM895.1 381L897.1 381L897.1 382.9L895.1 382.9ZM963 382.1L966.7 382.1L966.7 385L963 385ZM884.8 370.9L888.4 370.9L888.4 374.2L884.8 374.2ZM768 330.4L770.2 330.4L770.2 333.3L768 333.3ZM857.6 375.8L861.6 375.8L861.6 379.4L857.6 379.4ZM760.6 316.1L763.5 316.1L763.5 319.3L760.6 319.3ZM939.3 389.6L943.3 389.6L943.3 391.4L939.3 391.4ZM760.7 322.4L762.8 322.4L762.8 326.4L760.7 326.4ZM807.4 355.5L810 355.5L810 357.3L807.4 357.3ZM913.1 381.2L916.6 381.2L916.6 383.2L913.1 383.2ZM814 356.9L816.6 356.9L816.6 359.3L814 359.3Z" fill="#b3b3b3"/>
<path d="M1039.2 367.7L1041.4 367.7L1041.4 369.5L1039.2 369.5ZM1043.1 366.2L1044.8 366.2L1044.8 369.3L1043.1 369.3ZM1053.6 365.4L1057.3 365.4L1057.3 367.4L1053.6 367.4ZM1097.3 334.5L1101.1 334.5L1101.1 337.9L1097.3 337.9ZM1087.8 341.3L1091.6 341.3L1091.6 344.5L1087.8 344.5ZM1046.9 363.9L1049.5 363.9L1049.5 367.2L1046.9 367.2ZM1069.2 356.2L1071.9 356.2L1071.9 359.1L1069.2 359.1ZM1095.6 336.7L1099.3 336.7L1099.3 339.8L1095.6 339.8ZM1087 342.5L1089.9 342.5L1089.9 344L1087 344ZM1028.8 363.5L1030.9 363.5L1030.9 367L1028.8 367ZM1056.3 363.4L1059.7 363.4L1059.7 366.1L1056.3 366.1ZM1077.7 345L1079.3 345L1079.3 348.2L1077.7 348.2ZM1084.8 341.8L1088.1 341.8L1088.1 344.8L1084.8 344.8ZM1042.1 367.2L1044.1 367.2L1044.1 369.3L1042.1 369.3ZM1042.8 367.7L1045.8 367.7L1045.8 369.9L1042.8 369.9ZM1094.8 338.4L1097.7 338.4L1097.7 340.7L1094.8 340.7ZM1066.6 357.2L1069.2 357.2L1069.2 360.7L1066.6 360.7ZM1018.1 358L1021.9 358L1021.9 361L1018.1 361ZM1070.1 353L1073.9 353L1073.9 355.1L1070.1 355.1ZM1041.8 365.1L1043.3 365.1L1043.3 368.9L1041.8 368.9ZM1026 362.1L1029.8 362.1L1029.8 365.8L1026 365.8ZM1030.1 364.8L1032.9 364.8L1032.9 368.1L1030.1 368.1ZM1024.6 364L1026.5 364L1026.5 367.3L1024.6 367.3ZM1040.2 365.5L1043 365.5L1043 368.3L1040.2 368.3ZM1044.3 367.1L1046.9 367.1L1046.9 369.4L1044.3 369.4ZM1055.6 364.3L1058.5 364.3L1058.5 367.5L1055.6 367.5ZM1087.1 341.6L1089 341.6L1089 344L1087.1 344ZM1090.8 338.5L1093.1 338.5L1093.1 341.9L1090.8 341.9ZM1018.9 359.3L1021.5 359.3L1021.5 360.9L1018.9 360.9ZM1036.6 366.8L1038.3 366.8L1038.3 368.4L1036.6 368.4ZM1069.3 357.2L1072.1 357.2L1072.1 361L1069.3 361ZM1086.9 340.8L1090.7 340.8L1090.7 343.6L1086.9 343.6ZM1077 345.5L1078.8 345.5L1078.8 348.3L1077 348.3ZM1034.2 367.9L1037.6 367.9L1037.6 369.9L1034.2 369.9ZM1095.9 337.5L1098.4 337.5L1098.4 341.1L1095.9 341.1ZM1025.7 365.1L1028.5 365.1L1028.5 368L1025.7 368ZM1073 350.7L1076.6 350.7L1076.6 352.2L1073 352.2ZM1091.3 337.2L1094.4 337.2L1094.4 340.3L1091.3 340.3ZM1057.8 364.2L1059.6 364.2L1059.6 366.2L1057.8 366.2ZM1067.7 357.4L1071.5 357.4L1071.5 359L1067.7 359Z" fill="#4d4d4d"/>
<path d="M1086.5 337.6L1089.9 337.6L1089.9 341.3L1086.5 341.3ZM1042.3 363.1L1044.8 363.1L1044.8 365.4L1042.3 365.4ZM1059.7 359.6L1063.4 359.6L1063.4 363.5L1059.7 363.5ZM1065.2 353.8L1068.7 353.8L1068.7 357L1065.2 357ZM1021.2 359.2L1023.4 359.2L1023.4 361.3L1021.2 361.3ZM1022.2 357.2L1024.8 357.2L1024.8 360.5L1022.2 360.5ZM1027.4 360.2L1031 360.2L1031 362.4L1027.4 362.4ZM1073.7 346.8L1076.5 346.8L1076.5 350.3L1073.7 350.3ZM1067.1 351.3L1070.1 351.3L1070.1 353.6L1067.1 353.6ZM1096.2 333L1098.2 333L1098.2 336.7L1096.2 336.7ZM1048.3 360.7L1051.6 360.7L1051.6 364.3L1048.3 364.3ZM1056.2 360.5L1059.8 360.5L1059.8 362.8L1056.2 362.8ZM1032.7 362.3L1036.2 362.3L1036.2 364.3L1032.7 364.3ZM1020.6 357.8L1023.7 357.8L1023.7 361.6L1020.6 361.6ZM1054.8 359.5L1056.6 359.5L1056.6 362.6L1054.8 362.6ZM1042.7 363.9L1044.6 363.9L1044.6 366.9L1042.7 366.9ZM1017.7 355.7L1021 355.7L1021 359.1L1017.7 359.1ZM1089.8 334.9L1092.9 334.9L1092.9 337.6L1089.8 337.6ZM1082.5 340.4L1085.1 340.4L1085.1 342.9L1082.5 342.9ZM1054.4 360L1057.8 360L1057.8 362.2L1054.4 362.2ZM1052.3 361.6L1055.1 361.6L1055.1 363.2L1052.3 363.2ZM1011 354.9L1014.5 354.9L1014.5 358L1011 358ZM1072.3 345.4L1074.8 345.4L1074.8 348.7L1072.3 348.7ZM1075.9 346L1077.5 346L1077.5 348.3L1075.9 348.3ZM1061.7 359.1L1064.9 359.1L1064.9 362.2L1061.7 362.2ZM1070.3 350.5L1072.8 350.5L1072.8 354.3L1070.3 354.3ZM1036.1 365.7L1037.8 365.7L1037.8 368.4L1036.1 368.4ZM1029 361.8L1031.3 361.8L1031.3 365.5L1029 365.5ZM1028 363.1L1031.9 363.1L1031.9 365.5L1028 365.5ZM1053.7 362.6L1055.9 362.6L1055.9 364.8L1053.7 364.8ZM1082.7 337.3L1084.3 337.3L1084.3 340.7L1082.7 340.7ZM1073.7 347.1L1076.3 347.1L1076.3 349.7L1073.7 349.7ZM1033.5 364.5L1035.8 364.5L1035.8 367.4L1033.5 367.4ZM1011.9 357.9L1014.3 357.9L1014.3 359.7L1011.9 359.7ZM1096.4 334.9L1098.3 334.9L1098.3 337.1L1096.4 337.1ZM1025.5 358.3L1027.2 358.3L1027.2 361.9L1025.5 361.9ZM1016.1 353.6L1018.6 353.6L1018.6 355.2L1016.1 355.2ZM1083.9 340.3L1086.4 340.3L1086.4 342.2L1083.9 342.2ZM1081.6 340.5L1084.8 340.5L1084.8 342.2L1081.6 342.2ZM1056.3 362.6L1058.6 362.6L1058.6 364.4L1056.3 364.4ZM1079.6 341.9L1082 341.9L1082 343.6L1079.6 343.6ZM1036.2 364.2L1039.6 364.2L1039.6 367.1L1036.2 367.1ZM1056.4 360.1L1058.2 360.1L1058.2 362.6L1056.4 362.6ZM1022.7 359.1L1024.2 359.1L1024.2 361L1022.7 361ZM1036.3 362.9L1039.1 362.9L1039.1 365.9L1036.3 365.9ZM1068.3 349.1L1071.8 349.1L1071.8 351.8L1068.3 351.8ZM1010.7 357.2L1014.2 357.2L1014.2 360.8L1010.7 360.8ZM1098.1 332.5L1100.4 332.5L1100.4 335.6L1098.1 335.6ZM1097.2 332L1099.6 332L1099.6 335.6L1097.2 335.6ZM1084.3 339.2L1086.4 339.2L1086.4 342.6L1084.3 342.6Z" fill="#b3b3b3"/>
<path d="M1501.1 327L1502.6 327L1502.6 330.7L1501.1 330.7ZM1463.9 347.4L1466.2 347.4L1466.2 349.9L1463.9 349.9ZM1495.6 329.1L1498.8 329.1L1498.8 331.2L1495.6 331.2ZM1462.6 346.1L1465.1 346.1L1465.1 348.9L1462.6 348.9ZM1458.7 348.2L1462.4 348.2L1462.4 351.4L1458.7 351.4ZM1517.8 325.3L1520.3 325.3L1520.3 327.7L1517.8 327.7ZM1497.4 329.7L1500.4 329.7L1500.4 331.4L1497.4 331.4ZM1491.2 331.7L1493.9 331.7L1493.9 333.3L1491.2 333.3ZM1455.3 348L1458.5 348L1458.5 350.7L1455.3 350.7ZM1500 325L1503.4 325L1503.4 327L1500 327ZM1508.2 327.3L1510 327.3L1510 329.2L1508.2 329.2ZM1470.1 341.3L1473.1 341.3L1473.1 342.9L1470.1 342.9ZM1486.1 332.9L1489.6 332.9L1489.6 335.1L1486.1 335.1ZM1501.8 326.1L1505.2 326.1L1505.2 328.8L1501.8 328.8ZM1488.1 331.9L1490.5 331.9L1490.5 333.5L1488.1 333.5ZM1502.5 324.1L1504.9 324.1L1504.9 327L1502.5 327ZM1470.6 341.7L1473.1 341.7L1473.1 344.1L1470.6 344.1ZM1502.5 327.6L1506 327.6L1506 329.8L1502.5 329.8ZM1519 324.8L1521.2 324.8L1521.2 327.2L1519 327.2ZM1455.3 348.9L1457.8 348.9L1457.8 351.6L1455.3 351.6ZM1455.2 348.7L1458 348.7L1458 351.2L1455.2 351.2ZM1519.4 325.6L1522.7 325.6L1522.7 327.1L1519.4 327.1ZM1471.8 339.4L1475.4 339.4L1475.4 341L1471.8 341ZM1522 327.2L1523.7 327.2L1523.7 329.6L1522 329.6ZM1494 330.7L1496 330.7L1496 333.3L1494 333.3ZM1463.6 346.4L1467.2 346.4L1467.2 350.1L1463.6 350.1ZM1509.9 326.9L1511.4 326.9L1511.4 328.6L1509.9 328.6ZM1502.4 325.4L1505 325.4L1505 327.9L1502.4 327.9ZM1483.6 333.5L1485.9 333.5L1485.9 336.1L1483.6 336.1ZM1453.3 351L1456.8 351L1456.8 354.2L1453.3 354.2ZM1508.2 328.7L1510.8 328.7L1510.8 331.2L1508.2 331.2ZM1454.9 352.7L1458.6 352.7L1458.6 355.3L1454.9 355.3ZM1516.5 325.2L1519.2 325.2L1519.2 328.7L1516.5 328.7ZM1458 347.5L1460.9 347.5L1460.9 351L1458 351ZM1471.7 337.9L1473.8 337.9L1473.8 341.7L1471.7 341.7ZM1462.3 347L1464.3 347L1464.3 350.6L1462.3 350.6ZM1465.5 342.7L1467.5 342.7L1467.5 345.8L1465.5 345.8ZM1492.8 331.1L1495.2 331.1L1495.2 333L1492.8 333ZM1472.3 340.2L1474.9 340.2L1474.9 342L1472.3 342ZM1454 348.3L1457.4 348.3L1457.4 351.3L1454 351.3ZM1466.8 345L1470.2 345L1470.2 347.3L1466.8 347.3ZM1480.8 338.4L1484.1 338.4L1484.1 341.5L1480.8 341.5ZM1495.6 328.1L1499 328.1L1499 331.2L1495.6 331.2ZM1473.3 338.2L1475.7 338.2L1475.7 340.1L1473.3 340.1ZM1456.3 350.6L1458.8 350.6L1458.8 353.3L1456.3 353.3ZM1459.8 345.5L1463.4 345.5L1463.4 348.6L1459.8 348.6ZM1496.2 328.5L1497.7 328.5L1497.7 330L1496.2 330ZM1456.1 347.6L1459.5 347.6L1459.5 351.3L1456.1 351.3ZM1501.6 326.1L1503.5 326.1L1503.5 327.7L1501.6 327.7ZM1455.5 349.9L1457.7 349.9L1457.7 352.6L1455.5 352.6ZM1478.4 337.9L1481.5 337.9L1481.5 341.6L1478.4 341.6ZM1499.8 327L1503.1 327L1503.1 329.6L1499.8 329.6ZM1486.6 332.1L1488.3 332.1L1488.3 333.7L1486.6 333.7Z" fill="#b3b3b3"/>
<path d="M1507.4 321.6L1510.8 321.6L1510.8 325L1507.4 325ZM1481.7 331.3L1483.8 331.3L1483.8 334L1481.7 334ZM1453.2 347.9L1456.6 347.9L1456.6 349.8L1453.2 349.8ZM1477.3 333.5L1480.5 333.5L1480.5 335.2L1477.3 335.2ZM1492 329.7L1494.5 329.7L1494.5 331.5L1492 331.5ZM1458.3 344.4L1460.4 344.4L1460.4 346.6L1458.3 346.6ZM1513.7 324.3L1515.4 324.3L1515.4 326.4L1513.7 326.4ZM1494 326.4L1496.7 326.4L1496.7 328.8L1494 328.8ZM1499.4 323.2L1502.9 323.2L1502.9 325.3L1499.4 325.3ZM1455.6 346.5L1458.1 346.5L1458.1 349L1455.6 349ZM1485.8 329.1L1487.9 329.1L1487.9 330.6L1485.8 330.6ZM1520.4 324.3L1522.5 324.3L1522.5 326.2L1520.4 326.2ZM1490.9 325.9L1492.7 325.9L1492.7 328.9L1490.9 328.9ZM1503.8 320.8L1505.7 320.8L1505.7 323.6L1503.8 323.6ZM1469.1 336.6L1472.2 336.6L1472.2 338.6L1469.1 338.6ZM1513.4 324.4L1515 324.4L1515 327.9L1513.4 327.9ZM1509 323L1512.5 323L1512.5 325.1L1509 325.1ZM1513 325.5L1514.5 325.5L1514.5 328.4L1513 328.4ZM1494.1 325.4L1496.4 325.4L1496.4 327.3L1494.1 327.3ZM1462.8 340.8L1464.8 340.8L1464.8 344.3L1462.8 344.3ZM1514.6 324.8L1516.4 324.8L1516.4 327.6L1514.6 327.6ZM1457.1 344.3L1460.5 344.3L1460.5 346.9L1457.1 346.9ZM1499.3 323L1501.7 323L1501.7 325.9L1499.3 325.9ZM1450.6 349.1L1453.2 349.1L1453.2 350.6L1450.6 350.6ZM1472.8 337L1474.5 337L1474.5 338.6L1472.8 338.6ZM1515 325.6L1516.8 325.6L1516.8 328.3L1515 328.3ZM1500.2 322L1502.4 322L1502.4 324.9L1500.2 324.9ZM1492.5 328.4L1495.1 328.4L1495.1 330.1L1492.5 330.1ZM1472.6 334.9L1475 334.9L1475 337.9L1472.6 337.9ZM1511.2 322.5L1513 322.5L1513 325.5L1511.2 325.5ZM1462 340.5L1464.6 340.5L1464.6 343.4L1462 343.4ZM1471.3 334.8L1473.3 334.8L1473.3 336.8L1471.3 336.8ZM1505 321.7L1507.5 321.7L1507.5 323.8L1505 323.8ZM1519.3 322.1L1522.7 322.1L1522.7 324.6L1519.3 324.6ZM1503.4 322.1L1506.4 322.1L1506.4 325.6L1503.4 325.6ZM1469.8 338L1471.4 338L1471.4 341.1L1469.8 341.1ZM1468.7 338.6L1472.4 338.6L1472.4 342.1L1468.7 342.1Z" fill="#4d4d4d"/>
<path d="M453 338L456.5 338L456.5 340.7L453 340.7ZM402.5 362.7L405.5 362.7L405.5 364.3L402.5 364.3ZM377.7 360.5L380.6 360.5L380.6 362.5L377.7 362.5ZM454.6 336.4L457.2 336.4L457.2 339.5L454.6 339.5ZM369.8 397L373.2 397L373.2 399.8L369.8 399.8ZM387.1 364L389.5 364L389.5 367L387.1 367ZM371.8 390.4L373.8 390.4L373.8 392.6L371.8 392.6ZM398.9 366L401.3 366L401.3 368.1L398.9 368.1ZM378 361.4L381.4 361.4L381.4 364.9L378 364.9ZM386.4 363.2L389.8 363.2L389.8 366.6L386.4 366.6ZM369 387.4L372.3 387.4L372.3 390.8L369 390.8ZM371.3 411.9L373.5 411.9L373.5 413.4L371.3 413.4ZM475.7 330.7L479.1 330.7L479.1 333.2L475.7 333.2ZM473.7 330.4L477 330.4L477 333.6L473.7 333.6ZM470.1 325.8L471.6 325.8L471.6 328.7L470.1 328.7ZM481.7 330.7L483.4 330.7L483.4 334.2L481.7 334.2ZM462 327.3L465.3 327.3L465.3 329.2L462 329.2ZM471.8 328L474.6 328L474.6 329.8L471.8 329.8ZM369.9 380L372.6 380L372.6 382.3L369.9 382.3ZM370.8 390.5L373.9 390.5L373.9 392.6L370.8 392.6ZM439.5 352.8L442.9 352.8L442.9 354.2L439.5 354.2ZM369.7 409.5L372.4 409.5L372.4 411.3L369.7 411.3ZM382.1 360L384.3 360L384.3 362L382.1 362ZM474.2 330.3L477.6 330.3L477.6 331.7L474.2 331.7ZM416 354.3L418.3 354.3L418.3 357.4L416 357.4ZM464.2 326.5L467.3 326.5L467.3 329.9L464.2 329.9ZM435.7 351.6L437.2 351.6L437.2 353L435.7 353ZM461.8 327.5L463.2 327.5L463.2 329.4L461.8 329.4ZM374.9 366.6L377.1 366.6L377.1 369.1L374.9 369.1ZM369.9 379.7L373.2 379.7L373.2 381.3L369.9 381.3ZM370.9 408L372.7 408L372.7 410.3L370.9 410.3ZM389.8 363.8L391.3 363.8L391.3 365.5L389.8 365.5ZM374.1 370L376 370L376 373.2L374.1 373.2ZM441.7 347.8L443.1 347.8L443.1 351L441.7 351ZM442.3 352.3L444.3 352.3L444.3 354.9L442.3 354.9ZM455.6 335.2L457.9 335.2L457.9 337.8L455.6 337.8ZM490.3 320.3L492.1 320.3L492.1 323.4L490.3 323.4ZM419.1 354.7L421.4 354.7L421.4 356.3L419.1 356.3ZM370.4 411.2L373.9 411.2L373.9 414L370.4 414ZM455.2 336L458 336L458 338L455.2 338ZM368.9 415.6L371.2 415.6L371.2 418.2L368.9 418.2ZM447.4 334.8L449.6 334.8L449.6 337.4L447.4 337.4ZM403.1 362.2L405.4 362.2L405.4 364.4L403.1 364.4ZM484.3 326L486.8 326L486.8 329.1L484.3 329.1ZM373.5 368L376.7 368L376.7 369.6L373.5 369.6ZM416.2 355.9L418.6 355.9L418.6 359L416.2 359ZM388.6 365.6L391.3 365.6L391.3 367.2L388.6 367.2ZM461.2 330.4L462.5 330.4L462.5 332.6L461.2 332.6ZM487.1 326.2L489.3 326.2L489.3 328.7L487.1 328.7ZM407 356.9L410 356.9L410 359.2L407 359.2ZM437 352.1L439.9 352.1L439.9 354.1L437 354.1ZM445 337.7L446.7 337.7L446.7 339.5L445 339.5ZM425.5 352.9L427.5 352.9L427.5 356L425.5 356ZM484.7 327.2L487.6 327.2L487.6 328.8L484.7 328.8ZM372.4 384.2L374.4 384.2L374.4 386.7L372.4 386.7ZM403.7 363.8L405.6 363.8L405.6 365.4L403.7 365.4ZM370.4 384.4L372 384.4L372 386.4L370.4 386.4ZM385.2 360.7L386.9 360.7L386.9 363.5L385.2 363.5ZM371.8 398L375.1 398L375.1 399.5L371.8 399.5ZM386.3 361.7L389.3 361.7L389.3 365.1L386.3 365.1ZM369.9 389.5L372.8 389.5L372.8 391.6L369.9 391.6ZM387 363.2L389.5 363.2L389.5 366.1L387 366.1ZM379.5 358.1L380.9 358.1L380.9 360.8L379.5 360.8ZM441.9 353.3L444.3 353.3L444.3 356.2L441.9 356.2ZM368.8 392.9L371 392.9L371 394.9L368.8 394.9ZM376.4 366.8L378.5 366.8L378.5 369.4L376.4 369.4ZM405.6 359.3L409.1 359.3L409.1 362.1L405.6 362.1ZM386.9 363.4L390 363.4L390 366.8L386.9 366.8ZM394.3 363.3L397.7 363.3L397.7 364.8L394.3 364.8ZM451.6 337.7L454 337.7L454 339.3L451.6 339.3ZM465.7 325L467.6 325L467.6 327.7L465.7 327.7ZM483.1 329.1L485.2 329.1L485.2 331.7L483.1 331.7ZM376.3 368.9L377.8 368.9L377.8 371.7L376.3 371.7ZM435.2 350L438.4 350L438.4 352.4L435.2 352.4ZM487.5 323.9L489.9 323.9L489.9 326.2L487.5 326.2ZM418.6 353.8L421.8 353.8L421.8 356.5L418.6 356.5ZM478.7 332.5L480.9 332.5L480.9 334.6L478.7 334.6ZM486.8 324.2L489.3 324.2L489.3 326L486.8 326ZM428.9 351.1L431.2 351.1L431.2 353.8L428.9 353.8ZM482.7 330L486.2 330L486.2 332.3L482.7 332.3ZM373.5 374.1L376.1 374.1L376.1 377.1L373.5 377.1ZM443.3 341.3L445.7 341.3L445.7 344.2L443.3 344.2ZM371 410.3L372.4 410.3L372.4 412.3L371 412.3ZM374.9 366.3L377.9 366.3L377.9 368.2L374.9 368.2ZM443.3 338L445.5 338L445.5 340.9L443.3 340.9ZM485.4 325.6L486.9 325.6L486.9 327.8L485.4 327.8ZM438.3 351L441.6 351L441.6 352.8L438.3 352.8ZM440.9 351.5L443.4 351.5L443.4 354.6L440.9 354.6ZM428.7 351.9L431.8 351.9L431.8 354.9L428.7 354.9ZM423.7 353.6L426.2 353.6L426.2 355.7L423.7 355.7ZM387.6 364.2L390.3 364.2L390.3 367.6L387.6 367.6ZM414 354.2L415.4 354.2L415.4 355.6L414 355.6ZM432.5 349.5L434.1 349.5L434.1 352.1L432.5 352.1ZM440.4 350.2L442.3 350.2L442.3 353.5L440.4 353.5ZM426.3 350.4L428.4 350.4L428.4 353.9L426.3 353.9ZM386.2 365.6L389 365.6L389 367L386.2 367ZM429.6 351.4L431.8 351.4L431.8 354.8L429.6 354.8Z" fill="#b3b3b3"/>
<path d="M418.7 356.3L420.4 356.3L420.4 359.8L418.7 359.8ZM379.2 365.9L381.8 365.9L381.8 368.8L379.2 368.8ZM373.5 396.9L375.6 396.9L375.6 398.6L373.5 398.6ZM440.3 355.7L442 355.7L442 358.1L440.3 358.1ZM468.9 328L470.8 328L470.8 330.2L468.9 330.2ZM373.5 386.4L376.2 386.4L376.2 388.6L373.5 388.6ZM446.2 340L449.2 340L449.2 343.1L446.2 343.1ZM489.8 323.9L492.7 323.9L492.7 326.4L489.8 326.4ZM397.4 366.8L399.6 366.8L399.6 370L397.4 370ZM432.3 352L434.6 352L434.6 355L432.3 355ZM469.1 331.4L470.7 331.4L470.7 332.7L469.1 332.7ZM434.4 353.2L437.8 353.2L437.8 354.8L434.4 354.8ZM409.3 356.5L411.5 356.5L411.5 358.5L409.3 358.5ZM372.3 397.7L375.7 397.7L375.7 400.7L372.3 400.7ZM388.7 366.9L390.1 366.9L390.1 369.3L388.7 369.3ZM433.6 353.8L435.7 353.8L435.7 356.4L433.6 356.4ZM373.3 393.7L375.5 393.7L375.5 395.6L373.3 395.6ZM405.3 365.5L408.4 365.5L408.4 368.5L405.3 368.5ZM381.4 359.5L383.3 359.5L383.3 361L381.4 361ZM372.2 394.5L373.8 394.5L373.8 396.3L372.2 396.3ZM467.9 330.2L470.9 330.2L470.9 332.6L467.9 332.6ZM445.2 341.6L447.1 341.6L447.1 344.1L445.2 344.1ZM409.4 362.1L411.6 362.1L411.6 365.4L409.4 365.4ZM468.4 327.7L470 327.7L470 329.1L468.4 329.1ZM445.2 351.9L447.3 351.9L447.3 354.6L445.2 354.6ZM454.9 338.3L456.6 338.3L456.6 340.8L454.9 340.8ZM469.3 327.5L471.6 327.5L471.6 329.5L469.3 329.5ZM383.6 364.5L386.5 364.5L386.5 367.2L383.6 367.2ZM373.8 396.9L375.3 396.9L375.3 398.9L373.8 398.9ZM381.7 360.6L384.3 360.6L384.3 362.1L381.7 362.1ZM467 328.4L470 328.4L470 329.9L467 329.9ZM393.6 367.2L396.6 367.2L396.6 368.9L393.6 368.9ZM431.6 352L434.7 352L434.7 355.2L431.6 355.2ZM377.8 370.6L379.7 370.6L379.7 372.8L377.8 372.8ZM487.9 329.5L490 329.5L490 331.1L487.9 331.1ZM375.6 385.1L377 385.1L377 386.8L375.6 386.8ZM377.1 371.1L380.1 371.1L380.1 373.1L377.1 373.1ZM374.9 374.5L376.7 374.5L376.7 377.8L374.9 377.8ZM375.7 400.4L377.1 400.4L377.1 402.4L375.7 402.4ZM484.2 331.3L487.3 331.3L487.3 332.6L484.2 332.6ZM444.9 343.7L448.3 343.7L448.3 346.2L444.9 346.2ZM471.4 334.4L473.7 334.4L473.7 335.9L471.4 335.9ZM373.8 386.2L377 386.2L377 389L373.8 389ZM463.2 330L465.9 330L465.9 333.5L463.2 333.5ZM440.4 354.4L442.2 354.4L442.2 357.5L440.4 357.5ZM467.4 328.9L470.1 328.9L470.1 331.8L467.4 331.8ZM372.9 397.2L374.7 397.2L374.7 398.7L372.9 398.7ZM465.4 328.1L468.9 328.1L468.9 329.9L465.4 329.9ZM477.3 335.8L479.8 335.8L479.8 337.4L477.3 337.4ZM376.3 373L379 373L379 376L376.3 376ZM456.6 340.5L458.2 340.5L458.2 342.7L456.6 342.7ZM391.1 365.8L394.2 365.8L394.2 369L391.1 369ZM406.5 365.9L409.6 365.9L409.6 367.7L406.5 367.7ZM433.4 353.5L436.7 353.5L436.7 356.5L433.4 356.5ZM409.7 356.7L411.8 356.7L411.8 359.9L409.7 359.9ZM399.5 366.1L402.5 366.1L402.5 368.4L399.5 368.4ZM472.7 332L474.9 332L474.9 334.7L472.7 334.7ZM375.4 400L377.4 400L377.4 401.4L375.4 401.4ZM439.3 352.9L442.8 352.9L442.8 355.8L439.3 355.8ZM448.7 337.4L450.9 337.4L450.9 340.7L448.7 340.7ZM423.8 355.2L426 355.2L426 358L423.8 358ZM374.3 403.6L377.5 403.6L377.5 405.5L374.3 405.5ZM381.5 359.5L384.1 359.5L384.1 362.6L381.5 362.6ZM484.3 333.9L486 333.9L486 336.6L484.3 336.6ZM375.6 399.8L377.9 399.8L377.9 402.3L375.6 402.3ZM381.6 359.6L384.8 359.6L384.8 361.8L381.6 361.8ZM481.1 335.3L483.3 335.3L483.3 336.8L481.1 336.8ZM373.1 413.3L374.9 413.3L374.9 415.6L373.1 415.6ZM376.2 409.4L377.6 409.4L377.6 411.4L376.2 411.4ZM471.7 331.8L474.6 331.8L474.6 335.3L471.7 335.3ZM375.5 371.5L378.7 371.5L378.7 373L375.5 373ZM380.5 361.9L382 361.9L382 364.6L380.5 364.6ZM382.9 362.8L386.4 362.8L386.4 365.3L382.9 365.3ZM446.1 350.1L447.8 350.1L447.8 352.6L446.1 352.6ZM421.2 355.7L423.6 355.7L423.6 358.4L421.2 358.4ZM377.8 370.5L379.6 370.5L379.6 372.8L377.8 372.8ZM444.3 345.9L447.2 345.9L447.2 348.8L444.3 348.8ZM396.4 365.5L399.9 365.5L399.9 369L396.4 369ZM449.1 338.8L452.3 338.8L452.3 341.1L449.1 341.1ZM372.5 410.7L375.3 410.7L375.3 412.4L372.5 412.4ZM378.6 369.8L380.5 369.8L380.5 373.2L378.6 373.2ZM373.2 409.1L376.6 409.1L376.6 412.3L373.2 412.3ZM408.3 354.7L411.5 354.7L411.5 357.6L408.3 357.6ZM445.5 343.7L448.4 343.7L448.4 345.8L445.5 345.8ZM379.7 362.5L382.6 362.5L382.6 365.9L379.7 365.9ZM484.5 333.9L486.1 333.9L486.1 336.4L484.5 336.4ZM374.7 392.7L376.1 392.7L376.1 394.8L374.7 394.8ZM422 355.3L425 355.3L425 357.9L422 357.9ZM374.3 394.1L377.1 394.1L377.1 397.1L374.3 397.1ZM419.9 357.2L423.1 357.2L423.1 360L419.9 360ZM425.1 353.7L428.3 353.7L428.3 355.7L425.1 355.7ZM485.6 329.3L487.8 329.3L487.8 332L485.6 332ZM445.8 342.1L447.8 342.1L447.8 344.9L445.8 344.9ZM379.6 364.2L383 364.2L383 365.8L379.6 365.8ZM373.6 405.8L376.3 405.8L376.3 408.2L373.6 408.2ZM372.9 392.1L375.7 392.1L375.7 395.5L372.9 395.5ZM372.9 384.8L375.4 384.8L375.4 386.8L372.9 386.8ZM374.1 399.4L376.4 399.4L376.4 401.7L374.1 401.7ZM490.1 327.2L493.3 327.2L493.3 328.9L490.1 328.9ZM487.6 328.4L490.5 328.4L490.5 330.8L487.6 330.8ZM441.4 354.2L443.3 354.2L443.3 356.5L441.4 356.5ZM373.2 391.7L376 391.7L376 393.3L373.2 393.3ZM411.2 357L412.8 357L412.8 360.2L411.2 360.2Z" fill="#0000cd"/>
<path d="M391.8 253.1L394.8 253.1L394.8 255.1L391.8 255.1ZM392.2 265.6L393.8 265.6L393.8 267.1L392.2 267.1ZM469.3 263.8L470.7 263.8L470.7 265.6L469.3 265.6ZM478.3 265.5L480.5 265.5L480.5 268.5L478.3 268.5ZM395.5 236.6L398.3 236.6L398.3 239.5L395.5 239.5ZM393.7 263L395.2 263L395.2 265.7L393.7 265.7ZM431.6 248.1L433 248.1L433 249.8L431.6 249.8ZM394.2 244.6L396.7 244.6L396.7 246.1L394.2 246.1ZM476.3 263.8L478.3 263.8L478.3 265.1L476.3 265.1ZM480.4 263.6L481.8 263.6L481.8 266.1L480.4 266.1ZM473.2 262.7L474.4 262.7L474.4 265.2L473.2 265.2ZM414.8 257.5L417.3 257.5L417.3 258.9L414.8 258.9ZM416.1 256.1L417.5 256.1L417.5 259L416.1 259ZM434 249L435.4 249L435.4 251.4L434 251.4ZM478.4 263.9L481.4 263.9L481.4 265.9L478.4 265.9ZM392.3 258L394.1 258L394.1 260.9L392.3 260.9ZM474.8 264.1L477.7 264.1L477.7 265.7L474.8 265.7ZM458.6 251.5L461.4 251.5L461.4 253.1L458.6 253.1ZM396.8 277.7L399.4 277.7L399.4 279.8L396.8 279.8ZM399 278.6L401.8 278.6L401.8 280.1L399 280.1ZM469.7 263.9L471.1 263.9L471.1 266.1L469.7 266.1ZM461.5 259.3L463.5 259.3L463.5 261.8L461.5 261.8ZM471.2 263.3L472.6 263.3L472.6 265.5L471.2 265.5ZM400.7 276.7L403.3 276.7L403.3 279.4L400.7 279.4ZM463.3 259L465.6 259L465.6 261.3L463.3 261.3ZM395.2 237.5L397.4 237.5L397.4 239.2L395.2 239.2ZM419.2 256.6L420.6 256.6L420.6 259.5L419.2 259.5ZM391.6 258.6L393.7 258.6L393.7 261.8L391.6 261.8ZM409 261.9L410.8 261.9L410.8 263.8L409 263.8ZM416 258.2L419.1 258.2L419.1 260.3L416 260.3ZM436.4 255.9L439.3 255.9L439.3 258.3L436.4 258.3ZM392.5 260.9L394.5 260.9L394.5 262.3L392.5 262.3ZM391.9 258L393.6 258L393.6 259.8L391.9 259.8ZM392.7 260.3L394.1 260.3L394.1 263.3L392.7 263.3ZM391.5 265.8L393.4 265.8L393.4 267.1L391.5 267.1ZM428 250.6L430.4 250.6L430.4 252.5L428 252.5ZM395 242.9L396.9 242.9L396.9 245.9L395 245.9ZM394.6 247L397.5 247L397.5 249.6L394.6 249.6ZM392.9 277.1L395.8 277.1L395.8 278.9L392.9 278.9ZM391.9 265.6L393.9 265.6L393.9 268.1L391.9 268.1ZM446.8 255.3L449.4 255.3L449.4 257.8L446.8 257.8ZM408.9 263.8L411.4 263.8L411.4 266.5L408.9 266.5ZM470.9 263.2L473.8 263.2L473.8 266.2L470.9 266.2ZM395.8 243L397.4 243L397.4 246.1L395.8 246.1ZM472.1 262.8L473.4 262.8L473.4 265.5L472.1 265.5ZM456.6 250.3L459.6 250.3L459.6 252.8L456.6 252.8ZM409.8 261L412.1 261L412.1 263.3L409.8 263.3ZM427.5 250.7L429.9 250.7L429.9 253.5L427.5 253.5ZM409.5 260.3L411.4 260.3L411.4 262.9L409.5 262.9ZM449.5 257.5L450.9 257.5L450.9 259L449.5 259ZM422.4 255.4L425.6 255.4L425.6 258.4L422.4 258.4ZM425.7 254.7L428.3 254.7L428.3 257.7L425.7 257.7ZM452.3 254.8L454.5 254.8L454.5 257.1L452.3 257.1ZM390 268.9L393.2 268.9L393.2 270.1L390 270.1ZM456.4 252L459.1 252L459.1 255.1L456.4 255.1ZM465 259.8L466.2 259.8L466.2 262.7L465 262.7ZM396.7 243.4L397.9 243.4L397.9 246.5L396.7 246.5ZM409.7 262.1L412.6 262.1L412.6 263.7L409.7 263.7ZM450.6 256.6L453.2 256.6L453.2 258.9L450.6 258.9ZM397.6 277.1L400.4 277.1L400.4 279.5L397.6 279.5ZM420.1 256L423 256L423 257.2L420.1 257.2ZM457.7 251.2L459.6 251.2L459.6 254L457.7 254ZM432.3 250.9L435.4 250.9L435.4 253.7L432.3 253.7ZM392.9 258.8L394.9 258.8L394.9 260.2L392.9 260.2ZM455.3 253.1L456.8 253.1L456.8 255.6L455.3 255.6ZM414.9 257.1L417.6 257.1L417.6 258.9L414.9 258.9Z" fill="#b3b3b3"/>
<path d="M395.1 273.4L396.4 273.4L396.4 275L395.1 275ZM479.1 262.8L481.5 262.8L481.5 265.4L479.1 265.4ZM437.5 249.8L440.1 249.8L440.1 252.6L437.5 252.6ZM410.4 257.5L413 257.5L413 260.7L410.4 260.7ZM471.7 260.5L474.5 260.5L474.5 262.7L471.7 262.7ZM464 256.2L466 256.2L466 259.3L464 259.3ZM392.8 270.4L395.3 270.4L395.3 272.3L392.8 272.3ZM453.2 249.9L455.6 249.9L455.6 252.2L453.2 252.2ZM447.9 254.7L449.9 254.7L449.9 257.4L447.9 257.4ZM446.9 255.4L448.7 255.4L448.7 257.4L446.9 257.4ZM403.9 265.2L405.5 265.2L405.5 267.5L403.9 267.5ZM468.8 260L470.6 260L470.6 262.6L468.8 262.6ZM464 256.7L465.3 256.7L465.3 258.4L464 258.4ZM418.8 252.8L420.1 252.8L420.1 254.8L418.8 254.8ZM475.4 262.6L478.6 262.6L478.6 264.5L475.4 264.5ZM399.4 275.8L401.8 275.8L401.8 277.3L399.4 277.3ZM443.8 254.3L445.1 254.3L445.1 256.3L443.8 256.3ZM424 250.5L426.2 250.5L426.2 253L424 253ZM446.6 253.2L448 253.2L448 255.8L446.6 255.8ZM448 252.8L449.8 252.8L449.8 255.5L448 255.5ZM398.7 241.6L400 241.6L400 244.2L398.7 244.2ZM392.1 271.6L394.8 271.6L394.8 274L392.1 274ZM394.4 255.5L397.6 255.5L397.6 258.6L394.4 258.6ZM398.9 234.1L401.9 234.1L401.9 236.2L398.9 236.2ZM459.2 256L461.2 256L461.2 259.1L459.2 259.1ZM416.4 253.3L419.1 253.3L419.1 256.4L416.4 256.4ZM459.2 255.7L461.9 255.7L461.9 257.8L459.2 257.8ZM466.3 259.3L468.6 259.3L468.6 261.4L466.3 261.4ZM392.7 255.8L395.4 255.8L395.4 258.2L392.7 258.2ZM409.2 256.5L412.2 256.5L412.2 259L409.2 259ZM395.1 269.5L397.8 269.5L397.8 272.2L395.1 272.2ZM397.3 247.4L398.9 247.4L398.9 248.8L397.3 248.8ZM441.1 255.4L443 255.4L443 258L441.1 258ZM455.8 249L458.1 249L458.1 250.7L455.8 250.7ZM392 273.1L393.8 273.1L393.8 274.6L392 274.6ZM398.4 273.4L401.5 273.4L401.5 275.2L398.4 275.2ZM470.3 259.2L471.8 259.2L471.8 261.8L470.3 261.8ZM423.7 252.3L426.1 252.3L426.1 254.2L423.7 254.2ZM423.1 252.3L424.9 252.3L424.9 254.2L423.1 254.2ZM405.6 263.6L407.9 263.6L407.9 265.2L405.6 265.2ZM473.9 260.1L476.3 260.1L476.3 263L473.9 263ZM398.2 241L400 241L400 243.5L398.2 243.5ZM397.7 242.8L400.7 242.8L400.7 245.5L397.7 245.5ZM446.9 253.7L449 253.7L449 256.5L446.9 256.5ZM439.1 251.7L440.6 251.7L440.6 253.5L439.1 253.5ZM394.2 255.7L395.6 255.7L395.6 258.7L394.2 258.7ZM425.6 247.5L428.5 247.5L428.5 250.1L425.6 250.1ZM397 246.4L398.7 246.4L398.7 248.6L397 248.6ZM400.8 275L402.3 275L402.3 277.7L400.8 277.7ZM403.4 263.4L405.8 263.4L405.8 266.6L403.4 266.6ZM394.7 270.3L397.3 270.3L397.3 272L394.7 272ZM434.9 245.8L437.9 245.8L437.9 247.8L434.9 247.8ZM465.3 259.6L467.8 259.6L467.8 261.3L465.3 261.3ZM396 274L397.8 274L397.8 276.6L396 276.6ZM404.1 266.3L405.7 266.3L405.7 267.9L404.1 267.9ZM473.5 262.8L476.3 262.8L476.3 264L473.5 264ZM459.1 253.3L462 253.3L462 256.5L459.1 256.5ZM401 275.7L403.7 275.7L403.7 278.8L401 278.8ZM450.5 252L451.8 252L451.8 254.1L450.5 254.1ZM401.4 274.1L403.3 274.1L403.3 276.3L401.4 276.3ZM454.1 249.8L456.4 249.8L456.4 251.8L454.1 251.8ZM439.4 255.1L441.9 255.1L441.9 256.6L439.4 256.6ZM464.9 257.2L466.9 257.2L466.9 259.6L464.9 259.6ZM398.3 236.6L401.1 236.6L401.1 239.2L398.3 239.2ZM401.1 269.3L403.4 269.3L403.4 271.2L401.1 271.2ZM399.7 275L402.7 275L402.7 276.6L399.7 276.6ZM430 246.2L432.8 246.2L432.8 248.7L430 248.7ZM459.5 256.1L462.5 256.1L462.5 257.4L459.5 257.4ZM445.6 253.6L448 253.6L448 256.3L445.6 256.3ZM391.8 271.8L394.5 271.8L394.5 273.5L391.8 273.5ZM398.9 244.4L401.3 244.4L401.3 246.8L398.9 246.8ZM478.2 262.8L481.2 262.8L481.2 265L478.2 265ZM472.9 261L474.6 261L474.6 264.1L472.9 264.1ZM474.6 259.8L476.6 259.8L476.6 262.8L474.6 262.8Z" fill="#0000cd"/>
<path d="M1025.4 681.7L1029.8 681.7L1029.8 683.8L1025.4 683.8ZM787.2 724.6L790.6 724.6L790.6 727.6L787.2 727.6ZM1103.2 689.1L1105.4 689.1L1105.4 692.2L1103.2 692.2ZM1206.4 678.2L1209.8 678.2L1209.8 681.6L1206.4 681.6ZM1010 685.2L1014 685.2L1014 687.6L1010 687.6ZM1110.2 694L1112.8 694L1112.8 697.2L1110.2 697.2ZM1199.9 695.6L1204.6 695.6L1204.6 698.2L1199.9 698.2ZM767.2 751.3L771 751.3L771 754.4L767.2 754.4ZM1079.8 690.8L1084.5 690.8L1084.5 694.1L1079.8 694.1ZM815.8 712.8L819.6 712.8L819.6 716.2L815.8 716.2ZM753.7 749.5L758.1 749.5L758.1 752.1L753.7 752.1ZM799.6 709L801.9 709L801.9 711.4L799.6 711.4ZM919.4 682.4L922.8 682.4L922.8 684L919.4 684ZM1192.6 689.4L1196.9 689.4L1196.9 692.9L1192.6 692.9ZM1108.5 703.4L1111.6 703.4L1111.6 706.3L1108.5 706.3ZM934.1 691.1L937.4 691.1L937.4 692.8L934.1 692.8ZM1062.4 700.1L1064.5 700.1L1064.5 702.6L1062.4 702.6ZM779.7 709.6L783.6 709.6L783.6 713.7L779.7 713.7ZM824.7 717.8L829.4 717.8L829.4 720L824.7 720ZM910 683.8L914.3 683.8L914.3 686.3L910 686.3ZM1222.7 691.4L1227.7 691.4L1227.7 694.8L1222.7 694.8ZM832 697.2L836.1 697.2L836.1 700.3L832 700.3ZM823.3 724L828.2 724L828.2 727.5L823.3 727.5ZM988.3 683.2L991.4 683.2L991.4 686.7L988.3 686.7ZM829.2 699.4L832.1 699.4L832.1 703.5L829.2 703.5ZM967.1 686.4L972 686.4L972 690.5L967.1 690.5ZM936.2 689.5L939.3 689.5L939.3 691.2L936.2 691.2ZM924 692.6L926.1 692.6L926.1 695.2L924 695.2ZM875.9 710.2L878 710.2L878 712.1L875.9 712.1ZM763.2 703L765.3 703L765.3 705.6L763.2 705.6ZM803.4 722.7L807.2 722.7L807.2 726.5L803.4 726.5ZM1063.1 686.1L1065.9 686.1L1065.9 689.3L1063.1 689.3ZM1216.2 678L1221.6 678L1221.6 680.1L1216.2 680.1ZM999.7 681.4L1004.5 681.4L1004.5 684.3L999.7 684.3ZM769.2 696.7L774.1 696.7L774.1 700L769.2 700ZM974.8 676.3L978.8 676.3L978.8 680.5L974.8 680.5ZM771.7 754L777.2 754L777.2 758L771.7 758ZM802.9 715.4L806.3 715.4L806.3 718.4L802.9 718.4ZM937.6 689.4L942.9 689.4L942.9 692.9L937.6 692.9ZM1163 692.4L1166.2 692.4L1166.2 695L1163 695ZM1038.3 667.4L1042.9 667.4L1042.9 669.6L1038.3 669.6ZM1160.8 686.9L1164.5 686.9L1164.5 688.5L1160.8 688.5ZM852.3 701.6L854.3 701.6L854.3 704.4L852.3 704.4ZM773.8 705.2L777.1 705.2L777.1 707.9L773.8 707.9ZM1045.4 671.8L1050.5 671.8L1050.5 674L1045.4 674ZM1227.2 686.1L1232.6 686.1L1232.6 689.9L1227.2 689.9ZM838.4 715.6L842.2 715.6L842.2 717.4L838.4 717.4ZM925.2 694.7L928.1 694.7L928.1 697.1L925.2 697.1ZM959.3 677.3L962.1 677.3L962.1 679.5L959.3 679.5ZM920.8 693.3L924.6 693.3L924.6 696.3L920.8 696.3ZM967.8 678.4L971.2 678.4L971.2 682.2L967.8 682.2ZM1081 693.2L1084 693.2L1084 696.2L1081 696.2ZM1123.5 692L1126.7 692L1126.7 694.6L1123.5 694.6ZM770.9 741.3L775.5 741.3L775.5 743.3L770.9 743.3ZM1020.5 683.1L1025.8 683.1L1025.8 684.7L1020.5 684.7ZM991.8 672.5L996.5 672.5L996.5 674.6L991.8 674.6ZM848.8 705.4L850.9 705.4L850.9 709.5L848.8 709.5ZM1164.2 690.6L1167.4 690.6L1167.4 692.7L1164.2 692.7ZM943.3 682.7L948 682.7L948 686.2L943.3 686.2ZM907.3 696.2L911.8 696.2L911.8 698.5L907.3 698.5ZM771.3 738.9L775.5 738.9L775.5 740.7L771.3 740.7ZM767.9 705.6L772.1 705.6L772.1 708.2L767.9 708.2ZM1096.2 690.7L1101.6 690.7L1101.6 694.2L1096.2 694.2ZM779.2 704.5L781.5 704.5L781.5 706.3L779.2 706.3ZM884.1 712.4L887.1 712.4L887.1 716.2L884.1 716.2ZM765.9 751.9L770.1 751.9L770.1 753.7L765.9 753.7ZM1142.1 710.4L1145.9 710.4L1145.9 712.9L1142.1 712.9ZM785.2 741.1L789.3 741.1L789.3 743L785.2 743ZM1080.5 691.1L1083.8 691.1L1083.8 695.1L1080.5 695.1ZM1186.8 690L1189.5 690L1189.5 692.8L1186.8 692.8ZM771.4 714.1L773.9 714.1L773.9 717.6L771.4 717.6ZM1119.1 703.6L1122.7 703.6L1122.7 707.7L1119.1 707.7ZM776.5 711.8L780.9 711.8L780.9 715.3L776.5 715.3ZM1166.3 686L1170.1 686L1170.1 688.8L1166.3 688.8ZM1147.5 702L1151.9 702L1151.9 704.6L1147.5 704.6ZM784.6 735.9L788.1 735.9L788.1 738.1L784.6 738.1ZM799.3 718.2L802.6 718.2L802.6 720.1L799.3 720.1ZM874.3 710.1L879.5 710.1L879.5 712.3L874.3 712.3ZM996.3 684.3L1000.4 684.3L1000.4 687.7L996.3 687.7ZM832.4 702.7L835.9 702.7L835.9 706L832.4 706ZM984.7 685.3L989.3 685.3L989.3 688.4L984.7 688.4ZM780.9 743L785.3 743L785.3 745.4L780.9 745.4ZM1003.9 688.7L1006 688.7L1006 691.4L1003.9 691.4ZM994.8 681.8L997.3 681.8L997.3 683.9L994.8 683.9ZM981.3 668.8L983.8 668.8L983.8 672.8L981.3 672.8ZM801.3 712.3L806.1 712.3L806.1 715.1L801.3 715.1ZM1169 688.1L1173 688.1L1173 690L1169 690ZM972.2 672.2L976.6 672.2L976.6 674.9L972.2 674.9ZM1037.5 671.4L1042 671.4L1042 674.1L1037.5 674.1ZM1189.5 684.9L1193 684.9L1193 687.8L1189.5 687.8ZM829.9 697.9L834.7 697.9L834.7 700.9L829.9 700.9ZM885.3 708.1L887.3 708.1L887.3 711.4L885.3 711.4ZM1040.8 683.6L1043.9 683.6L1043.9 685.8L1040.8 685.8ZM815 725.3L818.6 725.3L818.6 728.8L815 728.8ZM1117 704L1119.6 704L1119.6 706.1L1117 706.1ZM1065 701.6L1069.8 701.6L1069.8 703.9L1065 703.9ZM836.2 711.5L840 711.5L840 715.5L836.2 715.5ZM1010.3 679.5L1013.6 679.5L1013.6 683.7L1010.3 683.7ZM1138.6 704.3L1142.3 704.3L1142.3 708.4L1138.6 708.4ZM1164.9 699.5L1168.7 699.5L1168.7 701.4L1164.9 701.4ZM1069.8 697.1L1072.3 697.1L1072.3 698.9L1069.8 698.9ZM956.5 672.6L959.2 672.6L959.2 674.8L956.5 674.8ZM875.1 706.5L879.1 706.5L879.1 708.4L875.1 708.4ZM914.2 698.4L918.8 698.4L918.8 702.1L914.2 702.1ZM761.9 745.9L765.1 745.9L765.1 748.3L761.9 748.3ZM919.7 694.9L921.8 694.9L921.8 698.4L919.7 698.4ZM1237.4 680.8L1241.5 680.8L1241.5 683.2L1237.4 683.2ZM1071.9 707.5L1076.8 707.5L1076.8 709.2L1071.9 709.2ZM1227.4 676.1L1229.5 676.1L1229.5 679.2L1227.4 679.2ZM799.4 718.4L804.5 718.4L804.5 720.5L799.4 720.5ZM1095.7 683.3L1100.1 683.3L1100.1 685.1L1095.7 685.1ZM1120.8 700.9L1125.2 700.9L1125.2 702.8L1120.8 702.8ZM838 705.5L841.3 705.5L841.3 708.9L838 708.9ZM881.6 700.7L886.7 700.7L886.7 702.7L881.6 702.7ZM781 705.3L785.6 705.3L785.6 707.1L781 707.1ZM1205.7 692.5L1210.1 692.5L1210.1 695.1L1205.7 695.1ZM1085.3 680.6L1089.4 680.6L1089.4 682.7L1085.3 682.7ZM1013.1 689.5L1017 689.5L1017 692.7L1013.1 692.7ZM788.5 706.4L791.4 706.4L791.4 709.1L788.5 709.1ZM1180.2 691.4L1182.9 691.4L1182.9 693.9L1180.2 693.9ZM773.4 749.2L775.3 749.2L775.3 752.5L773.4 752.5ZM1156.4 703.2L1161.8 703.2L1161.8 704.8L1156.4 704.8ZM1020 689.1L1023.8 689.1L1023.8 692.7L1020 692.7ZM833.1 710.2L836 710.2L836 712.1L833.1 712.1ZM768.6 707.8L771.8 707.8L771.8 710.5L768.6 710.5ZM1181.4 683.2L1183.9 683.2L1183.9 687L1181.4 687ZM1188 680.5L1191.3 680.5L1191.3 682.7L1188 682.7ZM1180.7 699.8L1185.7 699.8L1185.7 703L1180.7 703ZM1068.3 693.3L1073.2 693.3L1073.2 697.2L1068.3 697.2ZM1045.8 681.8L1049.5 681.8L1049.5 683.7L1045.8 683.7ZM1116.8 699.3L1121.7 699.3L1121.7 701L1116.8 701ZM784.9 732.3L788.3 732.3L788.3 734.6L784.9 734.6ZM886.1 696L889.6 696L889.6 699.8L886.1 699.8ZM1198.1 695.6L1202.9 695.6L1202.9 697.6L1198.1 697.6ZM1213.8 677.1L1216.2 677.1L1216.2 679.9L1213.8 679.9ZM1228.8 692.8L1232.7 692.8L1232.7 694.5L1228.8 694.5ZM1187.1 693L1190.6 693L1190.6 694.9L1187.1 694.9ZM793.2 730.1L798.4 730.1L798.4 733.9L793.2 733.9ZM856.7 697L861.1 697L861.1 700.7L856.7 700.7ZM1000.8 689.5L1004.3 689.5L1004.3 691.2L1000.8 691.2ZM1110.8 708.8L1114.8 708.8L1114.8 710.6L1110.8 710.6ZM995 677L998.5 677L998.5 679.5L995 679.5ZM767 757.7L769.5 757.7L769.5 761.6L767 761.6ZM787.2 699L789.9 699L789.9 700.8L787.2 700.8ZM1033.7 676.6L1038.8 676.6L1038.8 678.6L1033.7 678.6ZM1048.1 694.7L1052 694.7L1052 698.3L1048.1 698.3ZM1028.6 675.5L1031.1 675.5L1031.1 679L1028.6 679ZM953.8 679.3L958.1 679.3L958.1 682.5L953.8 682.5ZM1068 708.3L1071.4 708.3L1071.4 710.5L1068 710.5ZM1128 689L1131.8 689L1131.8 692.4L1128 692.4ZM916.6 692.3L919.3 692.3L919.3 694.3L916.6 694.3ZM1090 703.5L1094.7 703.5L1094.7 705.7L1090 705.7ZM786.9 695.6L791 695.6L791 699.8L786.9 699.8ZM800.2 719.3L804.2 719.3L804.2 722.3L800.2 722.3ZM789.9 700.6L793.5 700.6L793.5 704.5L789.9 704.5ZM1211.6 673.1L1215.5 673.1L1215.5 675.9L1211.6 675.9ZM1039.2 676L1041.9 676L1041.9 679.2L1039.2 679.2ZM1165.2 684.3L1169.1 684.3L1169.1 686.5L1165.2 686.5ZM935 695.4L938.4 695.4L938.4 697.1L935 697.1ZM817.5 725.3L822.5 725.3L822.5 727.8L817.5 727.8ZM790.6 723.8L796 723.8L796 725.6L790.6 725.6ZM859.1 714.1L863 714.1L863 716.8L859.1 716.8ZM1144.6 698.7L1149.4 698.7L1149.4 701.6L1144.6 701.6ZM908.2 690.6L913.3 690.6L913.3 694.5L908.2 694.5ZM842.5 708.3L846.3 708.3L846.3 710.9L842.5 710.9ZM879.5 715.2L881.5 715.2L881.5 716.8L879.5 716.8ZM884.5 699.1L886.9 699.1L886.9 703.1L884.5 703.1ZM1191.1 696.2L1195.1 696.2L1195.1 698.6L1191.1 698.6ZM1047.2 671.7L1051.8 671.7L1051.8 674.1L1047.2 674.1ZM793.1 702.4L795.2 702.4L795.2 706.2L793.1 706.2ZM1125.1 703.1L1129.7 703.1L1129.7 706.1L1125.1 706.1ZM1046.3 687.7L1049.7 687.7L1049.7 690.8L1046.3 690.8ZM1138.4 705.5L1140.6 705.5L1140.6 709.6L1138.4 709.6ZM1051 673.5L1056.2 673.5L1056.2 676.6L1051 676.6ZM789.8 704.2L793.5 704.2L793.5 707.2L789.8 707.2ZM897.7 687.7L902.5 687.7L902.5 691.8L897.7 691.8ZM1090.4 699.9L1095.2 699.9L1095.2 704.1L1090.4 704.1ZM1109.2 693.9L1111.6 693.9L1111.6 697.3L1109.2 697.3ZM1106.9 691.3L1109.3 691.3L1109.3 694.1L1106.9 694.1ZM1127.3 706.6L1131.8 706.6L1131.8 708.4L1127.3 708.4ZM805.1 708.6L807.3 708.6L807.3 711.1L805.1 711.1ZM848.4 713.4L852 713.4L852 717.4L848.4 717.4ZM988.7 683.6L994 683.6L994 687.6L988.7 687.6ZM967.8 676.1L972.8 676.1L972.8 680L967.8 680ZM999 671.4L1002.2 671.4L1002.2 673.3L999 673.3ZM1195.5 684.8L1198.6 684.8L1198.6 686.8L1195.5 686.8ZM1151.3 691.6L1155 691.6L1155 693.3L1151.3 693.3ZM971.1 676L976.1 676L976.1 677.6L971.1 677.6ZM841 696.8L846.2 696.8L846.2 699.2L841 699.2ZM813.7 716.5L818.9 716.5L818.9 719.3L813.7 719.3ZM994.2 677.8L998.1 677.8L998.1 681.6L994.2 681.6ZM786.8 709.7L791.4 709.7L791.4 711.4L786.8 711.4ZM761.4 746.3L765 746.3L765 750.2L761.4 750.2ZM1032.5 686.6L1034.7 686.6L1034.7 688.3L1032.5 688.3ZM837.5 706.9L841.3 706.9L841.3 709.7L837.5 709.7ZM978.3 667.5L982.7 667.5L982.7 671.6L978.3 671.6ZM1187.7 680.5L1192.6 680.5L1192.6 683.9L1187.7 683.9ZM791.9 701.3L795.1 701.3L795.1 705.1L791.9 705.1ZM1074.1 692.5L1078.4 692.5L1078.4 695.6L1074.1 695.6ZM934.2 697.6L939.2 697.6L939.2 700.8L934.2 700.8ZM1237.4 678.3L1239.6 678.3L1239.6 680.7L1237.4 680.7ZM806.4 728.8L808.5 728.8L808.5 731.8L806.4 731.8ZM1161.9 688.1L1165.6 688.1L1165.6 690.9L1161.9 690.9ZM769.3 708.2L773.6 708.2L773.6 711.2L769.3 711.2ZM782.2 739.3L786 739.3L786 742.8L782.2 742.8ZM1205.8 681.8L1209.3 681.8L1209.3 685.8L1205.8 685.8ZM1161.3 693.4L1164.5 693.4L1164.5 695L1161.3 695ZM765.8 700.8L769.1 700.8L769.1 702.5L765.8 702.5ZM1089.5 688.3L1093 688.3L1093 692.4L1089.5 692.4ZM793 715.2L796.6 715.2L796.6 717.7L793 717.7ZM1080.5 702.8L1083.7 702.8L1083.7 706.1L1080.5 706.1ZM1177.3 697.3L1179.6 697.3L1179.6 701.3L1177.3 701.3ZM1120.8 676.2L1125.8 676.2L1125.8 679.5L1120.8 679.5ZM1126.8 701.9L1132 701.9L1132 704L1126.8 704ZM794.7 708.7L796.7 708.7L796.7 712.2L794.7 712.2ZM1229.2 690.6L1232.8 690.6L1232.8 694L1229.2 694ZM834.9 695.8L838.7 695.8L838.7 699.7L834.9 699.7ZM788.3 728L790.6 728L790.6 730.8L788.3 730.8ZM764.2 704.9L766.1 704.9L766.1 707.3L764.2 707.3ZM892.7 694.3L897.1 694.3L897.1 697.2L892.7 697.2ZM995.8 670.5L998.8 670.5L998.8 674.5L995.8 674.5ZM1157.2 700.5L1161.8 700.5L1161.8 704.2L1157.2 704.2ZM750.3 746.8L753.5 746.8L753.5 748.8L750.3 748.8ZM916.9 686.3L921.4 686.3L921.4 689.6L916.9 689.6ZM1118.7 700L1122.9 700L1122.9 703L1118.7 703ZM839.8 711.3L844.6 711.3L844.6 714.8L839.8 714.8ZM868.9 706.6L871.7 706.6L871.7 710.5L868.9 710.5ZM887.5 694.8L892.6 694.8L892.6 697.1L887.5 697.1ZM860.9 710.1L865.4 710.1L865.4 713.3L860.9 713.3ZM1045.3 683.3L1047.6 683.3L1047.6 685.8L1045.3 685.8ZM1106.6 709.6L1108.6 709.6L1108.6 713.8L1106.6 713.8ZM1058.1 701.1L1061.5 701.1L1061.5 702.7L1058.1 702.7ZM1170.4 689.8L1173.8 689.8L1173.8 693.2L1170.4 693.2ZM928.7 692.9L931.8 692.9L931.8 697L928.7 697ZM940.5 697.3L944.2 697.3L944.2 701.1L940.5 701.1ZM1044.2 677.1L1047.5 677.1L1047.5 680.4L1044.2 680.4ZM937 700.9L940.7 700.9L940.7 703.3L937 703.3ZM751.5 748.1L754.1 748.1L754.1 751.1L751.5 751.1ZM836.9 717.1L839.6 717.1L839.6 719.5L836.9 719.5ZM1040 670.7L1042.8 670.7L1042.8 674.7L1040 674.7ZM953.5 680.4L956.1 680.4L956.1 682L953.5 682ZM1126.3 678.8L1131.3 678.8L1131.3 682.1L1126.3 682.1ZM800.2 708.6L802.2 708.6L802.2 712.4L800.2 712.4ZM1113.1 709.7L1117.9 709.7L1117.9 711.9L1113.1 711.9ZM1234.1 676.7L1236.8 676.7L1236.8 680.8L1234.1 680.8ZM1094.8 701.9L1097.7 701.9L1097.7 705.6L1094.8 705.6ZM1104.5 704.6L1108.1 704.6L1108.1 708.5L1104.5 708.5ZM856.3 705.9L860.8 705.9L860.8 707.9L856.3 707.9ZM1212.3 679.3L1217.5 679.3L1217.5 681.7L1212.3 681.7ZM1114.9 706.2L1118.7 706.2L1118.7 708L1114.9 708ZM1001 668.2L1005.5 668.2L1005.5 672.1L1001 672.1ZM940.9 680.1L943.8 680.1L943.8 683.5L940.9 683.5ZM1127.4 696.6L1130.9 696.6L1130.9 699.8L1127.4 699.8ZM1200.1 675.9L1205 675.9L1205 678.1L1200.1 678.1ZM982.9 680.2L986.7 680.2L986.7 684L982.9 684ZM1097.6 691.4L1101.1 691.4L1101.1 693.8L1097.6 693.8ZM1208.8 678.3L1213.7 678.3L1213.7 681.8L1208.8 681.8ZM1191.3 680.8L1196.7 680.8L1196.7 684.2L1191.3 684.2ZM870.4 711.7L874.9 711.7L874.9 713.5L870.4 713.5ZM1198.8 687.9L1200.8 687.9L1200.8 689.9L1198.8 689.9ZM937.9 689L940.4 689L940.4 692.1L937.9 692.1ZM1188.8 695.8L1191.9 695.8L1191.9 698.8L1188.8 698.8ZM1218.8 680.8L1223.4 680.8L1223.4 682.7L1218.8 682.7ZM1118.1 704.6L1123.3 704.6L1123.3 706.6L1118.1 706.6ZM975.5 673L977.9 673L977.9 675.1L975.5 675.1ZM1200.1 675.5L1205.2 675.5L1205.2 678.6L1200.1 678.6ZM1075.2 710.2L1077.6 710.2L1077.6 712.9L1075.2 712.9ZM1173.5 685L1177.6 685L1177.6 688.3L1173.5 688.3ZM957.8 690.8L961.5 690.8L961.5 694.4L957.8 694.4ZM1212.1 680.4L1215.7 680.4L1215.7 684.2L1212.1 684.2ZM1112.5 706.4L1117.5 706.4L1117.5 710.3L1112.5 710.3ZM1032 679.1L1035.8 679.1L1035.8 682.6L1032 682.6ZM904.7 686.2L906.7 686.2L906.7 689.1L904.7 689.1ZM1090.6 683.7L1093.2 683.7L1093.2 687.4L1090.6 687.4ZM1027.7 678.5L1030.4 678.5L1030.4 682.5L1027.7 682.5ZM971.6 673.7L973.8 673.7L973.8 675.7L971.6 675.7ZM767.1 752.8L772.4 752.8L772.4 756.6L767.1 756.6ZM795 709.4L797.5 709.4L797.5 712.9L795 712.9ZM1087.8 678.4L1089.8 678.4L1089.8 682L1087.8 682ZM799.1 738.1L802.3 738.1L802.3 741.7L799.1 741.7ZM883.1 698.6L886.9 698.6L886.9 702L883.1 702ZM1121.6 694.2L1123.9 694.2L1123.9 698.2L1121.6 698.2ZM961.2 692.4L965.4 692.4L965.4 695.5L961.2 695.5ZM1225.8 673.9L1230.4 673.9L1230.4 676.2L1225.8 676.2ZM888.3 708.2L893.1 708.2L893.1 711.3L888.3 711.3ZM1119.9 696.5L1122.9 696.5L1122.9 699.9L1119.9 699.9ZM1056.8 692.9L1059.9 692.9L1059.9 696.1L1056.8 696.1ZM858.2 697.8L862.8 697.8L862.8 701.5L858.2 701.5ZM956 696.4L960.6 696.4L960.6 698.6L956 698.6ZM940.7 682.7L943.1 682.7L943.1 686.1L940.7 686.1ZM776.8 701.3L780.3 701.3L780.3 703.7L776.8 703.7ZM1167.8 689.2L1170.4 689.2L1170.4 693.1L1167.8 693.1ZM899 693.2L904.1 693.2L904.1 695.1L899 695.1ZM837 712.5L841.3 712.5L841.3 714.9L837 714.9ZM1192.4 682.1L1196.3 682.1L1196.3 684.2L1192.4 684.2ZM961.7 674.7L965.4 674.7L965.4 678.2L961.7 678.2ZM776.1 693.8L779.3 693.8L779.3 697.9L776.1 697.9ZM1228.3 674.7L1230.7 674.7L1230.7 678.2L1228.3 678.2ZM998.1 685L1000.5 685L1000.5 688.3L998.1 688.3ZM828.8 702.5L833.6 702.5L833.6 705L828.8 705ZM1130.9 691.2L1134.2 691.2L1134.2 693.8L1130.9 693.8ZM815.3 714.9L819 714.9L819 718.9L815.3 718.9ZM768.7 703.1L771.3 703.1L771.3 707.1L768.7 707.1ZM992.1 682L994.7 682L994.7 686L992.1 686ZM797.2 727.9L800.6 727.9L800.6 731.7L797.2 731.7ZM956.6 675.1L960 675.1L960 678.7L956.6 678.7ZM830.5 711.6L833.4 711.6L833.4 713.5L830.5 713.5ZM1181.5 681.7L1185.4 681.7L1185.4 684.2L1181.5 684.2ZM1206.1 681.3L1211.6 681.3L1211.6 685.3L1206.1 685.3ZM1122 696.8L1126.9 696.8L1126.9 699.8L1122 699.8ZM1050.3 682.3L1052.4 682.3L1052.4 684.4L1050.3 684.4ZM792.5 717.8L796 717.8L796 721.6L792.5 721.6ZM1120.6 695.1L1122.9 695.1L1122.9 699.2L1120.6 699.2ZM834.3 704.1L836.4 704.1L836.4 706L834.3 706ZM988.5 686.1L992.1 686.1L992.1 688.4L988.5 688.4ZM1022.2 678.2L1025.1 678.2L1025.1 682L1022.2 682ZM1032.6 679.5L1036.5 679.5L1036.5 682.3L1032.6 682.3ZM834.4 698.2L836.9 698.2L836.9 700.6L834.4 700.6ZM950.8 679.4L954.2 679.4L954.2 682L950.8 682ZM835 703.2L839.8 703.2L839.8 704.9L835 704.9ZM1096.4 706.8L1101.6 706.8L1101.6 708.4L1096.4 708.4ZM922.3 689.5L926.1 689.5L926.1 693L922.3 693ZM957 676.1L961.7 676.1L961.7 678L957 678ZM1108.3 693L1112.8 693L1112.8 695.8L1108.3 695.8ZM1095.4 702.9L1098.7 702.9L1098.7 706.1L1095.4 706.1ZM1232 678.7L1234.1 678.7L1234.1 681L1232 681ZM929.3 700.1L931.9 700.1L931.9 704.1L929.3 704.1ZM774.3 755.9L778.4 755.9L778.4 758.4L774.3 758.4ZM752.8 742.6L757.2 742.6L757.2 746.6L752.8 746.6ZM813.4 718.5L818.8 718.5L818.8 720.6L813.4 720.6ZM834.2 698.3L836.3 698.3L836.3 700.3L834.2 700.3ZM832.8 713.2L838.2 713.2L838.2 715.9L832.8 715.9ZM1086 679.9L1089.5 679.9L1089.5 681.6L1086 681.6ZM884.1 703.2L886.6 703.2L886.6 704.8L884.1 704.8ZM1012.7 672.9L1017.5 672.9L1017.5 675.6L1012.7 675.6ZM1091.7 697.7L1096.8 697.7L1096.8 700.2L1091.7 700.2ZM1160.8 701.4L1165.4 701.4L1165.4 703.5L1160.8 703.5ZM1131.9 690.1L1137 690.1L1137 693.7L1131.9 693.7ZM1124.9 678.1L1128.6 678.1L1128.6 682.2L1124.9 682.2ZM1036.2 680.8L1040.9 680.8L1040.9 682.9L1036.2 682.9ZM775.4 698L780 698L780 701.3L775.4 701.3ZM886.1 702.9L889 702.9L889 706.7L886.1 706.7ZM984.4 679.6L989.3 679.6L989.3 682L984.4 682ZM1153.4 695L1158.4 695L1158.4 696.7L1153.4 696.7ZM867.3 704.5L871.3 704.5L871.3 707.3L867.3 707.3ZM803.2 734.6L808.4 734.6L808.4 737.6L803.2 737.6ZM1236.5 680.2L1238.4 680.2L1238.4 683.7L1236.5 683.7ZM871.2 715.2L873.4 715.2L873.4 717.9L871.2 717.9ZM837.9 715.2L841.1 715.2L841.1 717.5L837.9 717.5ZM1204.4 681.1L1208.7 681.1L1208.7 683.7L1204.4 683.7ZM984.8 680.5L987.7 680.5L987.7 684.5L984.8 684.5ZM908.7 691.7L914 691.7L914 693.6L908.7 693.6ZM806.8 724.2L810.4 724.2L810.4 727.4L806.8 727.4ZM1138.4 706L1143.1 706L1143.1 709L1138.4 709ZM781.1 740.9L785.2 740.9L785.2 744.8L781.1 744.8ZM884.3 703L889.2 703L889.2 704.9L884.3 704.9ZM1182.1 690.9L1186.3 690.9L1186.3 692.8L1182.1 692.8ZM1081 691L1085.7 691L1085.7 693.2L1081 693.2ZM777.1 744.8L779.6 744.8L779.6 747.4L777.1 747.4ZM1223.6 679.2L1227.2 679.2L1227.2 682.6L1223.6 682.6ZM1037.5 688.1L1040.1 688.1L1040.1 691.5L1037.5 691.5ZM822.8 712.1L825 712.1L825 714.1L822.8 714.1ZM808.4 726L811.7 726L811.7 728.4L808.4 728.4ZM954 694.6L957.6 694.6L957.6 696.6L954 696.6ZM1005.9 674.1L1011 674.1L1011 676L1005.9 676ZM974 667.4L976.9 667.4L976.9 669.9L974 669.9ZM1086.8 691.2L1091.6 691.2L1091.6 694.2L1086.8 694.2ZM1104.6 707.4L1106.7 707.4L1106.7 710.1L1104.6 710.1ZM1031.8 675.5L1035 675.5L1035 678.9L1031.8 678.9ZM961.4 681.9L966.2 681.9L966.2 684.2L961.4 684.2ZM788.7 739.5L791.4 739.5L791.4 741.2L788.7 741.2ZM1185.1 680.5L1189 680.5L1189 683L1185.1 683ZM1157.8 702.3L1160.5 702.3L1160.5 704.6L1157.8 704.6ZM985.3 689.1L988 689.1L988 692.4L985.3 692.4ZM1121 693.1L1124.6 693.1L1124.6 696.2L1121 696.2ZM1220 681.7L1224.7 681.7L1224.7 683.8L1220 683.8ZM997.4 681.3L1002.4 681.3L1002.4 683.7L997.4 683.7ZM826 703.1L828.9 703.1L828.9 705.2L826 705.2ZM1150.9 695.1L1154 695.1L1154 698.2L1150.9 698.2ZM1233.5 687.1L1237.9 687.1L1237.9 690.8L1233.5 690.8ZM1217.8 679.6L1222.8 679.6L1222.8 682.3L1217.8 682.3ZM798.5 727.5L801.1 727.5L801.1 729.6L798.5 729.6ZM929.5 689L933.7 689L933.7 691.5L929.5 691.5ZM873.8 697.3L878.8 697.3L878.8 699.9L873.8 699.9ZM858.9 705.2L862 705.2L862 706.9L858.9 706.9ZM1169.3 698.9L1174.2 698.9L1174.2 702.4L1169.3 702.4ZM953.3 686.2L958.3 686.2L958.3 689.4L953.3 689.4ZM929.1 693.4L932.7 693.4L932.7 696.5L929.1 696.5ZM839.3 703.9L844.1 703.9L844.1 706.6L839.3 706.6ZM829.3 719.3L833.4 719.3L833.4 721.2L829.3 721.2ZM784.4 709.7L786.6 709.7L786.6 713.7L784.4 713.7ZM779.2 740.2L783 740.2L783 743.3L779.2 743.3ZM801.9 716.3L805.8 716.3L805.8 719.1L801.9 719.1ZM1032.9 677.9L1036.8 677.9L1036.8 679.8L1032.9 679.8ZM830.1 719.4L832.6 719.4L832.6 723.4L830.1 723.4ZM1219.3 686.4L1223.1 686.4L1223.1 689L1219.3 689ZM1126 696.2L1131 696.2L1131 698.2L1126 698.2ZM1146.4 692L1148.7 692L1148.7 695.3L1146.4 695.3ZM1124.5 679.5L1128.1 679.5L1128.1 681.7L1124.5 681.7ZM900.8 690.8L905 690.8L905 692.5L900.8 692.5ZM1052.3 698.6L1054.3 698.6L1054.3 701.6L1052.3 701.6ZM873.3 698.6L877.2 698.6L877.2 702.7L873.3 702.7ZM976.1 685.6L978.3 685.6L978.3 689.4L976.1 689.4ZM1055.6 693.5L1058.1 693.5L1058.1 695.3L1055.6 695.3ZM1152.7 690.9L1157.8 690.9L1157.8 692.8L1152.7 692.8ZM1059.1 679.8L1061.6 679.8L1061.6 681.4L1059.1 681.4ZM889 711.7L893.8 711.7L893.8 713.8L889 713.8ZM961.8 686.8L964.3 686.8L964.3 688.6L961.8 688.6ZM934.9 680.9L939 680.9L939 683.7L934.9 683.7ZM797.2 729.3L800 729.3L800 732.1L797.2 732.1ZM1163.4 701.3L1168.8 701.3L1168.8 704.8L1163.4 704.8ZM754.3 743.9L757.8 743.9L757.8 747.8L754.3 747.8ZM949.7 679.1L953.6 679.1L953.6 681.6L949.7 681.6ZM821.6 709.1L825.7 709.1L825.7 713.2L821.6 713.2ZM836 704.8L839.6 704.8L839.6 706.5L836 706.5ZM1226.4 681.6L1230.8 681.6L1230.8 684.6L1226.4 684.6ZM1057.3 685.6L1061.5 685.6L1061.5 689.1L1057.3 689.1ZM1184.8 696.4L1190 696.4L1190 698.7L1184.8 698.7ZM1030.1 689.1L1032.2 689.1L1032.2 692.1L1030.1 692.1ZM1102 702.5L1104.1 702.5L1104.1 706.3L1102 706.3Z" fill="#fff400"/>
<path d="M960.9 673.7L964.6 673.7L964.6 677.3L960.9 677.3ZM764 706L766.3 706L766.3 708.5L764 708.5ZM847.4 692.1L850.7 692.1L850.7 694.7L847.4 694.7ZM798.6 710.2L800.8 710.2L800.8 711.6L798.6 711.6ZM776.4 718L781 718L781 720.5L776.4 720.5ZM854.2 700.1L856 700.1L856 702.8L854.2 702.8ZM1159.8 677.7L1163.5 677.7L1163.5 680.2L1159.8 680.2ZM1171.5 690.6L1174.4 690.6L1174.4 693L1171.5 693ZM772 711.8L775.3 711.8L775.3 715L772 715ZM1150.6 694.7L1152.7 694.7L1152.7 696.2L1150.6 696.2ZM770.8 710.1L773.6 710.1L773.6 713L770.8 713ZM1030.2 673.9L1034.2 673.9L1034.2 676.1L1030.2 676.1ZM1183.9 676.2L1188.4 676.2L1188.4 679.1L1183.9 679.1ZM1112.8 691.9L1116 691.9L1116 693.7L1112.8 693.7ZM1187.5 673.9L1191.1 673.9L1191.1 676.7L1187.5 676.7ZM806.5 714.1L810.8 714.1L810.8 717.5L806.5 717.5ZM856 702.7L857.9 702.7L857.9 704.2L856 704.2ZM1227 671.9L1229.4 671.9L1229.4 674.9L1227 674.9ZM879 692.1L882.8 692.1L882.8 694.1L879 694.1ZM967.5 675.2L971 675.2L971 677.6L967.5 677.6ZM1067 692.7L1069.1 692.7L1069.1 695.2L1067 695.2ZM888.2 690.3L891.3 690.3L891.3 692.4L888.2 692.4ZM1057.5 677.3L1059.3 677.3L1059.3 680.6L1057.5 680.6ZM1044.2 677.2L1048 677.2L1048 678.8L1044.2 678.8ZM771 732L774.7 732L774.7 735.7L771 735.7ZM1109.3 692.1L1111.9 692.1L1111.9 695.6L1109.3 695.6ZM827.7 702.4L830.9 702.4L830.9 705L827.7 705ZM1121.2 681.3L1123.4 681.3L1123.4 683.1L1121.2 683.1ZM795.3 689.9L799.7 689.9L799.7 692L795.3 692ZM1122.1 682.7L1125.6 682.7L1125.6 685.4L1122.1 685.4ZM778.1 738.2L782.9 738.2L782.9 740.8L778.1 740.8ZM770.1 691.3L773.5 691.3L773.5 694.1L770.1 694.1ZM827.6 699.5L830.4 699.5L830.4 701.1L827.6 701.1ZM846.2 704.6L850.3 704.6L850.3 707.3L846.2 707.3ZM1057.4 680.9L1059.7 680.9L1059.7 683.9L1057.4 683.9ZM875 697.4L878.9 697.4L878.9 699L875 699ZM1153.3 676.8L1157.6 676.8L1157.6 680L1153.3 680ZM1156.1 677.9L1158.2 677.9L1158.2 679.4L1156.1 679.4ZM1151.1 692.2L1153.3 692.2L1153.3 694.2L1151.1 694.2ZM771.4 689.6L776.1 689.6L776.1 692.7L771.4 692.7ZM773.3 733.7L777.1 733.7L777.1 737L773.3 737ZM1154.4 678.9L1156.1 678.9L1156.1 680.8L1154.4 680.8ZM1091.7 680.1L1094.8 680.1L1094.8 681.8L1091.7 681.8ZM1172.2 688.1L1176.5 688.1L1176.5 691.4L1172.2 691.4ZM1198.5 686.3L1200.7 686.3L1200.7 689.3L1198.5 689.3ZM926.2 687.3L929.8 687.3L929.8 689L926.2 689ZM889.5 698.9L894 698.9L894 700.4L889.5 700.4ZM1192.1 684.6L1194 684.6L1194 686.7L1192.1 686.7ZM1106.3 689.2L1109.8 689.2L1109.8 691.2L1106.3 691.2ZM1123.1 684.9L1125.5 684.9L1125.5 686.5L1123.1 686.5ZM816.2 715.6L817.9 715.6L817.9 717.7L816.2 717.7ZM786.1 741L788.3 741L788.3 743.9L786.1 743.9ZM791 734.5L794.6 734.5L794.6 736.6L791 736.6ZM1120.4 683.5L1122.6 683.5L1122.6 686L1120.4 686ZM1104 696.8L1108.2 696.8L1108.2 700.2L1104 700.2ZM782.3 735L786.3 735L786.3 738.1L782.3 738.1ZM882.7 692.5L885 692.5L885 695.5L882.7 695.5ZM1253.7 664.8L1255.4 664.8L1255.4 667.1L1253.7 667.1ZM991.1 678.1L993.4 678.1L993.4 681.3L991.1 681.3ZM971.9 673.5L975 673.5L975 675.5L971.9 675.5ZM1126.9 684.5L1130.7 684.5L1130.7 686.5L1126.9 686.5ZM889.9 692.1L892.1 692.1L892.1 695L889.9 695ZM1206.8 670.7L1210.3 670.7L1210.3 672.7L1206.8 672.7ZM1083.7 688L1085.5 688L1085.5 690L1083.7 690ZM987 680.4L991.3 680.4L991.3 682.5L987 682.5ZM811.5 707.2L813.4 707.2L813.4 710L811.5 710ZM883.9 696.9L886.8 696.9L886.8 699.9L883.9 699.9ZM951.5 680.6L953.7 680.6L953.7 682L951.5 682ZM924.4 680.6L926.1 680.6L926.1 683.7L924.4 683.7ZM1177.1 680.3L1180.4 680.3L1180.4 683.3L1177.1 683.3ZM979.6 668.5L984.1 668.5L984.1 671.1L979.6 671.1ZM1225.9 673.3L1228.5 673.3L1228.5 674.9L1225.9 674.9ZM791.8 734L796.4 734L796.4 736.2L791.8 736.2ZM871.3 696.1L874.8 696.1L874.8 697.5L871.3 697.5ZM872.3 699.5L875.6 699.5L875.6 701.9L872.3 701.9ZM831.6 701.5L833.9 701.5L833.9 703.9L831.6 703.9ZM786.9 719.3L790.3 719.3L790.3 722.1L786.9 722.1ZM790.4 723.4L793 723.4L793 725.7L790.4 725.7ZM1039.3 673.6L1041 673.6L1041 676.2L1039.3 676.2ZM1184.9 680.6L1188.3 680.6L1188.3 682.8L1184.9 682.8ZM1113.7 698.1L1116.4 698.1L1116.4 700.2L1113.7 700.2ZM1228.1 678.7L1229.8 678.7L1229.8 682.3L1228.1 682.3ZM1133.2 689.3L1135.7 689.3L1135.7 691.5L1133.2 691.5ZM954.2 668.8L958.6 668.8L958.6 671.4L954.2 671.4ZM1074.3 688.9L1077.9 688.9L1077.9 691.1L1074.3 691.1ZM1208.2 672.5L1210.3 672.5L1210.3 676.1L1208.2 676.1ZM912 678.5L914.7 678.5L914.7 681.7L912 681.7ZM891.8 693.9L895.3 693.9L895.3 696.1L891.8 696.1ZM917.5 685.9L919.5 685.9L919.5 688.5L917.5 688.5ZM776.8 711.9L780.9 711.9L780.9 715.1L776.8 715.1ZM1029.3 674.2L1033.5 674.2L1033.5 675.7L1029.3 675.7ZM1083.4 678.1L1088 678.1L1088 680.1L1083.4 680.1ZM1111.3 693.4L1114.9 693.4L1114.9 695.5L1111.3 695.5ZM1042.7 666.5L1046.4 666.5L1046.4 670L1042.7 670ZM895.2 688.2L899 688.2L899 691.7L895.2 691.7ZM1030.1 670.5L1032.5 670.5L1032.5 672.7L1030.1 672.7ZM1179.9 684.5L1181.9 684.5L1181.9 686.5L1179.9 686.5ZM866.4 694.7L871 694.7L871 697.2L866.4 697.2ZM785.1 717.4L787.5 717.4L787.5 719.4L785.1 719.4ZM1051.2 681.3L1055.9 681.3L1055.9 684.9L1051.2 684.9ZM854.6 702.1L859 702.1L859 705.1L854.6 705.1ZM1108 686.7L1111.9 686.7L1111.9 689.4L1108 689.4ZM970 673.4L974.6 673.4L974.6 676.1L970 676.1ZM1151.1 677.9L1154.7 677.9L1154.7 681.1L1151.1 681.1ZM1049 670.1L1051 670.1L1051 673.4L1049 673.4ZM1165.8 688.2L1170 688.2L1170 691L1165.8 691ZM1064.8 695L1067.2 695L1067.2 698.6L1064.8 698.6ZM830.6 698.8L834.6 698.8L834.6 701.8L830.6 701.8ZM790.4 715.6L795.1 715.6L795.1 719.1L790.4 719.1ZM1093.4 681.1L1095.4 681.1L1095.4 683.2L1093.4 683.2ZM1153.1 679L1155.1 679L1155.1 681.3L1153.1 681.3ZM993.3 673L995.5 673L995.5 675.9L993.3 675.9ZM937.6 680.8L940.6 680.8L940.6 684.3L937.6 684.3ZM1237.9 672.9L1241.1 672.9L1241.1 674.5L1237.9 674.5ZM788 719.3L791.6 719.3L791.6 720.8L788 720.8ZM1050.8 673.5L1054.6 673.5L1054.6 676.4L1050.8 676.4ZM789.6 724.5L794.3 724.5L794.3 728.1L789.6 728.1ZM912.9 683.5L915.2 683.5L915.2 685.4L912.9 685.4ZM1134.1 678.8L1136.5 678.8L1136.5 681.7L1134.1 681.7ZM1236.2 673.9L1240.9 673.9L1240.9 676.8L1236.2 676.8ZM1242.1 669L1246.5 669L1246.5 672.3L1242.1 672.3ZM965 668L969.7 668L969.7 670.5L965 670.5ZM1136.1 699.5L1140.5 699.5L1140.5 701.6L1136.1 701.6ZM978.9 666.8L981 666.8L981 670.4L978.9 670.4ZM1134.1 686.9L1136 686.9L1136 689.1L1134.1 689.1ZM1092.7 686.6L1097.1 686.6L1097.1 688.5L1092.7 688.5ZM1124.4 677.7L1126.7 677.7L1126.7 680.6L1124.4 680.6ZM769.6 705.1L772.8 705.1L772.8 707.5L769.6 707.5ZM854.9 699.2L856.7 699.2L856.7 701.1L854.9 701.1ZM1038.1 669L1041 669L1041 671.7L1038.1 671.7ZM826.2 699.6L828.1 699.6L828.1 701L826.2 701ZM756.8 697.5L759.7 697.5L759.7 701.1L756.8 701.1ZM1115.6 695L1118.1 695L1118.1 696.8L1115.6 696.8ZM823.3 699.4L825.9 699.4L825.9 702.8L823.3 702.8ZM1120.9 676.4L1124.3 676.4L1124.3 679L1120.9 679ZM772.3 695.2L776.5 695.2L776.5 698.5L772.3 698.5ZM1092.8 679.9L1096.2 679.9L1096.2 682.7L1092.8 682.7ZM1133 690.5L1137.4 690.5L1137.4 693.6L1133 693.6ZM1143.6 696.9L1147.5 696.9L1147.5 698.9L1143.6 698.9ZM1204.3 680.1L1208.8 680.1L1208.8 683L1204.3 683ZM790.6 697.3L795.2 697.3L795.2 698.7L790.6 698.7ZM1128.9 682.2L1131.2 682.2L1131.2 685.2L1128.9 685.2ZM864.8 694L867.2 694L867.2 695.5L864.8 695.5ZM1159.6 689.8L1162.9 689.8L1162.9 692.4L1159.6 692.4ZM788.3 691.3L792.6 691.3L792.6 692.9L788.3 692.9ZM849.9 704.3L854 704.3L854 707L849.9 707ZM848.2 701.4L852.7 701.4L852.7 703.7L848.2 703.7ZM1066 683.6L1069.2 683.6L1069.2 685.5L1066 685.5ZM1150.1 694.3L1152.5 694.3L1152.5 697.8L1150.1 697.8ZM769.6 732.8L774.2 732.8L774.2 735.6L769.6 735.6ZM1171.9 683.2L1176.3 683.2L1176.3 684.9L1171.9 684.9ZM847.3 695.2L851.9 695.2L851.9 698.5L847.3 698.5ZM943.2 679.9L947.4 679.9L947.4 681.7L943.2 681.7ZM911.1 691.6L913 691.6L913 693.5L911.1 693.5ZM1062.1 693.1L1066.1 693.1L1066.1 694.8L1062.1 694.8ZM1109.6 695.5L1111.4 695.5L1111.4 697.4L1109.6 697.4ZM1116.7 690L1120.5 690L1120.5 691.9L1116.7 691.9ZM1018.6 669.2L1021.9 669.2L1021.9 671.2L1018.6 671.2ZM810.3 705.9L813.5 705.9L813.5 708L810.3 708ZM818.8 710L822.8 710L822.8 713.6L818.8 713.6Z" fill="#e2c800"/>
</g>
<path d="M1067.5 263.8 L1071.2 260.0 L1082.5 256.2 L1084.5 258.8 L1077.5 263.8 L1070.0 267.0Z" fill="#4d4d4d"/>
<path d="M428.7 649.9 L431.2 649.3 L432.1 652.4 L430.0 653.9 L428.2 651.8Z" fill="#8b1a1a"/>
<path d="M448.7 644.9 L452.7 644.3 L456.2 647.4 L453.7 649.5 L449.9 648.0Z" fill="#8b1a1a"/>
<path d="M448.1 655.9 L450.6 655.5 L454.9 662.4 L453.1 663.9 L449.3 659.9Z" fill="#8b1a1a"/>
<path d="M438.7 643.9 L440.6 643.9 L440.6 645.7 L438.7 645.7Z" fill="#8b1a1a"/>
<path d="M420.0 628.9 L432.5 629.7 L432.5 632.2 L420.0 632.2Z" fill="#8b1a1a"/>
<path d="M1437.9 440.0 L1440.9 439.5 L1441.9 442.5 L1438.4 443.6Z" fill="#0000cd"/>
<path d="M1199.0 877.2 L1202.4 877.2 L1202.4 879.7 L1199.0 879.7Z" fill="#006400"/>
<path d="M1216.0 878.9 L1219.4 878.3 L1219.8 880.6 L1216.3 880.9Z" fill="#006400"/>
<path d="M1223.7 876.8 L1234.7 873.7 L1235.8 876.3 L1226.2 880.7Z" fill="#006400"/>
<path d="M1237.3 875.5 L1241.6 874.9 L1241.9 877.2 L1237.6 877.5Z" fill="#006400"/>
<path d="M1244.1 872.0 L1255.2 861.8 L1257.7 855.9 L1259.3 857.6 L1257.2 864.4 L1247.0 874.6Z" fill="#006400"/>
<path d="M1214.6 821.8 L1218.6 825.2 L1221.1 832.0 L1217.7 832.9 L1215.2 826.9Z" fill="#006400"/>
<g fill="none" stroke="#000" stroke-width="3.6" stroke-linejoin="round" stroke-linecap="round">
<path d="M361.2 235.5 L359.6 235.7 L360.5 241.8 L355.4 246.0 L357.1 251.9 L360.5 252.8 L359.6 257.0 L352.1 257.4 L343.6 256.5 L333.6 254.9 L324.3 251.1 L319.3 250.2 L319.7 258.6 L322.6 264.5 L326.8 270.4 L328.5 277.1 L331.0 283.9 L332.5 290.0 L335.0 297.5 L333.8 307.5 L336.2 320.0 L333.8 340.0 L332.5 365.0 L328.8 385.0 L323.8 397.5 L326.2 407.5 L327.5 420.0 L331.2 438.0 L326.2 458.0 L335.0 473.0 L340.0 488.0 L341.2 500.5 L350.0 510.5 L357.5 523.0 L367.5 524.2 L368.8 543.0 L377.5 553.0 L380.0 565.5 L386.2 578.0 L395.0 588.0 L402.5 598.0 L406.2 608.0 L410.0 616.8 L425.0 618.0 L435.0 623.0 L445.0 630.5 L455.0 635.5 L465.0 638.0 L472.5 645.5 L477.5 655.5 L480.0 661.0 L480.0 668.5 L528.8 664.0 L528.8 668.5 L606.2 701.0 L667.5 701.0 L667.5 689.8 L702.5 686.0 L703.8 690.2 L712.5 701.5 L722.5 711.5 L732.5 719.0 L740.0 727.8 L743.8 737.8 L748.8 746.5 L757.5 754.0 L767.5 760.2 L773.8 762.8 L778.8 757.8 L782.5 746.5 L790.0 741.5 L800.0 742.0 L810.0 742.8 L817.5 749.0 L823.8 757.8 L828.8 767.8 L833.8 779.0 L840.0 789.0 L846.2 799.0 L851.2 806.5 L852.5 816.5 L857.5 826.5 L862.5 832.8 L872.5 836.5 L880.0 840.2 L890.0 841.5 L900.0 842.8 L897.5 831.5 L893.8 821.5 L892.5 811.5 L891.2 804.0 L893.8 794.0 L898.8 786.5 L907.5 779.0 L917.5 772.8 L927.5 767.8 L937.5 760.2 L946.2 751.5 L952.5 745.2 L962.5 744.0 L969.4 741.6 L980.4 740.8 L991.4 744.7 L1000.9 747.9 L1005.6 743.1 L1013.4 741.6 L1019.7 746.3 L1026.0 751.0 L1030.7 757.3 L1035.4 760.4 L1041.7 755.7 L1048.0 757.3 L1052.7 751.0 L1057.4 754.1 L1062.1 760.4 L1065.3 763.6 L1071.6 758.9 L1070.0 755.7 L1063.7 752.6 L1059.0 746.3 L1062.1 741.6 L1066.9 736.9 L1068.4 732.9 L1063.7 730.6 L1068.4 726.6 L1076.3 724.3 L1084.1 725.1 L1088.9 724.3 L1092.0 714.9 L1095.1 724.3 L1093.6 729.0 L1101.4 725.9 L1107.7 721.1 L1114.0 722.7 L1123.4 721.9 L1132.9 724.3 L1140.7 729.0 L1145.4 735.3 L1148.6 743.1 L1154.9 742.4 L1164.3 738.4 L1170.6 733.7 L1176.9 733.7 L1183.1 738.4 L1189.4 746.3 L1195.7 754.1 L1200.7 757.0 L1206.6 763.9 L1206.6 774.1 L1204.1 784.3 L1202.4 791.1 L1206.6 797.9 L1206.6 804.7 L1210.9 813.3 L1214.3 820.1 L1220.3 825.2 L1222.8 835.4 L1224.5 842.2 L1231.3 847.3 L1235.6 855.9 L1238.2 863.0 L1245.0 863.0 L1253.5 859.6 L1258.6 850.7 L1261.2 840.5 L1262.0 825.2 L1258.6 813.3 L1253.5 799.6 L1250.1 787.7 L1245.0 774.1 L1241.6 760.4 L1236.2 739.0 L1232.5 724.0 L1231.2 715.2 L1230.0 706.5 L1233.8 696.5 L1240.0 686.5 L1247.5 674.0 L1250.0 669.0 L1272.5 661.0 L1278.8 650.5 L1285.0 640.5 L1292.5 634.2 L1300.0 634.2 L1307.5 630.5 L1315.0 623.0 L1325.0 615.5 L1336.2 611.8 M1345.0 605.5 M1356.2 598.0 M1358.0 590.5 M1356.2 580.5 L1352.5 570.5 L1350.0 560.5 L1348.8 550.5 L1352.5 543.0 L1357.5 533.0 L1364.5 524.2 L1367.0 514.1 L1367.0 505.7 L1364.5 500.7 L1360.3 493.9 L1356.9 485.5 L1354.4 480.5 L1355.7 479.3 L1359.1 485.9 L1362.8 493.6 L1367.5 500.7 L1371.6 499.3 L1374.6 494.8 L1381.3 485.5 L1386.4 475.4 L1388.9 465.3 L1390.0 458.0 L1392.5 445.5 L1390.4 462.7 L1388.4 459.7 L1405.6 457.7 L1420.7 452.1 L1434.8 445.6 L1434.3 442.0 L1425.8 440.5 L1430.8 435.0 L1436.8 436.0 L1443.9 433.5 L1446.9 429.4 L1451.0 427.4 L1456.0 430.4 L1454.0 437.5 L1459.0 439.0 L1464.1 436.5 L1466.1 432.5 L1471.1 430.4 L1475.2 427.4 L1474.2 421.4 L1471.1 417.3 L1467.1 417.3 L1468.1 422.4 L1470.1 425.4 L1465.1 426.4 L1462.1 425.4 L1461.1 420.4 L1459.0 415.3 L1455.0 412.3 L1451.0 411.3 L1450.0 409.3 L1454.0 406.2 L1458.0 403.2 L1459.0 401.7 L1456.0 398.2 L1457.0 391.1 L1461.1 386.1 L1465.1 380.0 L1465.0 381.2 L1475.0 373.8 L1485.0 367.5 L1493.8 361.2 L1497.5 353.8 L1505.0 360.0 L1515.0 356.2 L1527.5 351.2 L1536.2 346.2 L1535.0 340.0 L1528.8 335.0 L1527.5 325.0 L1520.8 322.5 L1520.0 286.2 L1508.8 277.5 L1493.8 281.2 L1490.0 275.0 L1480.0 285.0 L1471.2 297.5 L1466.2 310.0 L1460.0 322.5 L1452.5 331.2 L1442.5 333.8 L1440.0 339.5 L1400.0 340.0 L1370.0 340.0 L1360.0 345.0 L1350.0 353.8 L1338.8 365.0 L1342.5 367.5 L1338.8 378.8 L1325.0 385.0 L1312.5 387.5 L1300.0 383.8 L1283.8 385.0 L1282.5 390.0 L1286.2 397.5 L1280.0 402.5 L1267.5 412.5 L1255.0 417.5 L1240.0 423.8 L1225.0 432.5 L1215.0 432.5 L1207.5 436.2 L1200.0 433.8 L1190.0 427.5 L1193.8 422.5 L1197.5 415.0 L1206.2 405.0 L1211.2 395.0 L1210.0 385.0 L1207.5 370.0 L1202.5 365.0 L1195.0 367.5 L1188.8 372.5 L1182.5 376.2 L1180.0 371.2 L1185.0 365.0 L1191.2 360.0 L1193.8 347.5 L1192.5 335.0 L1185.0 326.2 L1194.0 340.0 L1191.0 332.0 L1185.0 329.0 L1175.0 324.0 L1164.0 319.0 L1160.0 321.0 L1155.0 325.0 L1158.0 330.0 L1150.0 334.0 L1144.0 336.0 L1138.0 343.0 L1130.0 349.2 L1140.0 337.5 L1131.2 345.0 L1126.2 355.0 L1123.8 370.0 L1127.5 385.0 L1131.2 397.5 L1128.8 412.5 L1123.8 422.5 L1115.0 427.5 L1106.2 427.5 L1101.2 417.5 L1097.5 405.0 L1096.2 387.5 L1100.0 370.0 L1103.8 355.0 L1110.0 340.0 L1109.6 321.5 L1115.0 316.1 L1120.3 320.2 L1123.0 322.2 L1128.0 320.0 L1131.0 317.0 L1140.0 315.0 L1148.0 312.5 L1156.0 314.0 L1164.0 319.0 L1172.0 314.5 L1180.0 314.5 L1176.0 309.0 L1175.0 301.0 L1165.0 302.0 L1158.0 301.0 L1157.0 294.0 L1148.0 296.0 L1140.0 295.5 L1131.0 297.0 L1122.0 303.0 L1115.0 300.5 L1109.0 301.0 L1104.0 295.0 L1098.0 291.0 L1090.0 289.5 L1084.0 294.5 L1085.0 290.0 L1092.0 283.0 L1100.0 277.5 L1095.0 275.5 L1085.0 278.0 L1075.0 284.0 L1065.0 291.0 L1053.0 293.0 L1043.0 298.5 L1032.0 298.5 L1035.0 292.0 L1033.0 289.5 L1020.0 293.0 L1010.0 295.0 L1003.0 296.2 L1011.2 292.5 L1022.5 283.8 L1032.5 276.2 L1045.0 268.8 L1062.5 261.2 L1042.5 258.8 L1032.5 255.0 L1025.0 257.5 L1015.0 256.2 L1005.0 253.8 L997.5 247.5 L985.0 245.0 L975.0 247.5 L965.0 243.8 L953.8 240.0 L951.2 226.2 L942.0 226.2 L942.0 235.5 L361.2 235.5" stroke-width="4"/>
<path d="M337.5 308.8 L350.0 308.0 L358.8 313.8 L361.2 322.5 L370.0 325.5 L382.5 323.0 L400.0 323.0 L415.0 320.0 L430.0 316.2 L445.0 314.5 L462.5 313.8 L483.8 313.8"/>
<path d="M482.0 235.0 L482.0 313.8"/>
<path d="M483.8 313.8 L492.5 322.5 L488.8 335.0 L482.5 345.0 L477.5 356.2 L483.8 362.5 L482.0 377.5 L482.0 419.5"/>
<path d="M328.0 419.5 L608.0 419.5"/>
<path d="M503.0 235.0 L503.0 261.2 L507.5 271.2 L512.5 280.0 L522.5 288.8 L530.0 296.2 L537.5 297.5 L536.2 315.0 L535.0 325.0 L540.0 327.5 L546.2 322.5 L552.5 332.5 L557.5 342.5 L565.0 350.0 L570.0 355.0 L582.5 352.5 L597.5 351.2 L603.8 352.5 L608.0 355.0"/>
<path d="M608.0 341.1 L608.0 446.8"/>
<path d="M608.0 341.1 L755.3 341.1"/>
<path d="M755.3 235.0 L755.3 446.8"/>
<path d="M755.5 315.5 L913.0 315.5"/>
<path d="M755.5 393.0 L871.2 393.0 L882.5 400.0 L897.5 398.8 L910.0 401.2"/>
<path d="M419.0 419.5 L419.5 498.0 L531.2 601.8"/>
<path d="M545.5 419.5 L545.5 551.8"/>
<path d="M608.0 446.8 L797.5 446.8 L797.5 551.8"/>
<path d="M650.0 446.8 L650.0 701.0"/>
<path d="M545.5 551.8 L954.5 551.8"/>
<path d="M797.5 472.5 L940.0 472.5"/>
<path d="M777.5 551.8 L777.5 683.5"/>
<path d="M702.5 683.5 L777.5 683.5"/>
<path d="M777.5 565.6 L840.6 565.6 L840.6 616.8"/>
<path d="M546.2 551.8 L546.2 573.0 L540.0 576.8 L531.2 575.5 L530.0 588.0 L531.2 601.8 L536.2 613.0 L541.2 623.0 L535.0 633.0 L532.5 645.5 L531.2 661.0 L528.8 665.5"/>
<path d="M899.5 235.0 L901.2 242.5 L900.0 252.5 L903.8 265.0 L907.5 277.5 L908.8 290.0 L912.5 305.0 L913.0 315.5 L907.5 323.8 L913.8 330.0 L916.2 340.0 L916.2 380.0"/>
<path d="M916.2 380.0 L1025.0 380.0"/>
<path d="M916.2 380.0 L912.5 387.5 L915.0 397.5 L910.0 401.2 L916.2 407.5 L920.0 420.0 L923.8 430.0 L927.5 438.0 L928.8 450.5 L930.0 456.8 L935.0 465.5 L940.0 471.8 L947.5 476.8 L945.0 484.2 L951.2 491.8 L954.5 494.2 L954.5 564.8"/>
<path d="M930.0 456.8 L1017.5 456.8 L1022.5 460.5"/>
<path d="M1003.0 296.2 L1002.5 312.5 L992.5 317.5 L990.0 325.0 L993.0 331.2 L992.0 345.0 L997.5 351.2 L1010.0 357.5 L1017.5 365.0 L1023.8 372.5 L1025.0 380.0 L1027.5 390.0 L1028.8 400.0 L1035.0 407.5 L1045.0 415.0 L1048.8 422.5 L1042.5 432.5 L1030.0 436.2 L1031.2 448.0 L1025.0 456.8 L1021.2 463.0 L1021.2 475.5 L1027.5 485.5 L1035.0 491.8 L1038.8 500.5 L1047.5 503.0 L1046.2 513.0 L1043.8 519.2 L1052.5 526.8 L1058.8 533.0 L1062.5 540.5 L1065.0 548.0 L1071.2 550.5 L1068.8 560.5 L1060.0 568.0 L1056.2 578.0 L1051.2 590.5 L1048.8 600.5 L1045.0 605.5 L1038.8 618.0 L1031.2 630.5 L1026.2 643.0 L1027.5 661.0 L1026.2 657.5 L1030.0 670.0 L1031.2 680.0 L1025.0 690.0 L1020.0 700.0 L1017.5 708.8 L1056.2 709.2 L1058.8 722.5 L1055.0 732.5 L1058.8 724.0 L1055.0 734.0"/>
<path d="M1037.5 407.0 L1098.8 407.0"/>
<path d="M1103.0 427.5 L1103.0 438.0 L1103.0 438.0 L1103.8 488.0 L1100.0 495.5 L1103.8 505.5 L1097.5 515.5 L1092.5 523.0 L1090.0 534.2"/>
<path d="M1106.2 427.5 L1161.2 427.5 L1190.0 427.5"/>
<path d="M1161.2 427.5 L1160.0 438.0 L1160.0 496.8"/>
<path d="M1032.0 298.5 L1047.0 303.0 L1049.0 307.0 L1060.0 310.0 L1070.0 312.0 L1078.0 314.5 L1088.0 316.0 L1092.0 321.0 L1096.0 323.0 L1097.5 330.0 L1100.0 333.0 L1100.0 339.0"/>
<path d="M1071.2 550.5 L1075.0 545.5 L1082.5 545.5 L1087.5 538.0 L1090.0 534.2 L1100.0 529.2 L1112.5 526.8 L1122.5 526.8 L1128.8 520.5 L1135.0 524.2 L1142.5 518.0 L1147.5 508.0 L1157.5 504.2 L1161.2 496.8 L1167.5 496.8 L1175.0 504.2 L1187.5 506.8 L1200.0 506.8 L1207.5 510.5 L1212.5 506.8 L1218.8 499.2 L1227.5 491.8 L1237.5 485.5 L1245.0 475.5 L1247.5 463.0 L1250.0 453.0 L1251.2 438.0 L1251.2 420.0"/>
<path d="M1065.0 564.2 L1093.8 564.2 L1093.8 560.5 L1185.0 561.8 L1350.0 562.2 L1350.0 562.2"/>
<path d="M954.5 564.8 L1047.5 564.8 L1050.0 573.0 L1045.0 578.0 L1056.2 578.0"/>
<path d="M841.2 616.8 L850.0 620.5 L862.5 625.5 L875.0 630.5 L885.0 635.5 L900.0 638.0 L917.5 638.0 L932.5 631.8 L945.0 634.2 L957.5 640.5 L966.2 641.8 L966.2 658.0 L1026.2 658.0"/>
<path d="M954.5 564.8 L957.5 598.0 L958.8 640.5"/>
<path d="M966.2 658.0 L966.2 685.0 L972.5 700.0 L976.2 710.0 L973.8 722.5 L971.2 735.0 L972.5 742.5"/>
<path d="M1092.5 604.2 L1087.5 638.0 L1085.0 661.0 L1085.0 669.0 L1085.0 725.2"/>
<path d="M1143.8 604.2 L1147.5 628.0 L1152.5 661.0 L1152.5 669.0 L1156.2 701.5 L1157.5 716.5 L1216.2 722.8 L1216.2 726.0 L1220.0 726.5 L1221.2 715.2 L1231.2 716.5"/>
<path d="M1105.0 722.8 L1101.2 711.5 L1153.8 709.5"/>
<path d="M1050.0 603.5 L1195.0 603.5"/>
<path d="M1170.0 603.0 L1175.0 595.5 L1187.5 588.0 L1200.0 580.5 L1212.5 573.0 L1225.0 564.2"/>
<path d="M1191.2 604.2 L1191.2 610.5 L1200.0 620.5 L1210.0 635.5 L1220.0 648.0 L1230.0 661.0 L1236.2 674.0 L1241.2 684.0"/>
<path d="M1195.0 603.5 L1207.5 600.5 L1240.0 600.5 L1245.0 609.2 L1270.0 609.2 L1292.5 633.0"/>
<path d="M1185.0 561.8 L1200.0 551.8 L1215.0 540.5 L1222.5 538.0"/>
<path d="M1207.5 510.5 L1210.0 523.0 L1217.5 535.5 L1222.5 540.5 L1225.0 545.5 L1237.5 545.5 L1250.0 540.5 L1253.5 537.7 L1256.8 530.9 L1263.6 522.5 L1269.4 510.7 L1276.2 512.4 L1282.1 504.0 L1288.8 502.3 L1293.8 495.6 L1295.5 488.9 L1298.9 485.5"/>
<path d="M1251.4 430.0 L1251.4 479.6 L1351.9 479.6 L1354.4 477.1"/>
<path d="M1272.8 479.6 L1272.8 494.8 L1285.4 487.2 L1293.8 487.2 L1298.0 484.7 L1307.3 493.1 L1314.0 492.2 L1319.1 499.0 L1325.8 502.3 L1322.4 509.1 L1319.1 514.1 L1324.1 517.5 L1330.8 520.8 L1337.6 525.9 L1344.3 537.7"/>
<path d="M1351.9 479.6 L1351.9 513.3 L1364.5 512.4"/>
<path d="M1267.5 412.5 L1267.5 420.0 L1350.0 420.0 L1267.5 419.5 L1360.0 419.5 L1360.2 418.8 L1365.2 425.4 L1366.2 431.5 L1370.3 436.5 L1365.2 444.6 L1362.7 450.6 L1363.7 456.7 L1369.3 463.7 L1373.3 470.0 L1367.9 472.1 L1357.8 477.9"/>
<path d="M1370.3 437.5 L1392.5 446.6"/>
<path d="M1400.0 340.0 L1401.2 355.0 L1400.0 370.0 L1403.8 380.0 L1405.0 400.0 L1404.6 400.2 L1401.5 408.2 L1398.5 417.3 L1398.0 428.4 L1398.0 442.5 L1393.5 444.6"/>
<path d="M1446.2 333.8 L1440.0 345.0 L1432.5 357.5 L1427.5 370.0 L1422.5 385.0 L1418.8 400.0"/>
<path d="M1451.2 332.5 L1452.5 352.5 L1453.8 377.5 L1455.0 395.0 L1452.5 401.2"/>
<path d="M1404.6 400.2 L1445.9 400.2 L1451.0 396.6 L1456.0 398.2"/>
<path d="M1399.5 418.3 L1444.9 418.3 L1445.9 424.4 L1446.9 429.4"/>
<path d="M1434.8 418.3 L1434.8 435.5"/>
<path d="M1041.7 730.6 L1046.4 725.9 L1052.7 729.0 L1057.4 732.1 L1055.9 738.4 L1051.1 733.7 L1046.4 733.7 L1041.7 730.6"/>
</g>
<g fill="none" stroke="#000" stroke-width="4" stroke-linejoin="round" stroke-linecap="round">
<path d="M1339.3 490.6 L1336.7 505.7 L1340.9 517.5 L1342.6 530.9 L1344.3 544.4 L1347.7 552.8"/>
<path d="M1347.7 514.1 L1349.3 524.2 L1356.1 530.9"/>
<path d="M1325.8 525.9 L1340.9 539.3"/>
<path d="M1325.8 546.1 L1334.2 551.1 L1340.9 553.6"/>
<path d="M1330.8 534.3 L1342.6 546.1"/>
<path d="M1330.6 569.7 L1341.8 574.2 L1350.8 571.9"/>
<path d="M1337.3 578.7 L1348.5 583.1"/>
<path d="M1323.9 592.1 L1335.1 596.6 L1341.8 605.6 L1332.8 612.3"/>
<path d="M1317.1 612.3 L1328.3 607.8"/>
<path d="M1345.0 585.0 L1349.0 598.0 L1345.0 606.0"/>
<path d="M1330.8 504.0 L1335.9 517.5 L1339.3 524.2"/>
<path d="M1334.2 493.9 L1332.5 504.0 L1336.7 510.7"/>
<path d="M1340.9 480.5 L1339.3 490.6"/>
<path d="M1344.3 502.3 L1349.3 505.7"/>
<path d="M1343.5 517.5 L1351.0 519.2"/>
<path d="M1356.1 530.9 L1352.7 541.0 L1348.5 551.1"/>
<path d="M1329.2 541.0 L1335.9 547.8 L1344.3 549.4"/>
</g>
<path d="M1109.6 321.5 L1101.0 337.0 L1092.0 352.5" fill="none" stroke="#000" stroke-width="4" stroke-linecap="round"/>
<path d="M1114.0 331.0 L1109.0 340.0 L1104.0 349.0" fill="none" stroke="#000" stroke-width="5.5" stroke-linecap="round"/>
<path d="M359.6 234.7 L363.8 237.6 L368.9 241.0 L370.1 246.0 L368.9 250.2 L371.4 254.4 L374.8 260.3 L373.9 263.7 L372.2 267.1 L372.7 272.1 L372.2 278.8 L368.9 283.0 L364.7 286.4 L359.6 288.5 L355.4 287.2 L353.7 283.0 L352.1 278.0 L353.7 272.9 L357.1 268.7 L359.6 265.4 L360.5 262.0 L357.1 260.3 L355.4 258.6 L359.6 256.1 L360.5 251.9 L357.1 251.9 L353.7 249.4 L351.6 246.0 L352.9 243.1 L357.1 241.4 L360.5 241.8 L359.6 238.5Z" fill="#000"/>
<path d="M334.4 286.4 L339.4 287.2 L341.3 289.8 L338.6 292.3 L339.9 295.7 L337.8 297.8 L335.2 294.8Z" fill="#000"/>
<path d="M365.5 522.5 L374.5 521.8 L375.5 528.0 L372.5 533.0 L378.8 538.0 L377.5 541.0 L370.0 539.2 L367.0 534.2Z" fill="#000"/>
<path d="M1142.0 336.0 L1150.0 334.0 L1152.0 344.0 L1148.0 349.0 L1142.0 346.0Z" fill="#000"/>
<path d="M1201.5 789.4 L1206.6 787.4 L1212.6 790.3 L1212.3 797.1 L1206.6 798.8 L1202.4 796.2Z" fill="#000"/>
<path d="M1212.6 815.8 L1218.6 815.0 L1220.6 820.9 L1216.0 822.6Z" fill="#000"/>
<path d="M1235.6 859.3 L1241.6 857.6 L1245.8 861.8 L1239.9 866.1 L1236.1 864.0Z" fill="#000"/>
<path d="M886.6 802.4 L890.9 803.0 L894.0 808.0 L892.1 811.0 L888.4 809.2Z" fill="#000"/>
<rect x="1580" y="507" width="25" height="26.3" fill="#4d4d4d"/>
<text x="1616" y="527.5" font-family="DejaVu Sans, sans-serif" font-size="21.7" fill="#000">excl.-severe</text>
<rect x="1580" y="533" width="25" height="25.3" fill="#b3b3b3"/>
<text x="1616" y="553.0" font-family="DejaVu Sans, sans-serif" font-size="21.7" fill="#000">excl.-moderate</text>
<rect x="1580" y="558" width="25" height="26.3" fill="#0028d8"/>
<text x="1616" y="578.5" font-family="DejaVu Sans, sans-serif" font-size="21.7" fill="#000">0 gens.</text>
<rect x="1580" y="584" width="25" height="25.3" fill="#a52314"/>
<text x="1616" y="604.0" font-family="DejaVu Sans, sans-serif" font-size="21.7" fill="#000">1 gens.</text>
<rect x="1580" y="609" width="25" height="26.3" fill="#dcc300"/>
<text x="1616" y="629.5" font-family="DejaVu Sans, sans-serif" font-size="21.7" fill="#000">2 gens.</text>
<rect x="1580" y="635" width="25" height="25.3" fill="#26852b"/>
<text x="1616" y="655.0" font-family="DejaVu Sans, sans-serif" font-size="21.7" fill="#000">3 gens.</text>
<text x="1580" y="466" font-family="Liberation Sans, sans-serif" font-weight="bold" font-size="26.3" fill="#000">No. of</text>
<text x="1580" y="494" font-family="Liberation Sans, sans-serif" font-weight="bold" font-size="26.3" fill="#000">generations</text>
<text x="930.5" y="57" text-anchor="middle" font-family="Liberation Sans, sans-serif" font-weight="bold" font-size="33.67" fill="#000">Old world bollworm: Number of generations w/ climate stress</text>
<text x="930.5" y="97" text-anchor="middle" font-family="Liberation Sans, sans-serif" font-weight="bold" font-size="33.67" fill="#000">exclusions 05/30/2025</text>
<text x="930.7" y="148" text-anchor="middle" font-family="Liberation Sans, sans-serif" font-size="27.18" fill="#000">Maps and modeling 11/17/2025 by Oregon State University IPPC USPEST.ORG and</text>
<text x="930.7" y="181" text-anchor="middle" font-family="Liberation Sans, sans-serif" font-size="27.18" fill="#000">USDA-APHIS-PPQ; climate data from OSU PRISM Climate Group</text>
</svg>
</body></html>
